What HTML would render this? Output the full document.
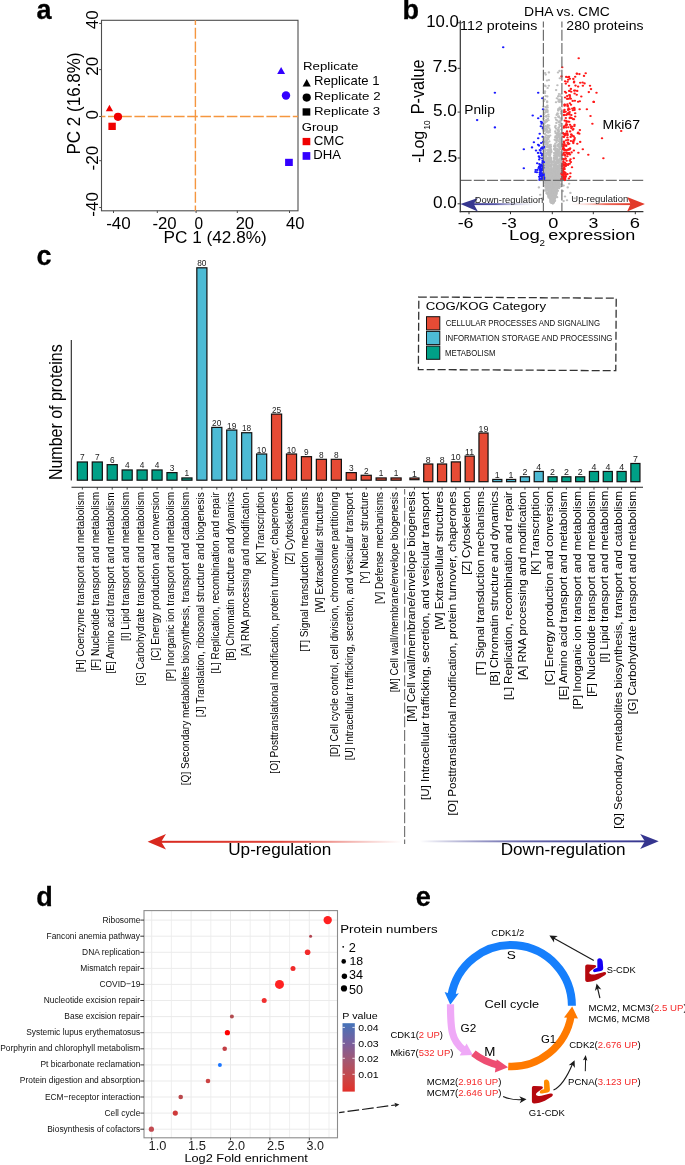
<!DOCTYPE html>
<html><head><meta charset="utf-8"><style>
html,body{margin:0;padding:0;background:#fff;width:685px;height:1165px;overflow:hidden}
svg{display:block;will-change:transform}
text{font-family:"Liberation Sans",sans-serif;white-space:pre}
</style></head><body><div id="w">
<svg width="685" height="1165" viewBox="0 0 685 1165">
<rect width="685" height="1165" fill="#fff"/>
<g>
<rect width="685" height="1165" fill="#fff"/>
<rect x="101.5" y="20.3" width="196.5" height="190.5" fill="none" stroke="#4d4d4d" stroke-width="1.1"/>
<line x1="113.5" y1="210.8" x2="113.5" y2="213" stroke="#4d4d4d" stroke-width="1"/>
<line x1="157.3" y1="210.8" x2="157.3" y2="213" stroke="#4d4d4d" stroke-width="1"/>
<line x1="196.1" y1="210.8" x2="196.1" y2="213" stroke="#4d4d4d" stroke-width="1"/>
<line x1="237.3" y1="210.8" x2="237.3" y2="213" stroke="#4d4d4d" stroke-width="1"/>
<line x1="289.5" y1="210.8" x2="289.5" y2="213" stroke="#4d4d4d" stroke-width="1"/>
<line x1="99.2" y1="23.4" x2="101.5" y2="23.4" stroke="#4d4d4d" stroke-width="1"/>
<line x1="99.2" y1="69.6" x2="101.5" y2="69.6" stroke="#4d4d4d" stroke-width="1"/>
<line x1="99.2" y1="116.5" x2="101.5" y2="116.5" stroke="#4d4d4d" stroke-width="1"/>
<line x1="99.2" y1="160.7" x2="101.5" y2="160.7" stroke="#4d4d4d" stroke-width="1"/>
<line x1="99.2" y1="207.5" x2="101.5" y2="207.5" stroke="#4d4d4d" stroke-width="1"/>
<line x1="101.5" y1="116.5" x2="298" y2="116.5" stroke="#f5963f" stroke-width="1.4" stroke-dasharray="10.6 2.6" stroke-dashoffset="6.7"/>
<line x1="195.4" y1="20.3" x2="195.4" y2="210.8" stroke="#f5963f" stroke-width="1.4" stroke-dasharray="11.0 2.67" stroke-dashoffset="6.2"/>
<polygon points="109.44999999999999,104.7 113.1,111.2 105.8,111.2" fill="#f00000"/>
<circle cx="118" cy="116.8" r="4.1" fill="#f00000"/>
<rect x="108.4" y="122.7" width="7.3999999999999915" height="7.299999999999997" fill="#f00000"/>
<polygon points="281.15,67 285.1,74 277.2,74" fill="#3300ff"/>
<circle cx="286" cy="95.5" r="4.2" fill="#3300ff"/>
<rect x="285.1" y="158.8" width="7.699999999999989" height="7.199999999999989" fill="#3300ff"/>
<polygon points="306.70000000000005,79.1 310.8,86.4 302.6,86.4" fill="#000"/>
<circle cx="306.7" cy="97.6" r="4.1" fill="#000"/>
<rect x="302.6" y="108.3" width="7.699999999999989" height="7.299999999999997" fill="#000"/>
<rect x="302.6" y="137.9" width="7.699999999999989" height="7.299999999999983" fill="#f00000"/>
<rect x="302.6" y="152.1" width="7.699999999999989" height="7.700000000000017" fill="#3300ff"/>
<g>
<ellipse cx="554.7" cy="191.8" rx="1.25" ry="1.05" fill="#bdbdbd"/>
<ellipse cx="554.2" cy="198.9" rx="1.25" ry="1.05" fill="#bdbdbd"/>
<ellipse cx="551.9" cy="187.5" rx="1.25" ry="1.05" fill="#bdbdbd"/>
<ellipse cx="553.4" cy="188.1" rx="1.25" ry="1.05" fill="#bdbdbd"/>
<ellipse cx="552.2" cy="200.5" rx="1.25" ry="1.05" fill="#bdbdbd"/>
<ellipse cx="552.8" cy="198.2" rx="1.25" ry="1.05" fill="#bdbdbd"/>
<ellipse cx="553.3" cy="189.7" rx="1.25" ry="1.05" fill="#bdbdbd"/>
<ellipse cx="551.7" cy="194.2" rx="1.25" ry="1.05" fill="#bdbdbd"/>
<ellipse cx="556.7" cy="185.9" rx="1.25" ry="1.05" fill="#bdbdbd"/>
<ellipse cx="551.5" cy="190.2" rx="1.25" ry="1.05" fill="#bdbdbd"/>
<ellipse cx="560.3" cy="180.5" rx="1.25" ry="1.05" fill="#bdbdbd"/>
<ellipse cx="553.9" cy="192.6" rx="1.25" ry="1.05" fill="#bdbdbd"/>
<ellipse cx="553.7" cy="196.4" rx="1.25" ry="1.05" fill="#bdbdbd"/>
<ellipse cx="554.8" cy="182.9" rx="1.25" ry="1.05" fill="#bdbdbd"/>
<ellipse cx="550.2" cy="195.3" rx="1.25" ry="1.05" fill="#bdbdbd"/>
<ellipse cx="550.8" cy="190.7" rx="1.25" ry="1.05" fill="#bdbdbd"/>
<ellipse cx="553.6" cy="187.3" rx="1.25" ry="1.05" fill="#bdbdbd"/>
<ellipse cx="552.9" cy="194.6" rx="1.25" ry="1.05" fill="#bdbdbd"/>
<ellipse cx="549.9" cy="185.0" rx="1.25" ry="1.05" fill="#bdbdbd"/>
<ellipse cx="553.8" cy="186.6" rx="1.25" ry="1.05" fill="#bdbdbd"/>
<ellipse cx="551.1" cy="189.1" rx="1.25" ry="1.05" fill="#bdbdbd"/>
<ellipse cx="558.4" cy="184.7" rx="1.25" ry="1.05" fill="#bdbdbd"/>
<ellipse cx="550.2" cy="193.6" rx="1.25" ry="1.05" fill="#bdbdbd"/>
<ellipse cx="550.5" cy="182.0" rx="1.25" ry="1.05" fill="#bdbdbd"/>
<ellipse cx="550.3" cy="184.2" rx="1.25" ry="1.05" fill="#bdbdbd"/>
<ellipse cx="557.1" cy="197.2" rx="1.25" ry="1.05" fill="#bdbdbd"/>
<ellipse cx="552.7" cy="189.8" rx="1.25" ry="1.05" fill="#bdbdbd"/>
<ellipse cx="550.9" cy="188.4" rx="1.25" ry="1.05" fill="#bdbdbd"/>
<ellipse cx="551.6" cy="200.4" rx="1.25" ry="1.05" fill="#bdbdbd"/>
<ellipse cx="547.9" cy="186.9" rx="1.25" ry="1.05" fill="#bdbdbd"/>
<ellipse cx="550.3" cy="182.0" rx="1.25" ry="1.05" fill="#bdbdbd"/>
<ellipse cx="557.1" cy="186.5" rx="1.25" ry="1.05" fill="#bdbdbd"/>
<ellipse cx="546.8" cy="186.7" rx="1.25" ry="1.05" fill="#bdbdbd"/>
<ellipse cx="554.7" cy="180.9" rx="1.25" ry="1.05" fill="#bdbdbd"/>
<ellipse cx="552.1" cy="188.7" rx="1.25" ry="1.05" fill="#bdbdbd"/>
<ellipse cx="551.5" cy="184.7" rx="1.25" ry="1.05" fill="#bdbdbd"/>
<ellipse cx="558.8" cy="185.6" rx="1.25" ry="1.05" fill="#bdbdbd"/>
<ellipse cx="552.4" cy="192.7" rx="1.25" ry="1.05" fill="#bdbdbd"/>
<ellipse cx="552.3" cy="190.4" rx="1.25" ry="1.05" fill="#bdbdbd"/>
<ellipse cx="552.1" cy="188.9" rx="1.25" ry="1.05" fill="#bdbdbd"/>
<ellipse cx="553.1" cy="195.7" rx="1.25" ry="1.05" fill="#bdbdbd"/>
<ellipse cx="553.4" cy="183.6" rx="1.25" ry="1.05" fill="#bdbdbd"/>
<ellipse cx="552.6" cy="196.9" rx="1.25" ry="1.05" fill="#bdbdbd"/>
<ellipse cx="556.4" cy="182.0" rx="1.25" ry="1.05" fill="#bdbdbd"/>
<ellipse cx="550.9" cy="198.6" rx="1.25" ry="1.05" fill="#bdbdbd"/>
<ellipse cx="554.1" cy="181.8" rx="1.25" ry="1.05" fill="#bdbdbd"/>
<ellipse cx="554.6" cy="182.8" rx="1.25" ry="1.05" fill="#bdbdbd"/>
<ellipse cx="550.9" cy="189.8" rx="1.25" ry="1.05" fill="#bdbdbd"/>
<ellipse cx="557.4" cy="191.0" rx="1.25" ry="1.05" fill="#bdbdbd"/>
<ellipse cx="549.6" cy="196.2" rx="1.25" ry="1.05" fill="#bdbdbd"/>
<ellipse cx="552.8" cy="195.5" rx="1.25" ry="1.05" fill="#bdbdbd"/>
<ellipse cx="554.7" cy="188.5" rx="1.25" ry="1.05" fill="#bdbdbd"/>
<ellipse cx="552.6" cy="186.6" rx="1.25" ry="1.05" fill="#bdbdbd"/>
<ellipse cx="552.8" cy="189.8" rx="1.25" ry="1.05" fill="#bdbdbd"/>
<ellipse cx="546.8" cy="190.8" rx="1.25" ry="1.05" fill="#bdbdbd"/>
<ellipse cx="549.2" cy="184.9" rx="1.25" ry="1.05" fill="#bdbdbd"/>
<ellipse cx="549.3" cy="187.9" rx="1.25" ry="1.05" fill="#bdbdbd"/>
<ellipse cx="551.3" cy="199.7" rx="1.25" ry="1.05" fill="#bdbdbd"/>
<ellipse cx="554.1" cy="181.6" rx="1.25" ry="1.05" fill="#bdbdbd"/>
<ellipse cx="545.2" cy="183.1" rx="1.25" ry="1.05" fill="#bdbdbd"/>
<ellipse cx="551.6" cy="190.3" rx="1.25" ry="1.05" fill="#bdbdbd"/>
<ellipse cx="553.5" cy="185.8" rx="1.25" ry="1.05" fill="#bdbdbd"/>
<ellipse cx="553.4" cy="199.3" rx="1.25" ry="1.05" fill="#bdbdbd"/>
<ellipse cx="553.1" cy="195.9" rx="1.25" ry="1.05" fill="#bdbdbd"/>
<ellipse cx="552.7" cy="191.4" rx="1.25" ry="1.05" fill="#bdbdbd"/>
<ellipse cx="552.6" cy="196.2" rx="1.25" ry="1.05" fill="#bdbdbd"/>
<ellipse cx="552.4" cy="197.8" rx="1.25" ry="1.05" fill="#bdbdbd"/>
<ellipse cx="553.3" cy="182.0" rx="1.25" ry="1.05" fill="#bdbdbd"/>
<ellipse cx="554.1" cy="186.1" rx="1.25" ry="1.05" fill="#bdbdbd"/>
<ellipse cx="554.1" cy="191.3" rx="1.25" ry="1.05" fill="#bdbdbd"/>
<ellipse cx="556.2" cy="190.9" rx="1.25" ry="1.05" fill="#bdbdbd"/>
<ellipse cx="558.2" cy="180.2" rx="1.25" ry="1.05" fill="#bdbdbd"/>
<ellipse cx="551.4" cy="188.8" rx="1.25" ry="1.05" fill="#bdbdbd"/>
<ellipse cx="552.7" cy="197.8" rx="1.25" ry="1.05" fill="#bdbdbd"/>
<ellipse cx="552.2" cy="191.4" rx="1.25" ry="1.05" fill="#bdbdbd"/>
<ellipse cx="556.0" cy="195.9" rx="1.25" ry="1.05" fill="#bdbdbd"/>
<ellipse cx="553.8" cy="201.3" rx="1.25" ry="1.05" fill="#bdbdbd"/>
<ellipse cx="551.9" cy="196.3" rx="1.25" ry="1.05" fill="#bdbdbd"/>
<ellipse cx="556.3" cy="187.4" rx="1.25" ry="1.05" fill="#bdbdbd"/>
<ellipse cx="553.4" cy="180.4" rx="1.25" ry="1.05" fill="#bdbdbd"/>
<ellipse cx="551.6" cy="182.1" rx="1.25" ry="1.05" fill="#bdbdbd"/>
<ellipse cx="550.7" cy="190.8" rx="1.25" ry="1.05" fill="#bdbdbd"/>
<ellipse cx="552.9" cy="195.7" rx="1.25" ry="1.05" fill="#bdbdbd"/>
<ellipse cx="548.2" cy="183.4" rx="1.25" ry="1.05" fill="#bdbdbd"/>
<ellipse cx="553.4" cy="191.6" rx="1.25" ry="1.05" fill="#bdbdbd"/>
<ellipse cx="560.0" cy="180.4" rx="1.25" ry="1.05" fill="#bdbdbd"/>
<ellipse cx="555.0" cy="182.3" rx="1.25" ry="1.05" fill="#bdbdbd"/>
<ellipse cx="546.4" cy="184.1" rx="1.25" ry="1.05" fill="#bdbdbd"/>
<ellipse cx="550.6" cy="194.1" rx="1.25" ry="1.05" fill="#bdbdbd"/>
<ellipse cx="552.5" cy="201.0" rx="1.25" ry="1.05" fill="#bdbdbd"/>
<ellipse cx="552.4" cy="201.0" rx="1.25" ry="1.05" fill="#bdbdbd"/>
<ellipse cx="555.2" cy="184.8" rx="1.25" ry="1.05" fill="#bdbdbd"/>
<ellipse cx="543.6" cy="180.8" rx="1.25" ry="1.05" fill="#bdbdbd"/>
<ellipse cx="555.7" cy="180.3" rx="1.25" ry="1.05" fill="#bdbdbd"/>
<ellipse cx="550.7" cy="180.8" rx="1.25" ry="1.05" fill="#bdbdbd"/>
<ellipse cx="553.7" cy="194.1" rx="1.25" ry="1.05" fill="#bdbdbd"/>
<ellipse cx="553.4" cy="194.9" rx="1.25" ry="1.05" fill="#bdbdbd"/>
<ellipse cx="557.8" cy="181.6" rx="1.25" ry="1.05" fill="#bdbdbd"/>
<ellipse cx="547.1" cy="182.5" rx="1.25" ry="1.05" fill="#bdbdbd"/>
<ellipse cx="553.3" cy="183.1" rx="1.25" ry="1.05" fill="#bdbdbd"/>
<ellipse cx="550.9" cy="198.4" rx="1.25" ry="1.05" fill="#bdbdbd"/>
<ellipse cx="545.8" cy="183.4" rx="1.25" ry="1.05" fill="#bdbdbd"/>
<ellipse cx="550.4" cy="183.9" rx="1.25" ry="1.05" fill="#bdbdbd"/>
<ellipse cx="552.9" cy="183.3" rx="1.25" ry="1.05" fill="#bdbdbd"/>
<ellipse cx="554.7" cy="191.6" rx="1.25" ry="1.05" fill="#bdbdbd"/>
<ellipse cx="545.9" cy="190.2" rx="1.25" ry="1.05" fill="#bdbdbd"/>
<ellipse cx="556.7" cy="190.1" rx="1.25" ry="1.05" fill="#bdbdbd"/>
<ellipse cx="551.6" cy="195.6" rx="1.25" ry="1.05" fill="#bdbdbd"/>
<ellipse cx="554.7" cy="196.9" rx="1.25" ry="1.05" fill="#bdbdbd"/>
<ellipse cx="559.1" cy="183.0" rx="1.25" ry="1.05" fill="#bdbdbd"/>
<ellipse cx="554.9" cy="196.3" rx="1.25" ry="1.05" fill="#bdbdbd"/>
<ellipse cx="544.3" cy="185.4" rx="1.25" ry="1.05" fill="#bdbdbd"/>
<ellipse cx="551.3" cy="191.2" rx="1.25" ry="1.05" fill="#bdbdbd"/>
<ellipse cx="552.4" cy="202.0" rx="1.25" ry="1.05" fill="#bdbdbd"/>
<ellipse cx="549.7" cy="180.6" rx="1.25" ry="1.05" fill="#bdbdbd"/>
<ellipse cx="548.7" cy="181.1" rx="1.25" ry="1.05" fill="#bdbdbd"/>
<ellipse cx="556.2" cy="189.5" rx="1.25" ry="1.05" fill="#bdbdbd"/>
<ellipse cx="549.9" cy="194.5" rx="1.25" ry="1.05" fill="#bdbdbd"/>
<ellipse cx="552.2" cy="193.5" rx="1.25" ry="1.05" fill="#bdbdbd"/>
<ellipse cx="554.9" cy="186.6" rx="1.25" ry="1.05" fill="#bdbdbd"/>
<ellipse cx="551.6" cy="193.3" rx="1.25" ry="1.05" fill="#bdbdbd"/>
<ellipse cx="553.6" cy="181.4" rx="1.25" ry="1.05" fill="#bdbdbd"/>
<ellipse cx="549.4" cy="191.1" rx="1.25" ry="1.05" fill="#bdbdbd"/>
<ellipse cx="553.9" cy="181.5" rx="1.25" ry="1.05" fill="#bdbdbd"/>
<ellipse cx="555.4" cy="189.7" rx="1.25" ry="1.05" fill="#bdbdbd"/>
<ellipse cx="550.8" cy="187.6" rx="1.25" ry="1.05" fill="#bdbdbd"/>
<ellipse cx="555.8" cy="187.8" rx="1.25" ry="1.05" fill="#bdbdbd"/>
<ellipse cx="552.8" cy="195.3" rx="1.25" ry="1.05" fill="#bdbdbd"/>
<ellipse cx="552.8" cy="202.9" rx="1.25" ry="1.05" fill="#bdbdbd"/>
<ellipse cx="550.9" cy="188.7" rx="1.25" ry="1.05" fill="#bdbdbd"/>
<ellipse cx="549.7" cy="184.3" rx="1.25" ry="1.05" fill="#bdbdbd"/>
<ellipse cx="551.7" cy="187.8" rx="1.25" ry="1.05" fill="#bdbdbd"/>
<ellipse cx="552.9" cy="187.2" rx="1.25" ry="1.05" fill="#bdbdbd"/>
<ellipse cx="551.2" cy="187.1" rx="1.25" ry="1.05" fill="#bdbdbd"/>
<ellipse cx="552.0" cy="193.5" rx="1.25" ry="1.05" fill="#bdbdbd"/>
<ellipse cx="557.6" cy="188.0" rx="1.25" ry="1.05" fill="#bdbdbd"/>
<ellipse cx="553.0" cy="187.1" rx="1.25" ry="1.05" fill="#bdbdbd"/>
<ellipse cx="546.4" cy="189.3" rx="1.25" ry="1.05" fill="#bdbdbd"/>
<ellipse cx="548.7" cy="186.2" rx="1.25" ry="1.05" fill="#bdbdbd"/>
<ellipse cx="552.5" cy="184.8" rx="1.25" ry="1.05" fill="#bdbdbd"/>
<ellipse cx="549.5" cy="189.1" rx="1.25" ry="1.05" fill="#bdbdbd"/>
<ellipse cx="551.7" cy="181.0" rx="1.25" ry="1.05" fill="#bdbdbd"/>
<ellipse cx="558.5" cy="184.7" rx="1.25" ry="1.05" fill="#bdbdbd"/>
<ellipse cx="548.9" cy="193.3" rx="1.25" ry="1.05" fill="#bdbdbd"/>
<ellipse cx="558.2" cy="187.1" rx="1.25" ry="1.05" fill="#bdbdbd"/>
<ellipse cx="551.4" cy="196.6" rx="1.25" ry="1.05" fill="#bdbdbd"/>
<ellipse cx="552.0" cy="197.1" rx="1.25" ry="1.05" fill="#bdbdbd"/>
<ellipse cx="552.9" cy="193.7" rx="1.25" ry="1.05" fill="#bdbdbd"/>
<ellipse cx="551.4" cy="198.9" rx="1.25" ry="1.05" fill="#bdbdbd"/>
<ellipse cx="546.6" cy="181.6" rx="1.25" ry="1.05" fill="#bdbdbd"/>
<ellipse cx="552.0" cy="196.1" rx="1.25" ry="1.05" fill="#bdbdbd"/>
<ellipse cx="550.1" cy="196.4" rx="1.25" ry="1.05" fill="#bdbdbd"/>
<ellipse cx="555.3" cy="181.8" rx="1.25" ry="1.05" fill="#bdbdbd"/>
<ellipse cx="552.0" cy="180.8" rx="1.25" ry="1.05" fill="#bdbdbd"/>
<ellipse cx="544.6" cy="190.2" rx="1.25" ry="1.05" fill="#bdbdbd"/>
<ellipse cx="553.5" cy="182.6" rx="1.25" ry="1.05" fill="#bdbdbd"/>
<ellipse cx="550.6" cy="195.9" rx="1.25" ry="1.05" fill="#bdbdbd"/>
<ellipse cx="553.8" cy="191.4" rx="1.25" ry="1.05" fill="#bdbdbd"/>
<ellipse cx="551.3" cy="194.9" rx="1.25" ry="1.05" fill="#bdbdbd"/>
<ellipse cx="554.1" cy="201.6" rx="1.25" ry="1.05" fill="#bdbdbd"/>
<ellipse cx="552.0" cy="187.2" rx="1.25" ry="1.05" fill="#bdbdbd"/>
<ellipse cx="552.8" cy="191.6" rx="1.25" ry="1.05" fill="#bdbdbd"/>
<ellipse cx="551.4" cy="186.0" rx="1.25" ry="1.05" fill="#bdbdbd"/>
<ellipse cx="552.5" cy="180.4" rx="1.25" ry="1.05" fill="#bdbdbd"/>
<ellipse cx="554.3" cy="183.3" rx="1.25" ry="1.05" fill="#bdbdbd"/>
<ellipse cx="552.4" cy="193.1" rx="1.25" ry="1.05" fill="#bdbdbd"/>
<ellipse cx="552.8" cy="200.4" rx="1.25" ry="1.05" fill="#bdbdbd"/>
<ellipse cx="551.3" cy="196.9" rx="1.25" ry="1.05" fill="#bdbdbd"/>
<ellipse cx="556.9" cy="189.7" rx="1.25" ry="1.05" fill="#bdbdbd"/>
<ellipse cx="550.4" cy="193.3" rx="1.25" ry="1.05" fill="#bdbdbd"/>
<ellipse cx="554.6" cy="196.2" rx="1.25" ry="1.05" fill="#bdbdbd"/>
<ellipse cx="550.4" cy="184.7" rx="1.25" ry="1.05" fill="#bdbdbd"/>
<ellipse cx="554.7" cy="198.2" rx="1.25" ry="1.05" fill="#bdbdbd"/>
<ellipse cx="554.1" cy="189.6" rx="1.25" ry="1.05" fill="#bdbdbd"/>
<ellipse cx="554.4" cy="198.9" rx="1.25" ry="1.05" fill="#bdbdbd"/>
<ellipse cx="550.6" cy="183.1" rx="1.25" ry="1.05" fill="#bdbdbd"/>
<ellipse cx="552.9" cy="198.5" rx="1.25" ry="1.05" fill="#bdbdbd"/>
<ellipse cx="551.5" cy="182.1" rx="1.25" ry="1.05" fill="#bdbdbd"/>
<ellipse cx="550.7" cy="189.1" rx="1.25" ry="1.05" fill="#bdbdbd"/>
<ellipse cx="556.9" cy="181.2" rx="1.25" ry="1.05" fill="#bdbdbd"/>
<ellipse cx="554.5" cy="193.1" rx="1.25" ry="1.05" fill="#bdbdbd"/>
<ellipse cx="554.5" cy="193.8" rx="1.25" ry="1.05" fill="#bdbdbd"/>
<ellipse cx="552.9" cy="197.5" rx="1.25" ry="1.05" fill="#bdbdbd"/>
<ellipse cx="553.1" cy="194.7" rx="1.25" ry="1.05" fill="#bdbdbd"/>
<ellipse cx="551.2" cy="192.0" rx="1.25" ry="1.05" fill="#bdbdbd"/>
<ellipse cx="556.3" cy="192.5" rx="1.25" ry="1.05" fill="#bdbdbd"/>
<ellipse cx="553.8" cy="188.2" rx="1.25" ry="1.05" fill="#bdbdbd"/>
<ellipse cx="553.4" cy="201.7" rx="1.25" ry="1.05" fill="#bdbdbd"/>
<ellipse cx="556.1" cy="193.5" rx="1.25" ry="1.05" fill="#bdbdbd"/>
<ellipse cx="553.1" cy="187.3" rx="1.25" ry="1.05" fill="#bdbdbd"/>
<ellipse cx="548.1" cy="195.1" rx="1.25" ry="1.05" fill="#bdbdbd"/>
<ellipse cx="553.2" cy="197.6" rx="1.25" ry="1.05" fill="#bdbdbd"/>
<ellipse cx="548.6" cy="182.8" rx="1.25" ry="1.05" fill="#bdbdbd"/>
<ellipse cx="554.4" cy="182.6" rx="1.25" ry="1.05" fill="#bdbdbd"/>
<ellipse cx="548.6" cy="190.3" rx="1.25" ry="1.05" fill="#bdbdbd"/>
<ellipse cx="552.3" cy="180.4" rx="1.25" ry="1.05" fill="#bdbdbd"/>
<ellipse cx="554.5" cy="191.4" rx="1.25" ry="1.05" fill="#bdbdbd"/>
<ellipse cx="548.1" cy="185.8" rx="1.25" ry="1.05" fill="#bdbdbd"/>
<ellipse cx="552.1" cy="190.1" rx="1.25" ry="1.05" fill="#bdbdbd"/>
<ellipse cx="553.1" cy="196.8" rx="1.25" ry="1.05" fill="#bdbdbd"/>
<ellipse cx="552.5" cy="199.0" rx="1.25" ry="1.05" fill="#bdbdbd"/>
<ellipse cx="551.2" cy="195.8" rx="1.25" ry="1.05" fill="#bdbdbd"/>
<ellipse cx="554.2" cy="198.4" rx="1.25" ry="1.05" fill="#bdbdbd"/>
<ellipse cx="546.8" cy="185.2" rx="1.25" ry="1.05" fill="#bdbdbd"/>
<ellipse cx="552.7" cy="192.7" rx="1.25" ry="1.05" fill="#bdbdbd"/>
<ellipse cx="555.0" cy="189.0" rx="1.25" ry="1.05" fill="#bdbdbd"/>
<ellipse cx="551.3" cy="196.0" rx="1.25" ry="1.05" fill="#bdbdbd"/>
<ellipse cx="553.7" cy="180.7" rx="1.25" ry="1.05" fill="#bdbdbd"/>
<ellipse cx="549.7" cy="180.5" rx="1.25" ry="1.05" fill="#bdbdbd"/>
<ellipse cx="551.7" cy="180.6" rx="1.25" ry="1.05" fill="#bdbdbd"/>
<ellipse cx="552.5" cy="192.1" rx="1.25" ry="1.05" fill="#bdbdbd"/>
<ellipse cx="552.7" cy="190.5" rx="1.25" ry="1.05" fill="#bdbdbd"/>
<ellipse cx="550.7" cy="188.7" rx="1.25" ry="1.05" fill="#bdbdbd"/>
<ellipse cx="552.6" cy="188.1" rx="1.25" ry="1.05" fill="#bdbdbd"/>
<ellipse cx="552.6" cy="202.8" rx="1.25" ry="1.05" fill="#bdbdbd"/>
<ellipse cx="553.8" cy="190.2" rx="1.25" ry="1.05" fill="#bdbdbd"/>
<ellipse cx="553.6" cy="200.3" rx="1.25" ry="1.05" fill="#bdbdbd"/>
<ellipse cx="552.9" cy="193.9" rx="1.25" ry="1.05" fill="#bdbdbd"/>
<ellipse cx="547.4" cy="186.6" rx="1.25" ry="1.05" fill="#bdbdbd"/>
<ellipse cx="551.6" cy="185.4" rx="1.25" ry="1.05" fill="#bdbdbd"/>
<ellipse cx="555.1" cy="184.4" rx="1.25" ry="1.05" fill="#bdbdbd"/>
<ellipse cx="550.9" cy="191.7" rx="1.25" ry="1.05" fill="#bdbdbd"/>
<ellipse cx="556.5" cy="180.4" rx="1.25" ry="1.05" fill="#bdbdbd"/>
<ellipse cx="556.9" cy="185.6" rx="1.25" ry="1.05" fill="#bdbdbd"/>
<ellipse cx="553.9" cy="200.2" rx="1.25" ry="1.05" fill="#bdbdbd"/>
<ellipse cx="546.6" cy="185.9" rx="1.25" ry="1.05" fill="#bdbdbd"/>
<ellipse cx="553.3" cy="184.1" rx="1.25" ry="1.05" fill="#bdbdbd"/>
<ellipse cx="551.1" cy="187.7" rx="1.25" ry="1.05" fill="#bdbdbd"/>
<ellipse cx="555.3" cy="188.1" rx="1.25" ry="1.05" fill="#bdbdbd"/>
<ellipse cx="546.8" cy="182.7" rx="1.25" ry="1.05" fill="#bdbdbd"/>
<ellipse cx="556.4" cy="186.7" rx="1.25" ry="1.05" fill="#bdbdbd"/>
<ellipse cx="549.3" cy="184.8" rx="1.25" ry="1.05" fill="#bdbdbd"/>
<ellipse cx="553.7" cy="194.0" rx="1.25" ry="1.05" fill="#bdbdbd"/>
<ellipse cx="552.9" cy="191.0" rx="1.25" ry="1.05" fill="#bdbdbd"/>
<ellipse cx="553.6" cy="197.7" rx="1.25" ry="1.05" fill="#bdbdbd"/>
<ellipse cx="549.0" cy="185.9" rx="1.25" ry="1.05" fill="#bdbdbd"/>
<ellipse cx="551.0" cy="185.9" rx="1.25" ry="1.05" fill="#bdbdbd"/>
<ellipse cx="551.8" cy="203.0" rx="1.25" ry="1.05" fill="#bdbdbd"/>
<ellipse cx="552.6" cy="183.1" rx="1.25" ry="1.05" fill="#bdbdbd"/>
<ellipse cx="549.0" cy="187.5" rx="1.25" ry="1.05" fill="#bdbdbd"/>
<ellipse cx="557.6" cy="185.4" rx="1.25" ry="1.05" fill="#bdbdbd"/>
<ellipse cx="554.0" cy="193.4" rx="1.25" ry="1.05" fill="#bdbdbd"/>
<ellipse cx="552.4" cy="198.8" rx="1.25" ry="1.05" fill="#bdbdbd"/>
<ellipse cx="555.8" cy="194.7" rx="1.25" ry="1.05" fill="#bdbdbd"/>
<ellipse cx="556.7" cy="184.1" rx="1.25" ry="1.05" fill="#bdbdbd"/>
<ellipse cx="552.1" cy="190.5" rx="1.25" ry="1.05" fill="#bdbdbd"/>
<ellipse cx="550.6" cy="188.6" rx="1.25" ry="1.05" fill="#bdbdbd"/>
<ellipse cx="547.5" cy="186.1" rx="1.25" ry="1.05" fill="#bdbdbd"/>
<ellipse cx="554.3" cy="185.7" rx="1.25" ry="1.05" fill="#bdbdbd"/>
<ellipse cx="553.2" cy="193.4" rx="1.25" ry="1.05" fill="#bdbdbd"/>
<ellipse cx="551.1" cy="184.0" rx="1.25" ry="1.05" fill="#bdbdbd"/>
<ellipse cx="553.7" cy="202.1" rx="1.25" ry="1.05" fill="#bdbdbd"/>
<ellipse cx="552.4" cy="199.4" rx="1.25" ry="1.05" fill="#bdbdbd"/>
<ellipse cx="557.7" cy="184.8" rx="1.25" ry="1.05" fill="#bdbdbd"/>
<ellipse cx="551.6" cy="185.1" rx="1.25" ry="1.05" fill="#bdbdbd"/>
<ellipse cx="555.9" cy="188.9" rx="1.25" ry="1.05" fill="#bdbdbd"/>
<ellipse cx="557.1" cy="188.8" rx="1.25" ry="1.05" fill="#bdbdbd"/>
<ellipse cx="555.5" cy="194.8" rx="1.25" ry="1.05" fill="#bdbdbd"/>
<ellipse cx="553.3" cy="180.5" rx="1.25" ry="1.05" fill="#bdbdbd"/>
<ellipse cx="552.4" cy="189.0" rx="1.25" ry="1.05" fill="#bdbdbd"/>
<ellipse cx="556.6" cy="182.8" rx="1.25" ry="1.05" fill="#bdbdbd"/>
<ellipse cx="552.1" cy="193.0" rx="1.25" ry="1.05" fill="#bdbdbd"/>
<ellipse cx="553.9" cy="194.5" rx="1.25" ry="1.05" fill="#bdbdbd"/>
<ellipse cx="551.9" cy="186.7" rx="1.25" ry="1.05" fill="#bdbdbd"/>
<ellipse cx="548.3" cy="196.5" rx="1.25" ry="1.05" fill="#bdbdbd"/>
<ellipse cx="552.0" cy="196.8" rx="1.25" ry="1.05" fill="#bdbdbd"/>
<ellipse cx="544.8" cy="182.8" rx="1.25" ry="1.05" fill="#bdbdbd"/>
<ellipse cx="552.2" cy="184.6" rx="1.25" ry="1.05" fill="#bdbdbd"/>
<ellipse cx="554.6" cy="194.0" rx="1.25" ry="1.05" fill="#bdbdbd"/>
<ellipse cx="551.9" cy="201.2" rx="1.25" ry="1.05" fill="#bdbdbd"/>
<ellipse cx="551.7" cy="203.0" rx="1.25" ry="1.05" fill="#bdbdbd"/>
<ellipse cx="552.7" cy="192.3" rx="1.25" ry="1.05" fill="#bdbdbd"/>
<ellipse cx="551.8" cy="196.5" rx="1.25" ry="1.05" fill="#bdbdbd"/>
<ellipse cx="555.3" cy="182.5" rx="1.25" ry="1.05" fill="#bdbdbd"/>
<ellipse cx="552.6" cy="203.3" rx="1.25" ry="1.05" fill="#bdbdbd"/>
<ellipse cx="549.4" cy="197.2" rx="1.25" ry="1.05" fill="#bdbdbd"/>
<ellipse cx="550.6" cy="181.2" rx="1.25" ry="1.05" fill="#bdbdbd"/>
<ellipse cx="547.7" cy="192.5" rx="1.25" ry="1.05" fill="#bdbdbd"/>
<ellipse cx="545.2" cy="190.7" rx="1.25" ry="1.05" fill="#bdbdbd"/>
<ellipse cx="559.9" cy="186.6" rx="1.25" ry="1.05" fill="#bdbdbd"/>
<ellipse cx="550.8" cy="191.0" rx="1.25" ry="1.05" fill="#bdbdbd"/>
<ellipse cx="553.0" cy="200.0" rx="1.25" ry="1.05" fill="#bdbdbd"/>
<ellipse cx="553.2" cy="197.8" rx="1.25" ry="1.05" fill="#bdbdbd"/>
<ellipse cx="549.8" cy="181.1" rx="1.25" ry="1.05" fill="#bdbdbd"/>
<ellipse cx="552.3" cy="193.5" rx="1.25" ry="1.05" fill="#bdbdbd"/>
<ellipse cx="554.9" cy="195.1" rx="1.25" ry="1.05" fill="#bdbdbd"/>
<ellipse cx="557.8" cy="190.7" rx="1.25" ry="1.05" fill="#bdbdbd"/>
<ellipse cx="550.5" cy="182.9" rx="1.25" ry="1.05" fill="#bdbdbd"/>
<ellipse cx="559.3" cy="185.9" rx="1.25" ry="1.05" fill="#bdbdbd"/>
<ellipse cx="548.8" cy="187.3" rx="1.25" ry="1.05" fill="#bdbdbd"/>
<ellipse cx="558.0" cy="184.4" rx="1.25" ry="1.05" fill="#bdbdbd"/>
<ellipse cx="554.0" cy="189.1" rx="1.25" ry="1.05" fill="#bdbdbd"/>
<ellipse cx="550.8" cy="183.8" rx="1.25" ry="1.05" fill="#bdbdbd"/>
<ellipse cx="551.8" cy="199.9" rx="1.25" ry="1.05" fill="#bdbdbd"/>
<ellipse cx="555.7" cy="181.2" rx="1.25" ry="1.05" fill="#bdbdbd"/>
<ellipse cx="554.6" cy="191.3" rx="1.25" ry="1.05" fill="#bdbdbd"/>
<ellipse cx="552.2" cy="192.4" rx="1.25" ry="1.05" fill="#bdbdbd"/>
<ellipse cx="546.5" cy="193.3" rx="1.25" ry="1.05" fill="#bdbdbd"/>
<ellipse cx="551.3" cy="185.4" rx="1.25" ry="1.05" fill="#bdbdbd"/>
<ellipse cx="555.8" cy="190.3" rx="1.25" ry="1.05" fill="#bdbdbd"/>
<ellipse cx="553.3" cy="195.7" rx="1.25" ry="1.05" fill="#bdbdbd"/>
<ellipse cx="554.9" cy="181.5" rx="1.25" ry="1.05" fill="#bdbdbd"/>
<ellipse cx="553.8" cy="188.2" rx="1.25" ry="1.05" fill="#bdbdbd"/>
<ellipse cx="561.4" cy="180.2" rx="1.25" ry="1.05" fill="#bdbdbd"/>
<ellipse cx="553.8" cy="189.1" rx="1.25" ry="1.05" fill="#bdbdbd"/>
<ellipse cx="553.4" cy="198.2" rx="1.25" ry="1.05" fill="#bdbdbd"/>
<ellipse cx="554.1" cy="191.4" rx="1.25" ry="1.05" fill="#bdbdbd"/>
<ellipse cx="553.5" cy="193.3" rx="1.25" ry="1.05" fill="#bdbdbd"/>
<ellipse cx="556.6" cy="186.9" rx="1.25" ry="1.05" fill="#bdbdbd"/>
<ellipse cx="549.7" cy="189.9" rx="1.25" ry="1.05" fill="#bdbdbd"/>
<ellipse cx="550.0" cy="189.9" rx="1.25" ry="1.05" fill="#bdbdbd"/>
<ellipse cx="552.2" cy="191.5" rx="1.25" ry="1.05" fill="#bdbdbd"/>
<ellipse cx="552.0" cy="199.3" rx="1.25" ry="1.05" fill="#bdbdbd"/>
<ellipse cx="556.9" cy="197.0" rx="1.25" ry="1.05" fill="#bdbdbd"/>
<ellipse cx="548.6" cy="188.1" rx="1.25" ry="1.05" fill="#bdbdbd"/>
<ellipse cx="549.6" cy="194.4" rx="1.25" ry="1.05" fill="#bdbdbd"/>
<ellipse cx="552.6" cy="193.0" rx="1.25" ry="1.05" fill="#bdbdbd"/>
<ellipse cx="555.4" cy="189.2" rx="1.25" ry="1.05" fill="#bdbdbd"/>
<ellipse cx="557.3" cy="180.8" rx="1.25" ry="1.05" fill="#bdbdbd"/>
<ellipse cx="550.9" cy="201.4" rx="1.25" ry="1.05" fill="#bdbdbd"/>
<ellipse cx="552.0" cy="200.8" rx="1.25" ry="1.05" fill="#bdbdbd"/>
<ellipse cx="546.7" cy="188.7" rx="1.25" ry="1.05" fill="#bdbdbd"/>
<ellipse cx="555.8" cy="186.6" rx="1.25" ry="1.05" fill="#bdbdbd"/>
<ellipse cx="552.6" cy="181.2" rx="1.25" ry="1.05" fill="#bdbdbd"/>
<ellipse cx="558.8" cy="182.7" rx="1.25" ry="1.05" fill="#bdbdbd"/>
<ellipse cx="548.0" cy="193.5" rx="1.25" ry="1.05" fill="#bdbdbd"/>
<ellipse cx="553.7" cy="197.5" rx="1.25" ry="1.05" fill="#bdbdbd"/>
<ellipse cx="556.0" cy="185.0" rx="1.25" ry="1.05" fill="#bdbdbd"/>
<ellipse cx="551.6" cy="181.0" rx="1.25" ry="1.05" fill="#bdbdbd"/>
<ellipse cx="547.5" cy="183.7" rx="1.25" ry="1.05" fill="#bdbdbd"/>
<ellipse cx="551.8" cy="189.0" rx="1.25" ry="1.05" fill="#bdbdbd"/>
<ellipse cx="552.3" cy="183.4" rx="1.25" ry="1.05" fill="#bdbdbd"/>
<ellipse cx="555.3" cy="193.9" rx="1.25" ry="1.05" fill="#bdbdbd"/>
<ellipse cx="551.0" cy="192.2" rx="1.25" ry="1.05" fill="#bdbdbd"/>
<ellipse cx="552.6" cy="196.9" rx="1.25" ry="1.05" fill="#bdbdbd"/>
<ellipse cx="557.5" cy="184.7" rx="1.25" ry="1.05" fill="#bdbdbd"/>
<ellipse cx="554.4" cy="197.4" rx="1.25" ry="1.05" fill="#bdbdbd"/>
<ellipse cx="554.3" cy="186.7" rx="1.25" ry="1.05" fill="#bdbdbd"/>
<ellipse cx="553.2" cy="190.4" rx="1.25" ry="1.05" fill="#bdbdbd"/>
<ellipse cx="553.8" cy="202.3" rx="1.25" ry="1.05" fill="#bdbdbd"/>
<ellipse cx="546.8" cy="192.3" rx="1.25" ry="1.05" fill="#bdbdbd"/>
<ellipse cx="554.7" cy="185.6" rx="1.25" ry="1.05" fill="#bdbdbd"/>
<ellipse cx="549.8" cy="181.8" rx="1.25" ry="1.05" fill="#bdbdbd"/>
<ellipse cx="552.8" cy="193.6" rx="1.25" ry="1.05" fill="#bdbdbd"/>
<ellipse cx="551.6" cy="180.7" rx="1.25" ry="1.05" fill="#bdbdbd"/>
<ellipse cx="551.8" cy="201.4" rx="1.25" ry="1.05" fill="#bdbdbd"/>
<ellipse cx="551.2" cy="188.2" rx="1.25" ry="1.05" fill="#bdbdbd"/>
<ellipse cx="550.6" cy="193.3" rx="1.25" ry="1.05" fill="#bdbdbd"/>
<ellipse cx="554.8" cy="185.2" rx="1.25" ry="1.05" fill="#bdbdbd"/>
<ellipse cx="552.2" cy="200.7" rx="1.25" ry="1.05" fill="#bdbdbd"/>
<ellipse cx="549.3" cy="191.5" rx="1.25" ry="1.05" fill="#bdbdbd"/>
<ellipse cx="554.0" cy="194.8" rx="1.25" ry="1.05" fill="#bdbdbd"/>
<ellipse cx="552.3" cy="183.2" rx="1.25" ry="1.05" fill="#bdbdbd"/>
<ellipse cx="550.2" cy="194.7" rx="1.25" ry="1.05" fill="#bdbdbd"/>
<ellipse cx="549.8" cy="180.6" rx="1.25" ry="1.05" fill="#bdbdbd"/>
<ellipse cx="556.2" cy="194.0" rx="1.25" ry="1.05" fill="#bdbdbd"/>
<ellipse cx="552.7" cy="194.2" rx="1.25" ry="1.05" fill="#bdbdbd"/>
<ellipse cx="549.2" cy="180.8" rx="1.25" ry="1.05" fill="#bdbdbd"/>
<ellipse cx="553.4" cy="188.3" rx="1.25" ry="1.05" fill="#bdbdbd"/>
<ellipse cx="554.4" cy="189.8" rx="1.25" ry="1.05" fill="#bdbdbd"/>
<ellipse cx="554.4" cy="185.3" rx="1.25" ry="1.05" fill="#bdbdbd"/>
<ellipse cx="552.1" cy="190.3" rx="1.25" ry="1.05" fill="#bdbdbd"/>
<ellipse cx="553.7" cy="194.4" rx="1.25" ry="1.05" fill="#bdbdbd"/>
<ellipse cx="552.5" cy="199.8" rx="1.25" ry="1.05" fill="#bdbdbd"/>
<ellipse cx="550.4" cy="199.4" rx="1.25" ry="1.05" fill="#bdbdbd"/>
<ellipse cx="557.7" cy="181.8" rx="1.25" ry="1.05" fill="#bdbdbd"/>
<ellipse cx="560.8" cy="184.2" rx="1.25" ry="1.05" fill="#bdbdbd"/>
<ellipse cx="552.5" cy="191.7" rx="1.25" ry="1.05" fill="#bdbdbd"/>
<ellipse cx="555.5" cy="195.2" rx="1.25" ry="1.05" fill="#bdbdbd"/>
<ellipse cx="551.9" cy="200.8" rx="1.25" ry="1.05" fill="#bdbdbd"/>
<ellipse cx="550.2" cy="185.3" rx="1.25" ry="1.05" fill="#bdbdbd"/>
<ellipse cx="554.2" cy="191.6" rx="1.25" ry="1.05" fill="#bdbdbd"/>
<ellipse cx="554.1" cy="195.7" rx="1.25" ry="1.05" fill="#bdbdbd"/>
<ellipse cx="552.6" cy="191.2" rx="1.25" ry="1.05" fill="#bdbdbd"/>
<ellipse cx="560.0" cy="180.8" rx="1.25" ry="1.05" fill="#bdbdbd"/>
<ellipse cx="556.3" cy="194.6" rx="1.25" ry="1.05" fill="#bdbdbd"/>
<ellipse cx="554.6" cy="191.1" rx="1.25" ry="1.05" fill="#bdbdbd"/>
<ellipse cx="548.0" cy="189.5" rx="1.25" ry="1.05" fill="#bdbdbd"/>
<ellipse cx="551.4" cy="199.9" rx="1.25" ry="1.05" fill="#bdbdbd"/>
<ellipse cx="553.2" cy="181.3" rx="1.25" ry="1.05" fill="#bdbdbd"/>
<ellipse cx="549.8" cy="195.0" rx="1.25" ry="1.05" fill="#bdbdbd"/>
<ellipse cx="554.4" cy="200.9" rx="1.25" ry="1.05" fill="#bdbdbd"/>
<ellipse cx="554.3" cy="189.9" rx="1.25" ry="1.05" fill="#bdbdbd"/>
<ellipse cx="550.7" cy="200.3" rx="1.25" ry="1.05" fill="#bdbdbd"/>
<ellipse cx="555.0" cy="200.6" rx="1.25" ry="1.05" fill="#bdbdbd"/>
<ellipse cx="554.5" cy="193.3" rx="1.25" ry="1.05" fill="#bdbdbd"/>
<ellipse cx="555.2" cy="183.9" rx="1.25" ry="1.05" fill="#bdbdbd"/>
<ellipse cx="551.4" cy="193.0" rx="1.25" ry="1.05" fill="#bdbdbd"/>
<ellipse cx="550.3" cy="180.7" rx="1.25" ry="1.05" fill="#bdbdbd"/>
<ellipse cx="550.8" cy="184.4" rx="1.25" ry="1.05" fill="#bdbdbd"/>
<ellipse cx="552.6" cy="191.9" rx="1.25" ry="1.05" fill="#bdbdbd"/>
<ellipse cx="552.9" cy="183.8" rx="1.25" ry="1.05" fill="#bdbdbd"/>
<ellipse cx="546.3" cy="181.3" rx="1.25" ry="1.05" fill="#bdbdbd"/>
<ellipse cx="550.7" cy="201.3" rx="1.25" ry="1.05" fill="#bdbdbd"/>
<ellipse cx="547.3" cy="193.9" rx="1.25" ry="1.05" fill="#bdbdbd"/>
<ellipse cx="554.2" cy="180.8" rx="1.25" ry="1.05" fill="#bdbdbd"/>
<ellipse cx="552.6" cy="190.4" rx="1.25" ry="1.05" fill="#bdbdbd"/>
<ellipse cx="555.7" cy="188.3" rx="1.25" ry="1.05" fill="#bdbdbd"/>
<ellipse cx="555.5" cy="181.2" rx="1.25" ry="1.05" fill="#bdbdbd"/>
<ellipse cx="558.4" cy="184.1" rx="1.25" ry="1.05" fill="#bdbdbd"/>
<ellipse cx="553.3" cy="182.8" rx="1.25" ry="1.05" fill="#bdbdbd"/>
<ellipse cx="549.3" cy="191.7" rx="1.25" ry="1.05" fill="#bdbdbd"/>
<ellipse cx="549.9" cy="191.9" rx="1.25" ry="1.05" fill="#bdbdbd"/>
<ellipse cx="554.5" cy="198.6" rx="1.25" ry="1.05" fill="#bdbdbd"/>
<ellipse cx="552.6" cy="194.9" rx="1.25" ry="1.05" fill="#bdbdbd"/>
<ellipse cx="551.6" cy="199.2" rx="1.25" ry="1.05" fill="#bdbdbd"/>
<ellipse cx="551.6" cy="200.7" rx="1.25" ry="1.05" fill="#bdbdbd"/>
<ellipse cx="551.4" cy="180.4" rx="1.25" ry="1.05" fill="#bdbdbd"/>
<ellipse cx="555.6" cy="181.8" rx="1.25" ry="1.05" fill="#bdbdbd"/>
<ellipse cx="552.5" cy="198.4" rx="1.25" ry="1.05" fill="#bdbdbd"/>
<ellipse cx="550.2" cy="198.0" rx="1.25" ry="1.05" fill="#bdbdbd"/>
<ellipse cx="552.6" cy="189.2" rx="1.25" ry="1.05" fill="#bdbdbd"/>
<ellipse cx="550.0" cy="193.9" rx="1.25" ry="1.05" fill="#bdbdbd"/>
<ellipse cx="555.0" cy="185.1" rx="1.25" ry="1.05" fill="#bdbdbd"/>
<ellipse cx="555.6" cy="183.9" rx="1.25" ry="1.05" fill="#bdbdbd"/>
<ellipse cx="550.6" cy="197.1" rx="1.25" ry="1.05" fill="#bdbdbd"/>
<ellipse cx="551.3" cy="182.5" rx="1.25" ry="1.05" fill="#bdbdbd"/>
<ellipse cx="555.8" cy="190.7" rx="1.25" ry="1.05" fill="#bdbdbd"/>
<ellipse cx="553.4" cy="184.1" rx="1.25" ry="1.05" fill="#bdbdbd"/>
<ellipse cx="554.1" cy="193.6" rx="1.25" ry="1.05" fill="#bdbdbd"/>
<ellipse cx="554.4" cy="196.1" rx="1.25" ry="1.05" fill="#bdbdbd"/>
<ellipse cx="550.5" cy="191.7" rx="1.25" ry="1.05" fill="#bdbdbd"/>
<ellipse cx="555.8" cy="190.2" rx="1.25" ry="1.05" fill="#bdbdbd"/>
<ellipse cx="552.5" cy="194.0" rx="1.25" ry="1.05" fill="#bdbdbd"/>
<ellipse cx="546.1" cy="183.0" rx="1.25" ry="1.05" fill="#bdbdbd"/>
<ellipse cx="548.7" cy="197.8" rx="1.25" ry="1.05" fill="#bdbdbd"/>
<ellipse cx="554.9" cy="188.7" rx="1.25" ry="1.05" fill="#bdbdbd"/>
<ellipse cx="545.8" cy="181.4" rx="1.25" ry="1.05" fill="#bdbdbd"/>
<ellipse cx="552.4" cy="200.4" rx="1.25" ry="1.05" fill="#bdbdbd"/>
<ellipse cx="553.5" cy="195.1" rx="1.25" ry="1.05" fill="#bdbdbd"/>
<ellipse cx="544.5" cy="180.5" rx="1.25" ry="1.05" fill="#bdbdbd"/>
<ellipse cx="549.6" cy="190.7" rx="1.25" ry="1.05" fill="#bdbdbd"/>
<ellipse cx="549.8" cy="182.1" rx="1.25" ry="1.05" fill="#bdbdbd"/>
<ellipse cx="553.5" cy="183.5" rx="1.25" ry="1.05" fill="#bdbdbd"/>
<ellipse cx="556.8" cy="180.9" rx="1.25" ry="1.05" fill="#bdbdbd"/>
<ellipse cx="555.3" cy="186.0" rx="1.25" ry="1.05" fill="#bdbdbd"/>
<ellipse cx="551.8" cy="194.3" rx="1.25" ry="1.05" fill="#bdbdbd"/>
<ellipse cx="553.4" cy="194.7" rx="1.25" ry="1.05" fill="#bdbdbd"/>
<ellipse cx="550.0" cy="193.4" rx="1.25" ry="1.05" fill="#bdbdbd"/>
<ellipse cx="550.9" cy="194.7" rx="1.25" ry="1.05" fill="#bdbdbd"/>
<ellipse cx="552.0" cy="202.2" rx="1.25" ry="1.05" fill="#bdbdbd"/>
<ellipse cx="555.2" cy="195.2" rx="1.25" ry="1.05" fill="#bdbdbd"/>
<ellipse cx="553.8" cy="192.0" rx="1.25" ry="1.05" fill="#bdbdbd"/>
<ellipse cx="557.9" cy="187.3" rx="1.25" ry="1.05" fill="#bdbdbd"/>
<ellipse cx="553.7" cy="199.3" rx="1.25" ry="1.05" fill="#bdbdbd"/>
<ellipse cx="554.4" cy="187.3" rx="1.25" ry="1.05" fill="#bdbdbd"/>
<ellipse cx="554.3" cy="185.7" rx="1.25" ry="1.05" fill="#bdbdbd"/>
<ellipse cx="553.7" cy="184.8" rx="1.25" ry="1.05" fill="#bdbdbd"/>
<ellipse cx="552.1" cy="189.9" rx="1.25" ry="1.05" fill="#bdbdbd"/>
<ellipse cx="556.0" cy="180.8" rx="1.25" ry="1.05" fill="#bdbdbd"/>
<ellipse cx="550.5" cy="192.0" rx="1.25" ry="1.05" fill="#bdbdbd"/>
<ellipse cx="551.6" cy="189.8" rx="1.25" ry="1.05" fill="#bdbdbd"/>
<ellipse cx="556.2" cy="182.1" rx="1.25" ry="1.05" fill="#bdbdbd"/>
<ellipse cx="552.6" cy="194.9" rx="1.25" ry="1.05" fill="#bdbdbd"/>
<ellipse cx="552.7" cy="184.2" rx="1.25" ry="1.05" fill="#bdbdbd"/>
<ellipse cx="553.0" cy="181.6" rx="1.25" ry="1.05" fill="#bdbdbd"/>
<ellipse cx="553.8" cy="189.7" rx="1.25" ry="1.05" fill="#bdbdbd"/>
<ellipse cx="549.0" cy="181.8" rx="1.25" ry="1.05" fill="#bdbdbd"/>
<ellipse cx="552.9" cy="188.9" rx="1.25" ry="1.05" fill="#bdbdbd"/>
<ellipse cx="553.1" cy="187.2" rx="1.25" ry="1.05" fill="#bdbdbd"/>
<ellipse cx="553.8" cy="185.7" rx="1.25" ry="1.05" fill="#bdbdbd"/>
<ellipse cx="551.8" cy="186.0" rx="1.25" ry="1.05" fill="#bdbdbd"/>
<ellipse cx="551.2" cy="190.8" rx="1.25" ry="1.05" fill="#bdbdbd"/>
<ellipse cx="552.6" cy="192.7" rx="1.25" ry="1.05" fill="#bdbdbd"/>
<ellipse cx="553.9" cy="187.8" rx="1.25" ry="1.05" fill="#bdbdbd"/>
<ellipse cx="552.0" cy="188.4" rx="1.25" ry="1.05" fill="#bdbdbd"/>
<ellipse cx="555.0" cy="183.0" rx="1.25" ry="1.05" fill="#bdbdbd"/>
<ellipse cx="552.4" cy="197.0" rx="1.25" ry="1.05" fill="#bdbdbd"/>
<ellipse cx="557.1" cy="181.0" rx="1.25" ry="1.05" fill="#bdbdbd"/>
<ellipse cx="552.4" cy="199.7" rx="1.25" ry="1.05" fill="#bdbdbd"/>
<ellipse cx="546.1" cy="181.2" rx="1.25" ry="1.05" fill="#bdbdbd"/>
<ellipse cx="557.2" cy="186.0" rx="1.25" ry="1.05" fill="#bdbdbd"/>
<ellipse cx="556.1" cy="182.7" rx="1.25" ry="1.05" fill="#bdbdbd"/>
<ellipse cx="555.7" cy="194.2" rx="1.25" ry="1.05" fill="#bdbdbd"/>
<ellipse cx="555.5" cy="190.1" rx="1.25" ry="1.05" fill="#bdbdbd"/>
<ellipse cx="549.6" cy="195.3" rx="1.25" ry="1.05" fill="#bdbdbd"/>
<ellipse cx="550.6" cy="194.3" rx="1.25" ry="1.05" fill="#bdbdbd"/>
<ellipse cx="554.5" cy="190.5" rx="1.25" ry="1.05" fill="#bdbdbd"/>
<ellipse cx="552.6" cy="197.1" rx="1.25" ry="1.05" fill="#bdbdbd"/>
<ellipse cx="558.9" cy="181.6" rx="1.25" ry="1.05" fill="#bdbdbd"/>
<ellipse cx="550.7" cy="200.3" rx="1.25" ry="1.05" fill="#bdbdbd"/>
<ellipse cx="551.8" cy="200.5" rx="1.25" ry="1.05" fill="#bdbdbd"/>
<ellipse cx="556.4" cy="182.5" rx="1.25" ry="1.05" fill="#bdbdbd"/>
<ellipse cx="555.4" cy="187.3" rx="1.25" ry="1.05" fill="#bdbdbd"/>
<ellipse cx="551.4" cy="185.9" rx="1.25" ry="1.05" fill="#bdbdbd"/>
<ellipse cx="555.7" cy="186.7" rx="1.25" ry="1.05" fill="#bdbdbd"/>
<ellipse cx="551.0" cy="189.6" rx="1.25" ry="1.05" fill="#bdbdbd"/>
<ellipse cx="550.1" cy="189.4" rx="1.25" ry="1.05" fill="#bdbdbd"/>
<ellipse cx="551.7" cy="201.3" rx="1.25" ry="1.05" fill="#bdbdbd"/>
<ellipse cx="550.9" cy="193.9" rx="1.25" ry="1.05" fill="#bdbdbd"/>
<ellipse cx="553.3" cy="183.7" rx="1.25" ry="1.05" fill="#bdbdbd"/>
<ellipse cx="550.5" cy="195.4" rx="1.25" ry="1.05" fill="#bdbdbd"/>
<ellipse cx="553.8" cy="188.7" rx="1.25" ry="1.05" fill="#bdbdbd"/>
<ellipse cx="553.5" cy="189.5" rx="1.25" ry="1.05" fill="#bdbdbd"/>
<ellipse cx="550.9" cy="198.2" rx="1.25" ry="1.05" fill="#bdbdbd"/>
<ellipse cx="553.1" cy="200.3" rx="1.25" ry="1.05" fill="#bdbdbd"/>
<ellipse cx="557.3" cy="185.8" rx="1.25" ry="1.05" fill="#bdbdbd"/>
<ellipse cx="555.5" cy="183.5" rx="1.25" ry="1.05" fill="#bdbdbd"/>
<ellipse cx="555.9" cy="188.0" rx="1.25" ry="1.05" fill="#bdbdbd"/>
<ellipse cx="553.6" cy="190.6" rx="1.25" ry="1.05" fill="#bdbdbd"/>
<ellipse cx="557.8" cy="180.8" rx="1.25" ry="1.05" fill="#bdbdbd"/>
<ellipse cx="558.7" cy="180.2" rx="1.25" ry="1.05" fill="#bdbdbd"/>
<ellipse cx="553.5" cy="184.2" rx="1.25" ry="1.05" fill="#bdbdbd"/>
<ellipse cx="550.1" cy="180.4" rx="1.25" ry="1.05" fill="#bdbdbd"/>
<ellipse cx="558.9" cy="188.3" rx="1.25" ry="1.05" fill="#bdbdbd"/>
<ellipse cx="551.5" cy="195.8" rx="1.25" ry="1.05" fill="#bdbdbd"/>
<ellipse cx="553.8" cy="183.3" rx="1.25" ry="1.05" fill="#bdbdbd"/>
<ellipse cx="552.2" cy="191.2" rx="1.25" ry="1.05" fill="#bdbdbd"/>
<ellipse cx="556.7" cy="183.8" rx="1.25" ry="1.05" fill="#bdbdbd"/>
<ellipse cx="556.7" cy="192.9" rx="1.25" ry="1.05" fill="#bdbdbd"/>
<ellipse cx="555.3" cy="182.9" rx="1.25" ry="1.05" fill="#bdbdbd"/>
<ellipse cx="556.3" cy="181.3" rx="1.25" ry="1.05" fill="#bdbdbd"/>
<ellipse cx="552.4" cy="194.6" rx="1.25" ry="1.05" fill="#bdbdbd"/>
<ellipse cx="555.5" cy="191.9" rx="1.25" ry="1.05" fill="#bdbdbd"/>
<ellipse cx="552.9" cy="200.5" rx="1.25" ry="1.05" fill="#bdbdbd"/>
<ellipse cx="554.8" cy="181.1" rx="1.25" ry="1.05" fill="#bdbdbd"/>
<ellipse cx="554.2" cy="185.0" rx="1.25" ry="1.05" fill="#bdbdbd"/>
<ellipse cx="551.2" cy="183.3" rx="1.25" ry="1.05" fill="#bdbdbd"/>
<ellipse cx="550.3" cy="197.3" rx="1.25" ry="1.05" fill="#bdbdbd"/>
<ellipse cx="551.9" cy="191.0" rx="1.25" ry="1.05" fill="#bdbdbd"/>
<ellipse cx="547.8" cy="182.0" rx="1.25" ry="1.05" fill="#bdbdbd"/>
<ellipse cx="550.9" cy="181.8" rx="1.25" ry="1.05" fill="#bdbdbd"/>
<ellipse cx="554.8" cy="197.7" rx="1.25" ry="1.05" fill="#bdbdbd"/>
<ellipse cx="552.4" cy="190.3" rx="1.25" ry="1.05" fill="#bdbdbd"/>
<ellipse cx="551.6" cy="183.1" rx="1.25" ry="1.05" fill="#bdbdbd"/>
<ellipse cx="552.9" cy="191.0" rx="1.25" ry="1.05" fill="#bdbdbd"/>
<ellipse cx="550.6" cy="195.4" rx="1.25" ry="1.05" fill="#bdbdbd"/>
<ellipse cx="558.9" cy="184.0" rx="1.25" ry="1.05" fill="#bdbdbd"/>
<ellipse cx="553.8" cy="193.4" rx="1.25" ry="1.05" fill="#bdbdbd"/>
<ellipse cx="557.0" cy="185.7" rx="1.25" ry="1.05" fill="#bdbdbd"/>
<ellipse cx="552.2" cy="185.3" rx="1.25" ry="1.05" fill="#bdbdbd"/>
<ellipse cx="553.2" cy="192.0" rx="1.25" ry="1.05" fill="#bdbdbd"/>
<ellipse cx="552.6" cy="196.2" rx="1.25" ry="1.05" fill="#bdbdbd"/>
<ellipse cx="549.0" cy="186.1" rx="1.25" ry="1.05" fill="#bdbdbd"/>
<ellipse cx="554.5" cy="181.7" rx="1.25" ry="1.05" fill="#bdbdbd"/>
<ellipse cx="553.0" cy="196.8" rx="1.25" ry="1.05" fill="#bdbdbd"/>
<ellipse cx="554.1" cy="201.4" rx="1.25" ry="1.05" fill="#bdbdbd"/>
<ellipse cx="552.4" cy="203.1" rx="1.25" ry="1.05" fill="#bdbdbd"/>
<ellipse cx="553.6" cy="191.0" rx="1.25" ry="1.05" fill="#bdbdbd"/>
<ellipse cx="550.2" cy="194.2" rx="1.25" ry="1.05" fill="#bdbdbd"/>
<ellipse cx="551.3" cy="194.7" rx="1.25" ry="1.05" fill="#bdbdbd"/>
<ellipse cx="550.9" cy="186.0" rx="1.25" ry="1.05" fill="#bdbdbd"/>
<ellipse cx="552.9" cy="181.1" rx="1.25" ry="1.05" fill="#bdbdbd"/>
<ellipse cx="553.2" cy="193.7" rx="1.25" ry="1.05" fill="#bdbdbd"/>
<ellipse cx="553.8" cy="185.7" rx="1.25" ry="1.05" fill="#bdbdbd"/>
<ellipse cx="553.4" cy="182.0" rx="1.25" ry="1.05" fill="#bdbdbd"/>
<ellipse cx="550.4" cy="193.2" rx="1.25" ry="1.05" fill="#bdbdbd"/>
<ellipse cx="551.9" cy="202.2" rx="1.25" ry="1.05" fill="#bdbdbd"/>
<ellipse cx="550.0" cy="191.2" rx="1.25" ry="1.05" fill="#bdbdbd"/>
<ellipse cx="545.3" cy="185.6" rx="1.25" ry="1.05" fill="#bdbdbd"/>
<ellipse cx="555.5" cy="184.2" rx="1.25" ry="1.05" fill="#bdbdbd"/>
<ellipse cx="553.1" cy="193.5" rx="1.25" ry="1.05" fill="#bdbdbd"/>
<ellipse cx="552.1" cy="187.6" rx="1.25" ry="1.05" fill="#bdbdbd"/>
<ellipse cx="552.7" cy="190.0" rx="1.25" ry="1.05" fill="#bdbdbd"/>
<ellipse cx="553.9" cy="183.4" rx="1.25" ry="1.05" fill="#bdbdbd"/>
<ellipse cx="550.5" cy="202.1" rx="1.25" ry="1.05" fill="#bdbdbd"/>
<ellipse cx="551.3" cy="196.5" rx="1.25" ry="1.05" fill="#bdbdbd"/>
<ellipse cx="550.8" cy="194.8" rx="1.25" ry="1.05" fill="#bdbdbd"/>
<ellipse cx="550.1" cy="185.7" rx="1.25" ry="1.05" fill="#bdbdbd"/>
<ellipse cx="554.1" cy="182.9" rx="1.25" ry="1.05" fill="#bdbdbd"/>
<ellipse cx="554.4" cy="192.3" rx="1.25" ry="1.05" fill="#bdbdbd"/>
<ellipse cx="554.3" cy="200.0" rx="1.25" ry="1.05" fill="#bdbdbd"/>
<ellipse cx="548.7" cy="184.4" rx="1.25" ry="1.05" fill="#bdbdbd"/>
<ellipse cx="553.4" cy="202.7" rx="1.25" ry="1.05" fill="#bdbdbd"/>
<ellipse cx="548.7" cy="188.9" rx="1.25" ry="1.05" fill="#bdbdbd"/>
<ellipse cx="550.2" cy="184.0" rx="1.25" ry="1.05" fill="#bdbdbd"/>
<ellipse cx="552.9" cy="197.7" rx="1.25" ry="1.05" fill="#bdbdbd"/>
<ellipse cx="554.5" cy="193.9" rx="1.25" ry="1.05" fill="#bdbdbd"/>
<ellipse cx="553.4" cy="183.9" rx="1.25" ry="1.05" fill="#bdbdbd"/>
<ellipse cx="555.7" cy="184.8" rx="1.25" ry="1.05" fill="#bdbdbd"/>
<ellipse cx="549.7" cy="193.1" rx="1.25" ry="1.05" fill="#bdbdbd"/>
<ellipse cx="547.6" cy="187.2" rx="1.25" ry="1.05" fill="#bdbdbd"/>
<ellipse cx="554.7" cy="187.8" rx="1.25" ry="1.05" fill="#bdbdbd"/>
<ellipse cx="549.0" cy="193.1" rx="1.25" ry="1.05" fill="#bdbdbd"/>
<ellipse cx="548.4" cy="194.3" rx="1.25" ry="1.05" fill="#bdbdbd"/>
<ellipse cx="555.6" cy="181.9" rx="1.25" ry="1.05" fill="#bdbdbd"/>
<ellipse cx="552.8" cy="193.8" rx="1.25" ry="1.05" fill="#bdbdbd"/>
<ellipse cx="558.1" cy="184.0" rx="1.25" ry="1.05" fill="#bdbdbd"/>
<ellipse cx="551.2" cy="191.7" rx="1.25" ry="1.05" fill="#bdbdbd"/>
<ellipse cx="551.2" cy="181.9" rx="1.25" ry="1.05" fill="#bdbdbd"/>
<ellipse cx="555.2" cy="181.5" rx="1.25" ry="1.05" fill="#bdbdbd"/>
<ellipse cx="550.9" cy="185.9" rx="1.25" ry="1.05" fill="#bdbdbd"/>
<ellipse cx="547.0" cy="180.4" rx="1.25" ry="1.05" fill="#bdbdbd"/>
<ellipse cx="555.0" cy="188.8" rx="1.25" ry="1.05" fill="#bdbdbd"/>
<ellipse cx="547.6" cy="182.2" rx="1.25" ry="1.05" fill="#bdbdbd"/>
<ellipse cx="552.0" cy="189.4" rx="1.25" ry="1.05" fill="#bdbdbd"/>
<ellipse cx="549.5" cy="192.1" rx="1.25" ry="1.05" fill="#bdbdbd"/>
<ellipse cx="552.0" cy="194.5" rx="1.25" ry="1.05" fill="#bdbdbd"/>
<ellipse cx="551.5" cy="181.4" rx="1.25" ry="1.05" fill="#bdbdbd"/>
<ellipse cx="553.4" cy="196.4" rx="1.25" ry="1.05" fill="#bdbdbd"/>
<ellipse cx="552.9" cy="181.2" rx="1.25" ry="1.05" fill="#bdbdbd"/>
<ellipse cx="553.0" cy="191.3" rx="1.25" ry="1.05" fill="#bdbdbd"/>
<ellipse cx="552.8" cy="200.3" rx="1.25" ry="1.05" fill="#bdbdbd"/>
<ellipse cx="549.1" cy="184.8" rx="1.25" ry="1.05" fill="#bdbdbd"/>
<ellipse cx="548.5" cy="184.1" rx="1.25" ry="1.05" fill="#bdbdbd"/>
<ellipse cx="551.5" cy="199.2" rx="1.25" ry="1.05" fill="#bdbdbd"/>
<ellipse cx="550.7" cy="182.8" rx="1.25" ry="1.05" fill="#bdbdbd"/>
<ellipse cx="553.7" cy="182.8" rx="1.25" ry="1.05" fill="#bdbdbd"/>
<ellipse cx="551.7" cy="182.1" rx="1.25" ry="1.05" fill="#bdbdbd"/>
<ellipse cx="554.4" cy="181.4" rx="1.25" ry="1.05" fill="#bdbdbd"/>
<ellipse cx="552.3" cy="194.6" rx="1.25" ry="1.05" fill="#bdbdbd"/>
<ellipse cx="555.6" cy="197.4" rx="1.25" ry="1.05" fill="#bdbdbd"/>
<ellipse cx="554.1" cy="182.9" rx="1.25" ry="1.05" fill="#bdbdbd"/>
<ellipse cx="554.7" cy="185.8" rx="1.25" ry="1.05" fill="#bdbdbd"/>
<ellipse cx="549.7" cy="192.6" rx="1.25" ry="1.05" fill="#bdbdbd"/>
<ellipse cx="554.7" cy="197.9" rx="1.25" ry="1.05" fill="#bdbdbd"/>
<ellipse cx="554.6" cy="194.7" rx="1.25" ry="1.05" fill="#bdbdbd"/>
<ellipse cx="552.2" cy="191.9" rx="1.25" ry="1.05" fill="#bdbdbd"/>
<ellipse cx="552.8" cy="193.3" rx="1.25" ry="1.05" fill="#bdbdbd"/>
<ellipse cx="552.1" cy="192.7" rx="1.25" ry="1.05" fill="#bdbdbd"/>
<ellipse cx="550.3" cy="191.8" rx="1.25" ry="1.05" fill="#bdbdbd"/>
<ellipse cx="544.7" cy="180.7" rx="1.25" ry="1.05" fill="#bdbdbd"/>
<ellipse cx="552.5" cy="186.1" rx="1.25" ry="1.05" fill="#bdbdbd"/>
<ellipse cx="551.6" cy="200.9" rx="1.25" ry="1.05" fill="#bdbdbd"/>
<ellipse cx="554.6" cy="183.5" rx="1.25" ry="1.05" fill="#bdbdbd"/>
<ellipse cx="551.7" cy="191.3" rx="1.25" ry="1.05" fill="#bdbdbd"/>
<ellipse cx="550.1" cy="194.4" rx="1.25" ry="1.05" fill="#bdbdbd"/>
<ellipse cx="558.6" cy="182.2" rx="1.25" ry="1.05" fill="#bdbdbd"/>
<ellipse cx="554.5" cy="195.6" rx="1.25" ry="1.05" fill="#bdbdbd"/>
<ellipse cx="553.0" cy="203.4" rx="1.25" ry="1.05" fill="#bdbdbd"/>
<ellipse cx="559.2" cy="180.5" rx="1.25" ry="1.05" fill="#bdbdbd"/>
<ellipse cx="551.7" cy="202.9" rx="1.25" ry="1.05" fill="#bdbdbd"/>
<ellipse cx="552.8" cy="183.2" rx="1.25" ry="1.05" fill="#bdbdbd"/>
<ellipse cx="550.8" cy="195.2" rx="1.25" ry="1.05" fill="#bdbdbd"/>
<ellipse cx="552.7" cy="182.6" rx="1.25" ry="1.05" fill="#bdbdbd"/>
<ellipse cx="554.3" cy="193.2" rx="1.25" ry="1.05" fill="#bdbdbd"/>
<ellipse cx="552.0" cy="194.4" rx="1.25" ry="1.05" fill="#bdbdbd"/>
<ellipse cx="550.9" cy="184.7" rx="1.25" ry="1.05" fill="#bdbdbd"/>
<ellipse cx="552.6" cy="185.8" rx="1.25" ry="1.05" fill="#bdbdbd"/>
<ellipse cx="553.1" cy="198.6" rx="1.25" ry="1.05" fill="#bdbdbd"/>
<ellipse cx="547.1" cy="183.3" rx="1.25" ry="1.05" fill="#bdbdbd"/>
<ellipse cx="550.6" cy="185.9" rx="1.25" ry="1.05" fill="#bdbdbd"/>
<ellipse cx="554.7" cy="190.3" rx="1.25" ry="1.05" fill="#bdbdbd"/>
<ellipse cx="559.6" cy="181.7" rx="1.25" ry="1.05" fill="#bdbdbd"/>
<ellipse cx="553.7" cy="201.2" rx="1.25" ry="1.05" fill="#bdbdbd"/>
<ellipse cx="552.2" cy="194.6" rx="1.25" ry="1.05" fill="#bdbdbd"/>
<ellipse cx="558.9" cy="188.2" rx="1.25" ry="1.05" fill="#bdbdbd"/>
<ellipse cx="554.0" cy="190.6" rx="1.25" ry="1.05" fill="#bdbdbd"/>
<ellipse cx="551.2" cy="188.9" rx="1.25" ry="1.05" fill="#bdbdbd"/>
<ellipse cx="552.7" cy="187.6" rx="1.25" ry="1.05" fill="#bdbdbd"/>
<ellipse cx="547.0" cy="185.6" rx="1.25" ry="1.05" fill="#bdbdbd"/>
<ellipse cx="551.9" cy="191.2" rx="1.25" ry="1.05" fill="#bdbdbd"/>
<ellipse cx="554.5" cy="182.4" rx="1.25" ry="1.05" fill="#bdbdbd"/>
<ellipse cx="552.5" cy="185.3" rx="1.25" ry="1.05" fill="#bdbdbd"/>
<ellipse cx="550.9" cy="189.4" rx="1.25" ry="1.05" fill="#bdbdbd"/>
<ellipse cx="550.9" cy="183.5" rx="1.25" ry="1.05" fill="#bdbdbd"/>
<ellipse cx="551.9" cy="188.9" rx="1.25" ry="1.05" fill="#bdbdbd"/>
<ellipse cx="552.8" cy="181.8" rx="1.25" ry="1.05" fill="#bdbdbd"/>
<ellipse cx="554.1" cy="192.3" rx="1.25" ry="1.05" fill="#bdbdbd"/>
<ellipse cx="553.7" cy="184.6" rx="1.25" ry="1.05" fill="#bdbdbd"/>
<ellipse cx="551.7" cy="196.0" rx="1.25" ry="1.05" fill="#bdbdbd"/>
<ellipse cx="551.4" cy="193.6" rx="1.25" ry="1.05" fill="#bdbdbd"/>
<ellipse cx="554.6" cy="195.9" rx="1.25" ry="1.05" fill="#bdbdbd"/>
<ellipse cx="555.1" cy="191.7" rx="1.25" ry="1.05" fill="#bdbdbd"/>
<ellipse cx="561.5" cy="184.2" rx="1.25" ry="1.05" fill="#bdbdbd"/>
<ellipse cx="553.3" cy="197.8" rx="1.25" ry="1.05" fill="#bdbdbd"/>
<ellipse cx="552.3" cy="190.5" rx="1.25" ry="1.05" fill="#bdbdbd"/>
<ellipse cx="554.4" cy="180.4" rx="1.25" ry="1.05" fill="#bdbdbd"/>
<ellipse cx="548.3" cy="189.4" rx="1.25" ry="1.05" fill="#bdbdbd"/>
<ellipse cx="552.0" cy="194.9" rx="1.25" ry="1.05" fill="#bdbdbd"/>
<ellipse cx="551.9" cy="194.6" rx="1.25" ry="1.05" fill="#bdbdbd"/>
<ellipse cx="555.2" cy="190.4" rx="1.25" ry="1.05" fill="#bdbdbd"/>
<ellipse cx="553.4" cy="183.2" rx="1.25" ry="1.05" fill="#bdbdbd"/>
<ellipse cx="547.7" cy="184.8" rx="1.25" ry="1.05" fill="#bdbdbd"/>
<ellipse cx="552.6" cy="188.9" rx="1.25" ry="1.05" fill="#bdbdbd"/>
<ellipse cx="551.2" cy="196.5" rx="1.25" ry="1.05" fill="#bdbdbd"/>
<ellipse cx="550.4" cy="184.0" rx="1.25" ry="1.05" fill="#bdbdbd"/>
<ellipse cx="548.0" cy="181.5" rx="1.25" ry="1.05" fill="#bdbdbd"/>
<ellipse cx="554.6" cy="183.9" rx="1.25" ry="1.05" fill="#bdbdbd"/>
<ellipse cx="553.2" cy="189.7" rx="1.25" ry="1.05" fill="#bdbdbd"/>
<ellipse cx="558.7" cy="181.9" rx="1.25" ry="1.05" fill="#bdbdbd"/>
<ellipse cx="550.4" cy="183.5" rx="1.25" ry="1.05" fill="#bdbdbd"/>
<ellipse cx="546.3" cy="185.0" rx="1.25" ry="1.05" fill="#bdbdbd"/>
<ellipse cx="549.8" cy="185.7" rx="1.25" ry="1.05" fill="#bdbdbd"/>
<ellipse cx="553.4" cy="185.9" rx="1.25" ry="1.05" fill="#bdbdbd"/>
<ellipse cx="550.3" cy="197.9" rx="1.25" ry="1.05" fill="#bdbdbd"/>
<ellipse cx="555.5" cy="184.5" rx="1.25" ry="1.05" fill="#bdbdbd"/>
<ellipse cx="552.6" cy="185.9" rx="1.25" ry="1.05" fill="#bdbdbd"/>
<ellipse cx="555.6" cy="189.0" rx="1.25" ry="1.05" fill="#bdbdbd"/>
<ellipse cx="548.5" cy="186.0" rx="1.25" ry="1.05" fill="#bdbdbd"/>
<ellipse cx="555.8" cy="181.1" rx="1.25" ry="1.05" fill="#bdbdbd"/>
<ellipse cx="550.7" cy="195.3" rx="1.25" ry="1.05" fill="#bdbdbd"/>
<ellipse cx="548.8" cy="190.4" rx="1.25" ry="1.05" fill="#bdbdbd"/>
<ellipse cx="553.4" cy="188.4" rx="1.25" ry="1.05" fill="#bdbdbd"/>
<ellipse cx="552.5" cy="187.4" rx="1.25" ry="1.05" fill="#bdbdbd"/>
<ellipse cx="553.5" cy="195.9" rx="1.25" ry="1.05" fill="#bdbdbd"/>
<ellipse cx="545.6" cy="187.8" rx="1.25" ry="1.05" fill="#bdbdbd"/>
<ellipse cx="550.9" cy="197.8" rx="1.25" ry="1.05" fill="#bdbdbd"/>
<ellipse cx="550.6" cy="184.4" rx="1.25" ry="1.05" fill="#bdbdbd"/>
<ellipse cx="549.0" cy="188.0" rx="1.25" ry="1.05" fill="#bdbdbd"/>
<ellipse cx="548.3" cy="187.8" rx="1.25" ry="1.05" fill="#bdbdbd"/>
<ellipse cx="554.4" cy="189.9" rx="1.25" ry="1.05" fill="#bdbdbd"/>
<ellipse cx="551.8" cy="185.0" rx="1.25" ry="1.05" fill="#bdbdbd"/>
<ellipse cx="552.7" cy="190.3" rx="1.25" ry="1.05" fill="#bdbdbd"/>
<ellipse cx="550.5" cy="180.4" rx="1.25" ry="1.05" fill="#bdbdbd"/>
<ellipse cx="554.5" cy="191.1" rx="1.25" ry="1.05" fill="#bdbdbd"/>
<ellipse cx="553.3" cy="190.2" rx="1.25" ry="1.05" fill="#bdbdbd"/>
<ellipse cx="551.7" cy="202.0" rx="1.25" ry="1.05" fill="#bdbdbd"/>
<ellipse cx="554.4" cy="184.7" rx="1.25" ry="1.05" fill="#bdbdbd"/>
<ellipse cx="552.4" cy="191.2" rx="1.25" ry="1.05" fill="#bdbdbd"/>
<ellipse cx="555.1" cy="184.0" rx="1.25" ry="1.05" fill="#bdbdbd"/>
<ellipse cx="549.8" cy="181.0" rx="1.25" ry="1.05" fill="#bdbdbd"/>
<ellipse cx="552.2" cy="183.1" rx="1.25" ry="1.05" fill="#bdbdbd"/>
<ellipse cx="552.9" cy="190.3" rx="1.25" ry="1.05" fill="#bdbdbd"/>
<ellipse cx="554.5" cy="183.5" rx="1.25" ry="1.05" fill="#bdbdbd"/>
<ellipse cx="549.8" cy="183.0" rx="1.25" ry="1.05" fill="#bdbdbd"/>
<ellipse cx="550.0" cy="187.1" rx="1.25" ry="1.05" fill="#bdbdbd"/>
<ellipse cx="554.5" cy="194.1" rx="1.25" ry="1.05" fill="#bdbdbd"/>
<ellipse cx="551.9" cy="185.7" rx="1.25" ry="1.05" fill="#bdbdbd"/>
<ellipse cx="554.3" cy="182.8" rx="1.25" ry="1.05" fill="#bdbdbd"/>
<ellipse cx="550.2" cy="192.4" rx="1.25" ry="1.05" fill="#bdbdbd"/>
<ellipse cx="556.7" cy="187.3" rx="1.25" ry="1.05" fill="#bdbdbd"/>
<ellipse cx="556.0" cy="191.1" rx="1.25" ry="1.05" fill="#bdbdbd"/>
<ellipse cx="552.2" cy="182.3" rx="1.25" ry="1.05" fill="#bdbdbd"/>
<ellipse cx="554.7" cy="193.4" rx="1.25" ry="1.05" fill="#bdbdbd"/>
<ellipse cx="552.7" cy="189.6" rx="1.25" ry="1.05" fill="#bdbdbd"/>
<ellipse cx="552.8" cy="184.3" rx="1.25" ry="1.05" fill="#bdbdbd"/>
<ellipse cx="552.7" cy="192.7" rx="1.25" ry="1.05" fill="#bdbdbd"/>
<ellipse cx="555.1" cy="188.6" rx="1.25" ry="1.05" fill="#bdbdbd"/>
<ellipse cx="550.0" cy="189.6" rx="1.25" ry="1.05" fill="#bdbdbd"/>
<ellipse cx="549.8" cy="190.9" rx="1.25" ry="1.05" fill="#bdbdbd"/>
<ellipse cx="553.4" cy="181.2" rx="1.25" ry="1.05" fill="#bdbdbd"/>
<ellipse cx="551.6" cy="182.7" rx="1.25" ry="1.05" fill="#bdbdbd"/>
<ellipse cx="553.1" cy="181.5" rx="1.25" ry="1.05" fill="#bdbdbd"/>
<ellipse cx="550.6" cy="182.6" rx="1.25" ry="1.05" fill="#bdbdbd"/>
<ellipse cx="553.1" cy="185.8" rx="1.25" ry="1.05" fill="#bdbdbd"/>
<ellipse cx="552.7" cy="180.8" rx="1.25" ry="1.05" fill="#bdbdbd"/>
<ellipse cx="552.6" cy="185.4" rx="1.25" ry="1.05" fill="#bdbdbd"/>
<ellipse cx="553.4" cy="196.4" rx="1.25" ry="1.05" fill="#bdbdbd"/>
<ellipse cx="552.9" cy="193.9" rx="1.25" ry="1.05" fill="#bdbdbd"/>
<ellipse cx="551.0" cy="196.1" rx="1.25" ry="1.05" fill="#bdbdbd"/>
<ellipse cx="553.2" cy="181.5" rx="1.25" ry="1.05" fill="#bdbdbd"/>
<ellipse cx="550.3" cy="181.7" rx="1.25" ry="1.05" fill="#bdbdbd"/>
<ellipse cx="553.5" cy="186.2" rx="1.25" ry="1.05" fill="#bdbdbd"/>
<ellipse cx="546.9" cy="181.7" rx="1.25" ry="1.05" fill="#bdbdbd"/>
<ellipse cx="553.9" cy="183.3" rx="1.25" ry="1.05" fill="#bdbdbd"/>
<ellipse cx="550.7" cy="184.8" rx="1.25" ry="1.05" fill="#bdbdbd"/>
<ellipse cx="552.4" cy="187.6" rx="1.25" ry="1.05" fill="#bdbdbd"/>
<ellipse cx="548.4" cy="181.8" rx="1.25" ry="1.05" fill="#bdbdbd"/>
<ellipse cx="552.4" cy="187.2" rx="1.25" ry="1.05" fill="#bdbdbd"/>
<ellipse cx="553.9" cy="196.5" rx="1.25" ry="1.05" fill="#bdbdbd"/>
<ellipse cx="555.7" cy="188.3" rx="1.25" ry="1.05" fill="#bdbdbd"/>
<ellipse cx="553.3" cy="196.4" rx="1.25" ry="1.05" fill="#bdbdbd"/>
<ellipse cx="549.0" cy="188.4" rx="1.25" ry="1.05" fill="#bdbdbd"/>
<ellipse cx="552.7" cy="182.1" rx="1.25" ry="1.05" fill="#bdbdbd"/>
<ellipse cx="553.1" cy="202.6" rx="1.25" ry="1.05" fill="#bdbdbd"/>
<ellipse cx="549.7" cy="187.0" rx="1.25" ry="1.05" fill="#bdbdbd"/>
<ellipse cx="554.4" cy="185.3" rx="1.25" ry="1.05" fill="#bdbdbd"/>
<ellipse cx="550.4" cy="189.8" rx="1.25" ry="1.05" fill="#bdbdbd"/>
<ellipse cx="557.7" cy="180.7" rx="1.25" ry="1.05" fill="#bdbdbd"/>
<ellipse cx="554.7" cy="185.8" rx="1.25" ry="1.05" fill="#bdbdbd"/>
<ellipse cx="551.3" cy="201.0" rx="1.25" ry="1.05" fill="#bdbdbd"/>
<ellipse cx="548.8" cy="181.1" rx="1.25" ry="1.05" fill="#bdbdbd"/>
<ellipse cx="555.5" cy="191.6" rx="1.25" ry="1.05" fill="#bdbdbd"/>
<ellipse cx="552.2" cy="188.5" rx="1.25" ry="1.05" fill="#bdbdbd"/>
<ellipse cx="558.7" cy="181.6" rx="1.25" ry="1.05" fill="#bdbdbd"/>
<ellipse cx="553.7" cy="185.9" rx="1.25" ry="1.05" fill="#bdbdbd"/>
<ellipse cx="554.1" cy="191.4" rx="1.25" ry="1.05" fill="#bdbdbd"/>
<ellipse cx="550.5" cy="188.7" rx="1.25" ry="1.05" fill="#bdbdbd"/>
<ellipse cx="552.9" cy="187.7" rx="1.25" ry="1.05" fill="#bdbdbd"/>
<ellipse cx="550.7" cy="189.4" rx="1.25" ry="1.05" fill="#bdbdbd"/>
<ellipse cx="547.8" cy="189.7" rx="1.25" ry="1.05" fill="#bdbdbd"/>
<ellipse cx="551.1" cy="192.5" rx="1.25" ry="1.05" fill="#bdbdbd"/>
<ellipse cx="548.9" cy="182.7" rx="1.25" ry="1.05" fill="#bdbdbd"/>
<ellipse cx="554.1" cy="193.0" rx="1.25" ry="1.05" fill="#bdbdbd"/>
<ellipse cx="556.9" cy="188.1" rx="1.25" ry="1.05" fill="#bdbdbd"/>
<ellipse cx="551.8" cy="183.2" rx="1.25" ry="1.05" fill="#bdbdbd"/>
<ellipse cx="551.8" cy="191.6" rx="1.25" ry="1.05" fill="#bdbdbd"/>
<ellipse cx="555.0" cy="186.6" rx="1.25" ry="1.05" fill="#bdbdbd"/>
<ellipse cx="552.8" cy="185.8" rx="1.25" ry="1.05" fill="#bdbdbd"/>
<ellipse cx="551.6" cy="184.3" rx="1.25" ry="1.05" fill="#bdbdbd"/>
<ellipse cx="551.4" cy="181.8" rx="1.25" ry="1.05" fill="#bdbdbd"/>
<ellipse cx="552.4" cy="192.3" rx="1.25" ry="1.05" fill="#bdbdbd"/>
<ellipse cx="553.3" cy="202.7" rx="1.25" ry="1.05" fill="#bdbdbd"/>
<ellipse cx="559.4" cy="186.2" rx="1.25" ry="1.05" fill="#bdbdbd"/>
<ellipse cx="554.4" cy="185.4" rx="1.25" ry="1.05" fill="#bdbdbd"/>
<ellipse cx="545.7" cy="186.2" rx="1.25" ry="1.05" fill="#bdbdbd"/>
<ellipse cx="549.1" cy="186.1" rx="1.25" ry="1.05" fill="#bdbdbd"/>
<ellipse cx="549.1" cy="186.5" rx="1.25" ry="1.05" fill="#bdbdbd"/>
<ellipse cx="553.8" cy="185.0" rx="1.25" ry="1.05" fill="#bdbdbd"/>
<ellipse cx="556.7" cy="189.0" rx="1.25" ry="1.05" fill="#bdbdbd"/>
<ellipse cx="554.4" cy="183.7" rx="1.25" ry="1.05" fill="#bdbdbd"/>
<ellipse cx="553.0" cy="200.5" rx="1.25" ry="1.05" fill="#bdbdbd"/>
<ellipse cx="557.1" cy="183.5" rx="1.25" ry="1.05" fill="#bdbdbd"/>
<ellipse cx="550.7" cy="190.8" rx="1.25" ry="1.05" fill="#bdbdbd"/>
<ellipse cx="553.7" cy="182.8" rx="1.25" ry="1.05" fill="#bdbdbd"/>
<ellipse cx="549.8" cy="193.3" rx="1.25" ry="1.05" fill="#bdbdbd"/>
<ellipse cx="550.8" cy="192.3" rx="1.25" ry="1.05" fill="#bdbdbd"/>
<ellipse cx="553.7" cy="189.5" rx="1.25" ry="1.05" fill="#bdbdbd"/>
<ellipse cx="553.6" cy="185.7" rx="1.25" ry="1.05" fill="#bdbdbd"/>
<ellipse cx="552.2" cy="187.0" rx="1.25" ry="1.05" fill="#bdbdbd"/>
<ellipse cx="554.2" cy="200.4" rx="1.25" ry="1.05" fill="#bdbdbd"/>
<ellipse cx="556.5" cy="186.8" rx="1.25" ry="1.05" fill="#bdbdbd"/>
<ellipse cx="552.0" cy="181.3" rx="1.25" ry="1.05" fill="#bdbdbd"/>
<ellipse cx="552.7" cy="190.4" rx="1.25" ry="1.05" fill="#bdbdbd"/>
<ellipse cx="560.9" cy="186.5" rx="1.25" ry="1.05" fill="#bdbdbd"/>
<ellipse cx="549.5" cy="188.7" rx="1.25" ry="1.05" fill="#bdbdbd"/>
<ellipse cx="555.7" cy="189.9" rx="1.25" ry="1.05" fill="#bdbdbd"/>
<ellipse cx="554.4" cy="194.5" rx="1.25" ry="1.05" fill="#bdbdbd"/>
<ellipse cx="552.9" cy="176.1" rx="1.25" ry="1.05" fill="#bdbdbd"/>
<ellipse cx="550.4" cy="151.9" rx="1.25" ry="1.05" fill="#bdbdbd"/>
<ellipse cx="560.5" cy="177.9" rx="1.25" ry="1.05" fill="#bdbdbd"/>
<ellipse cx="559.1" cy="179.7" rx="1.25" ry="1.05" fill="#bdbdbd"/>
<ellipse cx="544.3" cy="147.6" rx="1.25" ry="1.05" fill="#bdbdbd"/>
<ellipse cx="550.5" cy="148.0" rx="1.25" ry="1.05" fill="#bdbdbd"/>
<ellipse cx="561.1" cy="165.0" rx="1.25" ry="1.05" fill="#bdbdbd"/>
<ellipse cx="556.9" cy="98.2" rx="1.25" ry="1.05" fill="#bdbdbd"/>
<ellipse cx="560.2" cy="154.3" rx="1.25" ry="1.05" fill="#bdbdbd"/>
<ellipse cx="559.3" cy="171.0" rx="1.25" ry="1.05" fill="#bdbdbd"/>
<ellipse cx="559.0" cy="131.7" rx="1.25" ry="1.05" fill="#bdbdbd"/>
<ellipse cx="550.2" cy="152.4" rx="1.25" ry="1.05" fill="#bdbdbd"/>
<ellipse cx="546.6" cy="169.0" rx="1.25" ry="1.05" fill="#bdbdbd"/>
<ellipse cx="548.7" cy="166.8" rx="1.25" ry="1.05" fill="#bdbdbd"/>
<ellipse cx="560.4" cy="108.9" rx="1.25" ry="1.05" fill="#bdbdbd"/>
<ellipse cx="543.8" cy="178.6" rx="1.25" ry="1.05" fill="#bdbdbd"/>
<ellipse cx="548.3" cy="137.0" rx="1.25" ry="1.05" fill="#bdbdbd"/>
<ellipse cx="558.7" cy="136.4" rx="1.25" ry="1.05" fill="#bdbdbd"/>
<ellipse cx="547.7" cy="126.3" rx="1.25" ry="1.05" fill="#bdbdbd"/>
<ellipse cx="559.3" cy="124.5" rx="1.25" ry="1.05" fill="#bdbdbd"/>
<ellipse cx="545.0" cy="158.4" rx="1.25" ry="1.05" fill="#bdbdbd"/>
<ellipse cx="545.0" cy="179.1" rx="1.25" ry="1.05" fill="#bdbdbd"/>
<ellipse cx="543.6" cy="130.5" rx="1.25" ry="1.05" fill="#bdbdbd"/>
<ellipse cx="559.4" cy="139.7" rx="1.25" ry="1.05" fill="#bdbdbd"/>
<ellipse cx="547.5" cy="178.0" rx="1.25" ry="1.05" fill="#bdbdbd"/>
<ellipse cx="545.7" cy="174.6" rx="1.25" ry="1.05" fill="#bdbdbd"/>
<ellipse cx="547.0" cy="173.6" rx="1.25" ry="1.05" fill="#bdbdbd"/>
<ellipse cx="555.0" cy="164.8" rx="1.25" ry="1.05" fill="#bdbdbd"/>
<ellipse cx="548.2" cy="146.0" rx="1.25" ry="1.05" fill="#bdbdbd"/>
<ellipse cx="547.2" cy="173.6" rx="1.25" ry="1.05" fill="#bdbdbd"/>
<ellipse cx="546.4" cy="127.0" rx="1.25" ry="1.05" fill="#bdbdbd"/>
<ellipse cx="554.5" cy="175.0" rx="1.25" ry="1.05" fill="#bdbdbd"/>
<ellipse cx="548.5" cy="150.5" rx="1.25" ry="1.05" fill="#bdbdbd"/>
<ellipse cx="557.6" cy="167.5" rx="1.25" ry="1.05" fill="#bdbdbd"/>
<ellipse cx="561.6" cy="179.0" rx="1.25" ry="1.05" fill="#bdbdbd"/>
<ellipse cx="546.8" cy="177.4" rx="1.25" ry="1.05" fill="#bdbdbd"/>
<ellipse cx="558.1" cy="176.0" rx="1.25" ry="1.05" fill="#bdbdbd"/>
<ellipse cx="553.6" cy="162.1" rx="1.25" ry="1.05" fill="#bdbdbd"/>
<ellipse cx="558.2" cy="130.7" rx="1.25" ry="1.05" fill="#bdbdbd"/>
<ellipse cx="547.8" cy="143.0" rx="1.25" ry="1.05" fill="#bdbdbd"/>
<ellipse cx="559.7" cy="138.2" rx="1.25" ry="1.05" fill="#bdbdbd"/>
<ellipse cx="552.0" cy="178.0" rx="1.25" ry="1.05" fill="#bdbdbd"/>
<ellipse cx="547.2" cy="129.9" rx="1.25" ry="1.05" fill="#bdbdbd"/>
<ellipse cx="558.0" cy="178.5" rx="1.25" ry="1.05" fill="#bdbdbd"/>
<ellipse cx="561.3" cy="177.0" rx="1.25" ry="1.05" fill="#bdbdbd"/>
<ellipse cx="546.5" cy="159.7" rx="1.25" ry="1.05" fill="#bdbdbd"/>
<ellipse cx="556.9" cy="152.9" rx="1.25" ry="1.05" fill="#bdbdbd"/>
<ellipse cx="543.8" cy="175.9" rx="1.25" ry="1.05" fill="#bdbdbd"/>
<ellipse cx="553.2" cy="174.0" rx="1.25" ry="1.05" fill="#bdbdbd"/>
<ellipse cx="544.4" cy="169.5" rx="1.25" ry="1.05" fill="#bdbdbd"/>
<ellipse cx="550.2" cy="135.5" rx="1.25" ry="1.05" fill="#bdbdbd"/>
<ellipse cx="561.5" cy="154.6" rx="1.25" ry="1.05" fill="#bdbdbd"/>
<ellipse cx="545.7" cy="176.3" rx="1.25" ry="1.05" fill="#bdbdbd"/>
<ellipse cx="549.0" cy="152.4" rx="1.25" ry="1.05" fill="#bdbdbd"/>
<ellipse cx="561.2" cy="145.3" rx="1.25" ry="1.05" fill="#bdbdbd"/>
<ellipse cx="557.0" cy="176.9" rx="1.25" ry="1.05" fill="#bdbdbd"/>
<ellipse cx="551.0" cy="173.4" rx="1.25" ry="1.05" fill="#bdbdbd"/>
<ellipse cx="559.1" cy="179.8" rx="1.25" ry="1.05" fill="#bdbdbd"/>
<ellipse cx="561.0" cy="179.2" rx="1.25" ry="1.05" fill="#bdbdbd"/>
<ellipse cx="560.9" cy="113.4" rx="1.25" ry="1.05" fill="#bdbdbd"/>
<ellipse cx="551.1" cy="165.6" rx="1.25" ry="1.05" fill="#bdbdbd"/>
<ellipse cx="558.7" cy="134.8" rx="1.25" ry="1.05" fill="#bdbdbd"/>
<ellipse cx="554.8" cy="155.8" rx="1.25" ry="1.05" fill="#bdbdbd"/>
<ellipse cx="546.1" cy="178.7" rx="1.25" ry="1.05" fill="#bdbdbd"/>
<ellipse cx="560.5" cy="176.3" rx="1.25" ry="1.05" fill="#bdbdbd"/>
<ellipse cx="554.5" cy="167.1" rx="1.25" ry="1.05" fill="#bdbdbd"/>
<ellipse cx="556.9" cy="135.2" rx="1.25" ry="1.05" fill="#bdbdbd"/>
<ellipse cx="560.8" cy="170.7" rx="1.25" ry="1.05" fill="#bdbdbd"/>
<ellipse cx="548.8" cy="85.7" rx="1.25" ry="1.05" fill="#bdbdbd"/>
<ellipse cx="557.1" cy="174.3" rx="1.25" ry="1.05" fill="#bdbdbd"/>
<ellipse cx="554.7" cy="172.8" rx="1.25" ry="1.05" fill="#bdbdbd"/>
<ellipse cx="544.4" cy="116.5" rx="1.25" ry="1.05" fill="#bdbdbd"/>
<ellipse cx="561.5" cy="171.6" rx="1.25" ry="1.05" fill="#bdbdbd"/>
<ellipse cx="561.0" cy="139.7" rx="1.25" ry="1.05" fill="#bdbdbd"/>
<ellipse cx="555.5" cy="136.3" rx="1.25" ry="1.05" fill="#bdbdbd"/>
<ellipse cx="554.7" cy="159.3" rx="1.25" ry="1.05" fill="#bdbdbd"/>
<ellipse cx="559.0" cy="144.0" rx="1.25" ry="1.05" fill="#bdbdbd"/>
<ellipse cx="558.2" cy="177.9" rx="1.25" ry="1.05" fill="#bdbdbd"/>
<ellipse cx="550.5" cy="172.3" rx="1.25" ry="1.05" fill="#bdbdbd"/>
<ellipse cx="545.0" cy="149.9" rx="1.25" ry="1.05" fill="#bdbdbd"/>
<ellipse cx="551.8" cy="174.6" rx="1.25" ry="1.05" fill="#bdbdbd"/>
<ellipse cx="559.3" cy="167.3" rx="1.25" ry="1.05" fill="#bdbdbd"/>
<ellipse cx="548.3" cy="139.3" rx="1.25" ry="1.05" fill="#bdbdbd"/>
<ellipse cx="551.7" cy="163.5" rx="1.25" ry="1.05" fill="#bdbdbd"/>
<ellipse cx="560.6" cy="164.2" rx="1.25" ry="1.05" fill="#bdbdbd"/>
<ellipse cx="560.2" cy="175.1" rx="1.25" ry="1.05" fill="#bdbdbd"/>
<ellipse cx="549.1" cy="175.8" rx="1.25" ry="1.05" fill="#bdbdbd"/>
<ellipse cx="557.3" cy="180.0" rx="1.25" ry="1.05" fill="#bdbdbd"/>
<ellipse cx="550.8" cy="162.3" rx="1.25" ry="1.05" fill="#bdbdbd"/>
<ellipse cx="544.3" cy="138.5" rx="1.25" ry="1.05" fill="#bdbdbd"/>
<ellipse cx="544.7" cy="178.6" rx="1.25" ry="1.05" fill="#bdbdbd"/>
<ellipse cx="547.6" cy="163.4" rx="1.25" ry="1.05" fill="#bdbdbd"/>
<ellipse cx="551.6" cy="161.2" rx="1.25" ry="1.05" fill="#bdbdbd"/>
<ellipse cx="554.5" cy="173.9" rx="1.25" ry="1.05" fill="#bdbdbd"/>
<ellipse cx="560.1" cy="173.1" rx="1.25" ry="1.05" fill="#bdbdbd"/>
<ellipse cx="559.0" cy="177.6" rx="1.25" ry="1.05" fill="#bdbdbd"/>
<ellipse cx="547.2" cy="179.7" rx="1.25" ry="1.05" fill="#bdbdbd"/>
<ellipse cx="559.2" cy="162.0" rx="1.25" ry="1.05" fill="#bdbdbd"/>
<ellipse cx="558.8" cy="130.1" rx="1.25" ry="1.05" fill="#bdbdbd"/>
<ellipse cx="557.5" cy="163.4" rx="1.25" ry="1.05" fill="#bdbdbd"/>
<ellipse cx="556.4" cy="176.9" rx="1.25" ry="1.05" fill="#bdbdbd"/>
<ellipse cx="560.5" cy="158.1" rx="1.25" ry="1.05" fill="#bdbdbd"/>
<ellipse cx="559.6" cy="159.2" rx="1.25" ry="1.05" fill="#bdbdbd"/>
<ellipse cx="548.6" cy="137.2" rx="1.25" ry="1.05" fill="#bdbdbd"/>
<ellipse cx="544.0" cy="167.8" rx="1.25" ry="1.05" fill="#bdbdbd"/>
<ellipse cx="555.1" cy="170.0" rx="1.25" ry="1.05" fill="#bdbdbd"/>
<ellipse cx="543.7" cy="166.1" rx="1.25" ry="1.05" fill="#bdbdbd"/>
<ellipse cx="560.5" cy="120.2" rx="1.25" ry="1.05" fill="#bdbdbd"/>
<ellipse cx="543.9" cy="162.2" rx="1.25" ry="1.05" fill="#bdbdbd"/>
<ellipse cx="548.6" cy="173.1" rx="1.25" ry="1.05" fill="#bdbdbd"/>
<ellipse cx="557.6" cy="169.0" rx="1.25" ry="1.05" fill="#bdbdbd"/>
<ellipse cx="557.5" cy="166.2" rx="1.25" ry="1.05" fill="#bdbdbd"/>
<ellipse cx="543.8" cy="176.5" rx="1.25" ry="1.05" fill="#bdbdbd"/>
<ellipse cx="545.7" cy="112.2" rx="1.25" ry="1.05" fill="#bdbdbd"/>
<ellipse cx="555.2" cy="127.1" rx="1.25" ry="1.05" fill="#bdbdbd"/>
<ellipse cx="549.2" cy="152.3" rx="1.25" ry="1.05" fill="#bdbdbd"/>
<ellipse cx="546.3" cy="116.7" rx="1.25" ry="1.05" fill="#bdbdbd"/>
<ellipse cx="561.2" cy="166.2" rx="1.25" ry="1.05" fill="#bdbdbd"/>
<ellipse cx="558.6" cy="171.2" rx="1.25" ry="1.05" fill="#bdbdbd"/>
<ellipse cx="543.9" cy="158.0" rx="1.25" ry="1.05" fill="#bdbdbd"/>
<ellipse cx="548.2" cy="172.5" rx="1.25" ry="1.05" fill="#bdbdbd"/>
<ellipse cx="553.9" cy="176.2" rx="1.25" ry="1.05" fill="#bdbdbd"/>
<ellipse cx="556.5" cy="171.6" rx="1.25" ry="1.05" fill="#bdbdbd"/>
<ellipse cx="551.5" cy="173.3" rx="1.25" ry="1.05" fill="#bdbdbd"/>
<ellipse cx="546.3" cy="135.2" rx="1.25" ry="1.05" fill="#bdbdbd"/>
<ellipse cx="559.1" cy="174.6" rx="1.25" ry="1.05" fill="#bdbdbd"/>
<ellipse cx="558.5" cy="160.6" rx="1.25" ry="1.05" fill="#bdbdbd"/>
<ellipse cx="555.1" cy="171.0" rx="1.25" ry="1.05" fill="#bdbdbd"/>
<ellipse cx="548.6" cy="162.5" rx="1.25" ry="1.05" fill="#bdbdbd"/>
<ellipse cx="549.4" cy="179.8" rx="1.25" ry="1.05" fill="#bdbdbd"/>
<ellipse cx="557.8" cy="173.4" rx="1.25" ry="1.05" fill="#bdbdbd"/>
<ellipse cx="561.6" cy="171.9" rx="1.25" ry="1.05" fill="#bdbdbd"/>
<ellipse cx="559.4" cy="143.8" rx="1.25" ry="1.05" fill="#bdbdbd"/>
<ellipse cx="548.3" cy="168.1" rx="1.25" ry="1.05" fill="#bdbdbd"/>
<ellipse cx="550.5" cy="177.3" rx="1.25" ry="1.05" fill="#bdbdbd"/>
<ellipse cx="559.3" cy="147.2" rx="1.25" ry="1.05" fill="#bdbdbd"/>
<ellipse cx="546.5" cy="152.5" rx="1.25" ry="1.05" fill="#bdbdbd"/>
<ellipse cx="547.0" cy="137.8" rx="1.25" ry="1.05" fill="#bdbdbd"/>
<ellipse cx="547.5" cy="145.1" rx="1.25" ry="1.05" fill="#bdbdbd"/>
<ellipse cx="556.1" cy="119.7" rx="1.25" ry="1.05" fill="#bdbdbd"/>
<ellipse cx="557.8" cy="144.5" rx="1.25" ry="1.05" fill="#bdbdbd"/>
<ellipse cx="560.7" cy="142.5" rx="1.25" ry="1.05" fill="#bdbdbd"/>
<ellipse cx="548.1" cy="165.3" rx="1.25" ry="1.05" fill="#bdbdbd"/>
<ellipse cx="548.8" cy="171.6" rx="1.25" ry="1.05" fill="#bdbdbd"/>
<ellipse cx="549.3" cy="168.2" rx="1.25" ry="1.05" fill="#bdbdbd"/>
<ellipse cx="560.7" cy="133.6" rx="1.25" ry="1.05" fill="#bdbdbd"/>
<ellipse cx="550.9" cy="171.2" rx="1.25" ry="1.05" fill="#bdbdbd"/>
<ellipse cx="550.9" cy="158.7" rx="1.25" ry="1.05" fill="#bdbdbd"/>
<ellipse cx="544.9" cy="170.5" rx="1.25" ry="1.05" fill="#bdbdbd"/>
<ellipse cx="561.3" cy="101.8" rx="1.25" ry="1.05" fill="#bdbdbd"/>
<ellipse cx="547.6" cy="159.7" rx="1.25" ry="1.05" fill="#bdbdbd"/>
<ellipse cx="547.0" cy="143.7" rx="1.25" ry="1.05" fill="#bdbdbd"/>
<ellipse cx="559.1" cy="162.2" rx="1.25" ry="1.05" fill="#bdbdbd"/>
<ellipse cx="558.2" cy="169.3" rx="1.25" ry="1.05" fill="#bdbdbd"/>
<ellipse cx="559.8" cy="107.5" rx="1.25" ry="1.05" fill="#bdbdbd"/>
<ellipse cx="548.7" cy="168.6" rx="1.25" ry="1.05" fill="#bdbdbd"/>
<ellipse cx="544.5" cy="159.2" rx="1.25" ry="1.05" fill="#bdbdbd"/>
<ellipse cx="548.2" cy="163.8" rx="1.25" ry="1.05" fill="#bdbdbd"/>
<ellipse cx="547.6" cy="169.8" rx="1.25" ry="1.05" fill="#bdbdbd"/>
<ellipse cx="549.6" cy="175.5" rx="1.25" ry="1.05" fill="#bdbdbd"/>
<ellipse cx="543.8" cy="137.2" rx="1.25" ry="1.05" fill="#bdbdbd"/>
<ellipse cx="544.9" cy="151.4" rx="1.25" ry="1.05" fill="#bdbdbd"/>
<ellipse cx="544.4" cy="126.3" rx="1.25" ry="1.05" fill="#bdbdbd"/>
<ellipse cx="550.8" cy="175.0" rx="1.25" ry="1.05" fill="#bdbdbd"/>
<ellipse cx="548.7" cy="157.4" rx="1.25" ry="1.05" fill="#bdbdbd"/>
<ellipse cx="554.1" cy="155.3" rx="1.25" ry="1.05" fill="#bdbdbd"/>
<ellipse cx="556.6" cy="142.1" rx="1.25" ry="1.05" fill="#bdbdbd"/>
<ellipse cx="544.9" cy="171.2" rx="1.25" ry="1.05" fill="#bdbdbd"/>
<ellipse cx="555.4" cy="153.0" rx="1.25" ry="1.05" fill="#bdbdbd"/>
<ellipse cx="549.5" cy="160.3" rx="1.25" ry="1.05" fill="#bdbdbd"/>
<ellipse cx="543.6" cy="161.5" rx="1.25" ry="1.05" fill="#bdbdbd"/>
<ellipse cx="554.2" cy="167.1" rx="1.25" ry="1.05" fill="#bdbdbd"/>
<ellipse cx="558.2" cy="145.1" rx="1.25" ry="1.05" fill="#bdbdbd"/>
<ellipse cx="545.0" cy="162.0" rx="1.25" ry="1.05" fill="#bdbdbd"/>
<ellipse cx="543.9" cy="139.8" rx="1.25" ry="1.05" fill="#bdbdbd"/>
<ellipse cx="554.5" cy="169.4" rx="1.25" ry="1.05" fill="#bdbdbd"/>
<ellipse cx="544.4" cy="177.6" rx="1.25" ry="1.05" fill="#bdbdbd"/>
<ellipse cx="556.9" cy="169.6" rx="1.25" ry="1.05" fill="#bdbdbd"/>
<ellipse cx="544.5" cy="178.8" rx="1.25" ry="1.05" fill="#bdbdbd"/>
<ellipse cx="558.5" cy="101.3" rx="1.25" ry="1.05" fill="#bdbdbd"/>
<ellipse cx="544.2" cy="179.0" rx="1.25" ry="1.05" fill="#bdbdbd"/>
<ellipse cx="544.4" cy="170.9" rx="1.25" ry="1.05" fill="#bdbdbd"/>
<ellipse cx="547.0" cy="171.2" rx="1.25" ry="1.05" fill="#bdbdbd"/>
<ellipse cx="561.2" cy="163.3" rx="1.25" ry="1.05" fill="#bdbdbd"/>
<ellipse cx="559.3" cy="168.0" rx="1.25" ry="1.05" fill="#bdbdbd"/>
<ellipse cx="560.6" cy="171.1" rx="1.25" ry="1.05" fill="#bdbdbd"/>
<ellipse cx="559.0" cy="141.5" rx="1.25" ry="1.05" fill="#bdbdbd"/>
<ellipse cx="561.4" cy="175.1" rx="1.25" ry="1.05" fill="#bdbdbd"/>
<ellipse cx="550.7" cy="159.9" rx="1.25" ry="1.05" fill="#bdbdbd"/>
<ellipse cx="556.6" cy="168.2" rx="1.25" ry="1.05" fill="#bdbdbd"/>
<ellipse cx="560.1" cy="176.9" rx="1.25" ry="1.05" fill="#bdbdbd"/>
<ellipse cx="554.6" cy="173.2" rx="1.25" ry="1.05" fill="#bdbdbd"/>
<ellipse cx="552.0" cy="173.5" rx="1.25" ry="1.05" fill="#bdbdbd"/>
<ellipse cx="550.8" cy="169.9" rx="1.25" ry="1.05" fill="#bdbdbd"/>
<ellipse cx="550.1" cy="177.8" rx="1.25" ry="1.05" fill="#bdbdbd"/>
<ellipse cx="548.5" cy="176.8" rx="1.25" ry="1.05" fill="#bdbdbd"/>
<ellipse cx="544.0" cy="140.0" rx="1.25" ry="1.05" fill="#bdbdbd"/>
<ellipse cx="544.0" cy="174.4" rx="1.25" ry="1.05" fill="#bdbdbd"/>
<ellipse cx="556.9" cy="173.8" rx="1.25" ry="1.05" fill="#bdbdbd"/>
<ellipse cx="549.2" cy="150.0" rx="1.25" ry="1.05" fill="#bdbdbd"/>
<ellipse cx="556.6" cy="158.4" rx="1.25" ry="1.05" fill="#bdbdbd"/>
<ellipse cx="549.9" cy="157.1" rx="1.25" ry="1.05" fill="#bdbdbd"/>
<ellipse cx="547.9" cy="176.9" rx="1.25" ry="1.05" fill="#bdbdbd"/>
<ellipse cx="559.7" cy="172.4" rx="1.25" ry="1.05" fill="#bdbdbd"/>
<ellipse cx="558.3" cy="153.8" rx="1.25" ry="1.05" fill="#bdbdbd"/>
<ellipse cx="553.9" cy="168.0" rx="1.25" ry="1.05" fill="#bdbdbd"/>
<ellipse cx="556.9" cy="133.4" rx="1.25" ry="1.05" fill="#bdbdbd"/>
<ellipse cx="548.7" cy="159.9" rx="1.25" ry="1.05" fill="#bdbdbd"/>
<ellipse cx="553.6" cy="171.5" rx="1.25" ry="1.05" fill="#bdbdbd"/>
<ellipse cx="551.2" cy="173.8" rx="1.25" ry="1.05" fill="#bdbdbd"/>
<ellipse cx="548.7" cy="172.0" rx="1.25" ry="1.05" fill="#bdbdbd"/>
<ellipse cx="560.8" cy="143.5" rx="1.25" ry="1.05" fill="#bdbdbd"/>
<ellipse cx="552.0" cy="172.2" rx="1.25" ry="1.05" fill="#bdbdbd"/>
<ellipse cx="556.6" cy="153.4" rx="1.25" ry="1.05" fill="#bdbdbd"/>
<ellipse cx="559.3" cy="153.7" rx="1.25" ry="1.05" fill="#bdbdbd"/>
<ellipse cx="557.1" cy="134.1" rx="1.25" ry="1.05" fill="#bdbdbd"/>
<ellipse cx="544.3" cy="177.1" rx="1.25" ry="1.05" fill="#bdbdbd"/>
<ellipse cx="554.3" cy="149.5" rx="1.25" ry="1.05" fill="#bdbdbd"/>
<ellipse cx="554.6" cy="175.8" rx="1.25" ry="1.05" fill="#bdbdbd"/>
<ellipse cx="553.5" cy="168.4" rx="1.25" ry="1.05" fill="#bdbdbd"/>
<ellipse cx="550.0" cy="155.2" rx="1.25" ry="1.05" fill="#bdbdbd"/>
<ellipse cx="559.4" cy="159.4" rx="1.25" ry="1.05" fill="#bdbdbd"/>
<ellipse cx="559.0" cy="166.1" rx="1.25" ry="1.05" fill="#bdbdbd"/>
<ellipse cx="545.0" cy="180.1" rx="1.25" ry="1.05" fill="#bdbdbd"/>
<ellipse cx="551.9" cy="171.9" rx="1.25" ry="1.05" fill="#bdbdbd"/>
<ellipse cx="554.0" cy="157.2" rx="1.25" ry="1.05" fill="#bdbdbd"/>
<ellipse cx="559.8" cy="177.2" rx="1.25" ry="1.05" fill="#bdbdbd"/>
<ellipse cx="546.4" cy="119.7" rx="1.25" ry="1.05" fill="#bdbdbd"/>
<ellipse cx="545.7" cy="167.8" rx="1.25" ry="1.05" fill="#bdbdbd"/>
<ellipse cx="551.5" cy="172.0" rx="1.25" ry="1.05" fill="#bdbdbd"/>
<ellipse cx="544.1" cy="166.6" rx="1.25" ry="1.05" fill="#bdbdbd"/>
<ellipse cx="560.4" cy="147.2" rx="1.25" ry="1.05" fill="#bdbdbd"/>
<ellipse cx="558.9" cy="178.8" rx="1.25" ry="1.05" fill="#bdbdbd"/>
<ellipse cx="561.1" cy="162.5" rx="1.25" ry="1.05" fill="#bdbdbd"/>
<ellipse cx="550.7" cy="144.9" rx="1.25" ry="1.05" fill="#bdbdbd"/>
<ellipse cx="547.5" cy="172.7" rx="1.25" ry="1.05" fill="#bdbdbd"/>
<ellipse cx="558.0" cy="155.2" rx="1.25" ry="1.05" fill="#bdbdbd"/>
<ellipse cx="555.9" cy="178.6" rx="1.25" ry="1.05" fill="#bdbdbd"/>
<ellipse cx="555.6" cy="174.6" rx="1.25" ry="1.05" fill="#bdbdbd"/>
<ellipse cx="559.1" cy="150.0" rx="1.25" ry="1.05" fill="#bdbdbd"/>
<ellipse cx="557.4" cy="173.3" rx="1.25" ry="1.05" fill="#bdbdbd"/>
<ellipse cx="544.8" cy="112.7" rx="1.25" ry="1.05" fill="#bdbdbd"/>
<ellipse cx="545.1" cy="170.2" rx="1.25" ry="1.05" fill="#bdbdbd"/>
<ellipse cx="549.7" cy="145.0" rx="1.25" ry="1.05" fill="#bdbdbd"/>
<ellipse cx="545.5" cy="164.9" rx="1.25" ry="1.05" fill="#bdbdbd"/>
<ellipse cx="555.3" cy="177.2" rx="1.25" ry="1.05" fill="#bdbdbd"/>
<ellipse cx="553.4" cy="174.5" rx="1.25" ry="1.05" fill="#bdbdbd"/>
<ellipse cx="559.0" cy="174.7" rx="1.25" ry="1.05" fill="#bdbdbd"/>
<ellipse cx="555.6" cy="177.2" rx="1.25" ry="1.05" fill="#bdbdbd"/>
<ellipse cx="554.5" cy="169.1" rx="1.25" ry="1.05" fill="#bdbdbd"/>
<ellipse cx="543.6" cy="179.9" rx="1.25" ry="1.05" fill="#bdbdbd"/>
<ellipse cx="546.1" cy="178.0" rx="1.25" ry="1.05" fill="#bdbdbd"/>
<ellipse cx="554.4" cy="159.8" rx="1.25" ry="1.05" fill="#bdbdbd"/>
<ellipse cx="550.4" cy="166.1" rx="1.25" ry="1.05" fill="#bdbdbd"/>
<ellipse cx="544.3" cy="179.9" rx="1.25" ry="1.05" fill="#bdbdbd"/>
<ellipse cx="544.1" cy="155.9" rx="1.25" ry="1.05" fill="#bdbdbd"/>
<ellipse cx="555.1" cy="173.0" rx="1.25" ry="1.05" fill="#bdbdbd"/>
<ellipse cx="545.6" cy="179.5" rx="1.25" ry="1.05" fill="#bdbdbd"/>
<ellipse cx="550.6" cy="171.5" rx="1.25" ry="1.05" fill="#bdbdbd"/>
<ellipse cx="544.6" cy="134.2" rx="1.25" ry="1.05" fill="#bdbdbd"/>
<ellipse cx="559.4" cy="136.5" rx="1.25" ry="1.05" fill="#bdbdbd"/>
<ellipse cx="557.8" cy="168.8" rx="1.25" ry="1.05" fill="#bdbdbd"/>
<ellipse cx="548.7" cy="136.4" rx="1.25" ry="1.05" fill="#bdbdbd"/>
<ellipse cx="545.0" cy="155.8" rx="1.25" ry="1.05" fill="#bdbdbd"/>
<ellipse cx="559.9" cy="122.3" rx="1.25" ry="1.05" fill="#bdbdbd"/>
<ellipse cx="551.0" cy="158.8" rx="1.25" ry="1.05" fill="#bdbdbd"/>
<ellipse cx="548.5" cy="175.7" rx="1.25" ry="1.05" fill="#bdbdbd"/>
<ellipse cx="553.1" cy="177.8" rx="1.25" ry="1.05" fill="#bdbdbd"/>
<ellipse cx="559.2" cy="174.9" rx="1.25" ry="1.05" fill="#bdbdbd"/>
<ellipse cx="560.6" cy="135.0" rx="1.25" ry="1.05" fill="#bdbdbd"/>
<ellipse cx="546.5" cy="172.0" rx="1.25" ry="1.05" fill="#bdbdbd"/>
<ellipse cx="556.1" cy="166.7" rx="1.25" ry="1.05" fill="#bdbdbd"/>
<ellipse cx="544.9" cy="153.2" rx="1.25" ry="1.05" fill="#bdbdbd"/>
<ellipse cx="555.4" cy="175.7" rx="1.25" ry="1.05" fill="#bdbdbd"/>
<ellipse cx="556.4" cy="159.8" rx="1.25" ry="1.05" fill="#bdbdbd"/>
<ellipse cx="555.6" cy="178.0" rx="1.25" ry="1.05" fill="#bdbdbd"/>
<ellipse cx="544.1" cy="92.9" rx="1.25" ry="1.05" fill="#bdbdbd"/>
<ellipse cx="559.5" cy="99.9" rx="1.25" ry="1.05" fill="#bdbdbd"/>
<ellipse cx="558.6" cy="152.4" rx="1.25" ry="1.05" fill="#bdbdbd"/>
<ellipse cx="561.3" cy="159.3" rx="1.25" ry="1.05" fill="#bdbdbd"/>
<ellipse cx="556.1" cy="154.5" rx="1.25" ry="1.05" fill="#bdbdbd"/>
<ellipse cx="543.5" cy="127.0" rx="1.25" ry="1.05" fill="#bdbdbd"/>
<ellipse cx="551.2" cy="165.6" rx="1.25" ry="1.05" fill="#bdbdbd"/>
<ellipse cx="558.1" cy="168.7" rx="1.25" ry="1.05" fill="#bdbdbd"/>
<ellipse cx="558.1" cy="161.6" rx="1.25" ry="1.05" fill="#bdbdbd"/>
<ellipse cx="550.9" cy="177.2" rx="1.25" ry="1.05" fill="#bdbdbd"/>
<ellipse cx="550.8" cy="160.6" rx="1.25" ry="1.05" fill="#bdbdbd"/>
<ellipse cx="551.4" cy="173.0" rx="1.25" ry="1.05" fill="#bdbdbd"/>
<ellipse cx="548.0" cy="173.0" rx="1.25" ry="1.05" fill="#bdbdbd"/>
<ellipse cx="557.9" cy="173.8" rx="1.25" ry="1.05" fill="#bdbdbd"/>
<ellipse cx="558.3" cy="162.5" rx="1.25" ry="1.05" fill="#bdbdbd"/>
<ellipse cx="553.8" cy="167.3" rx="1.25" ry="1.05" fill="#bdbdbd"/>
<ellipse cx="546.6" cy="131.2" rx="1.25" ry="1.05" fill="#bdbdbd"/>
<ellipse cx="543.6" cy="177.1" rx="1.25" ry="1.05" fill="#bdbdbd"/>
<ellipse cx="560.1" cy="177.5" rx="1.25" ry="1.05" fill="#bdbdbd"/>
<ellipse cx="543.9" cy="175.5" rx="1.25" ry="1.05" fill="#bdbdbd"/>
<ellipse cx="555.3" cy="143.5" rx="1.25" ry="1.05" fill="#bdbdbd"/>
<ellipse cx="556.2" cy="173.5" rx="1.25" ry="1.05" fill="#bdbdbd"/>
<ellipse cx="555.3" cy="158.0" rx="1.25" ry="1.05" fill="#bdbdbd"/>
<ellipse cx="548.0" cy="149.9" rx="1.25" ry="1.05" fill="#bdbdbd"/>
<ellipse cx="544.6" cy="156.3" rx="1.25" ry="1.05" fill="#bdbdbd"/>
<ellipse cx="543.6" cy="118.8" rx="1.25" ry="1.05" fill="#bdbdbd"/>
<ellipse cx="560.3" cy="152.1" rx="1.25" ry="1.05" fill="#bdbdbd"/>
<ellipse cx="545.8" cy="168.7" rx="1.25" ry="1.05" fill="#bdbdbd"/>
<ellipse cx="554.4" cy="148.7" rx="1.25" ry="1.05" fill="#bdbdbd"/>
<ellipse cx="560.1" cy="160.6" rx="1.25" ry="1.05" fill="#bdbdbd"/>
<ellipse cx="558.9" cy="116.4" rx="1.25" ry="1.05" fill="#bdbdbd"/>
<ellipse cx="544.9" cy="165.6" rx="1.25" ry="1.05" fill="#bdbdbd"/>
<ellipse cx="552.9" cy="177.2" rx="1.25" ry="1.05" fill="#bdbdbd"/>
<ellipse cx="555.7" cy="140.5" rx="1.25" ry="1.05" fill="#bdbdbd"/>
<ellipse cx="556.9" cy="151.6" rx="1.25" ry="1.05" fill="#bdbdbd"/>
<ellipse cx="546.7" cy="129.0" rx="1.25" ry="1.05" fill="#bdbdbd"/>
<ellipse cx="545.6" cy="107.1" rx="1.25" ry="1.05" fill="#bdbdbd"/>
<ellipse cx="546.4" cy="140.5" rx="1.25" ry="1.05" fill="#bdbdbd"/>
<ellipse cx="556.9" cy="152.2" rx="1.25" ry="1.05" fill="#bdbdbd"/>
<ellipse cx="560.3" cy="175.9" rx="1.25" ry="1.05" fill="#bdbdbd"/>
<ellipse cx="544.5" cy="129.4" rx="1.25" ry="1.05" fill="#bdbdbd"/>
<ellipse cx="553.9" cy="158.3" rx="1.25" ry="1.05" fill="#bdbdbd"/>
<ellipse cx="548.1" cy="169.1" rx="1.25" ry="1.05" fill="#bdbdbd"/>
<ellipse cx="556.2" cy="168.1" rx="1.25" ry="1.05" fill="#bdbdbd"/>
<ellipse cx="556.3" cy="158.9" rx="1.25" ry="1.05" fill="#bdbdbd"/>
<ellipse cx="561.5" cy="165.0" rx="1.25" ry="1.05" fill="#bdbdbd"/>
<ellipse cx="558.7" cy="176.3" rx="1.25" ry="1.05" fill="#bdbdbd"/>
<ellipse cx="557.3" cy="172.3" rx="1.25" ry="1.05" fill="#bdbdbd"/>
<ellipse cx="547.4" cy="159.5" rx="1.25" ry="1.05" fill="#bdbdbd"/>
<ellipse cx="547.5" cy="179.3" rx="1.25" ry="1.05" fill="#bdbdbd"/>
<ellipse cx="545.1" cy="129.6" rx="1.25" ry="1.05" fill="#bdbdbd"/>
<ellipse cx="549.7" cy="169.1" rx="1.25" ry="1.05" fill="#bdbdbd"/>
<ellipse cx="561.2" cy="129.5" rx="1.25" ry="1.05" fill="#bdbdbd"/>
<ellipse cx="545.5" cy="144.7" rx="1.25" ry="1.05" fill="#bdbdbd"/>
<ellipse cx="557.8" cy="169.5" rx="1.25" ry="1.05" fill="#bdbdbd"/>
<ellipse cx="555.7" cy="178.6" rx="1.25" ry="1.05" fill="#bdbdbd"/>
<ellipse cx="556.4" cy="164.0" rx="1.25" ry="1.05" fill="#bdbdbd"/>
<ellipse cx="556.0" cy="173.6" rx="1.25" ry="1.05" fill="#bdbdbd"/>
<ellipse cx="560.5" cy="180.0" rx="1.25" ry="1.05" fill="#bdbdbd"/>
<ellipse cx="558.0" cy="165.7" rx="1.25" ry="1.05" fill="#bdbdbd"/>
<ellipse cx="553.4" cy="175.6" rx="1.25" ry="1.05" fill="#bdbdbd"/>
<ellipse cx="545.9" cy="171.1" rx="1.25" ry="1.05" fill="#bdbdbd"/>
<ellipse cx="547.5" cy="112.0" rx="1.25" ry="1.05" fill="#bdbdbd"/>
<ellipse cx="550.9" cy="178.1" rx="1.25" ry="1.05" fill="#bdbdbd"/>
<ellipse cx="558.0" cy="72.5" rx="1.25" ry="1.05" fill="#bdbdbd"/>
<ellipse cx="545.4" cy="130.3" rx="1.25" ry="1.05" fill="#bdbdbd"/>
<ellipse cx="555.2" cy="172.2" rx="1.25" ry="1.05" fill="#bdbdbd"/>
<ellipse cx="550.0" cy="175.7" rx="1.25" ry="1.05" fill="#bdbdbd"/>
<ellipse cx="556.4" cy="174.1" rx="1.25" ry="1.05" fill="#bdbdbd"/>
<ellipse cx="544.6" cy="157.4" rx="1.25" ry="1.05" fill="#bdbdbd"/>
<ellipse cx="545.9" cy="174.8" rx="1.25" ry="1.05" fill="#bdbdbd"/>
<ellipse cx="550.9" cy="157.6" rx="1.25" ry="1.05" fill="#bdbdbd"/>
<ellipse cx="545.0" cy="128.9" rx="1.25" ry="1.05" fill="#bdbdbd"/>
<ellipse cx="561.1" cy="155.0" rx="1.25" ry="1.05" fill="#bdbdbd"/>
<ellipse cx="545.7" cy="170.4" rx="1.25" ry="1.05" fill="#bdbdbd"/>
<ellipse cx="558.9" cy="167.4" rx="1.25" ry="1.05" fill="#bdbdbd"/>
<ellipse cx="556.4" cy="178.7" rx="1.25" ry="1.05" fill="#bdbdbd"/>
<ellipse cx="556.4" cy="156.0" rx="1.25" ry="1.05" fill="#bdbdbd"/>
<ellipse cx="555.7" cy="157.8" rx="1.25" ry="1.05" fill="#bdbdbd"/>
<ellipse cx="544.2" cy="179.8" rx="1.25" ry="1.05" fill="#bdbdbd"/>
<ellipse cx="548.9" cy="72.4" rx="1.25" ry="1.05" fill="#bdbdbd"/>
<ellipse cx="553.8" cy="170.3" rx="1.25" ry="1.05" fill="#bdbdbd"/>
<ellipse cx="559.6" cy="176.4" rx="1.25" ry="1.05" fill="#bdbdbd"/>
<ellipse cx="547.7" cy="138.8" rx="1.25" ry="1.05" fill="#bdbdbd"/>
<ellipse cx="546.3" cy="160.2" rx="1.25" ry="1.05" fill="#bdbdbd"/>
<ellipse cx="559.4" cy="170.3" rx="1.25" ry="1.05" fill="#bdbdbd"/>
<ellipse cx="545.4" cy="149.6" rx="1.25" ry="1.05" fill="#bdbdbd"/>
<ellipse cx="545.5" cy="171.0" rx="1.25" ry="1.05" fill="#bdbdbd"/>
<ellipse cx="549.6" cy="165.3" rx="1.25" ry="1.05" fill="#bdbdbd"/>
<ellipse cx="558.2" cy="110.6" rx="1.25" ry="1.05" fill="#bdbdbd"/>
<ellipse cx="559.9" cy="154.0" rx="1.25" ry="1.05" fill="#bdbdbd"/>
<ellipse cx="559.5" cy="173.8" rx="1.25" ry="1.05" fill="#bdbdbd"/>
<ellipse cx="553.8" cy="179.4" rx="1.25" ry="1.05" fill="#bdbdbd"/>
<ellipse cx="558.0" cy="163.0" rx="1.25" ry="1.05" fill="#bdbdbd"/>
<ellipse cx="545.7" cy="111.1" rx="1.25" ry="1.05" fill="#bdbdbd"/>
<ellipse cx="552.1" cy="175.8" rx="1.25" ry="1.05" fill="#bdbdbd"/>
<ellipse cx="561.5" cy="173.3" rx="1.25" ry="1.05" fill="#bdbdbd"/>
<ellipse cx="548.7" cy="155.3" rx="1.25" ry="1.05" fill="#bdbdbd"/>
<ellipse cx="549.2" cy="165.0" rx="1.25" ry="1.05" fill="#bdbdbd"/>
<ellipse cx="559.3" cy="177.3" rx="1.25" ry="1.05" fill="#bdbdbd"/>
<ellipse cx="548.3" cy="154.7" rx="1.25" ry="1.05" fill="#bdbdbd"/>
<ellipse cx="557.7" cy="178.6" rx="1.25" ry="1.05" fill="#bdbdbd"/>
<ellipse cx="561.3" cy="118.3" rx="1.25" ry="1.05" fill="#bdbdbd"/>
<ellipse cx="555.2" cy="173.0" rx="1.25" ry="1.05" fill="#bdbdbd"/>
<ellipse cx="550.5" cy="173.7" rx="1.25" ry="1.05" fill="#bdbdbd"/>
<ellipse cx="549.1" cy="154.9" rx="1.25" ry="1.05" fill="#bdbdbd"/>
<ellipse cx="557.9" cy="174.1" rx="1.25" ry="1.05" fill="#bdbdbd"/>
<ellipse cx="548.0" cy="131.3" rx="1.25" ry="1.05" fill="#bdbdbd"/>
<ellipse cx="555.3" cy="137.6" rx="1.25" ry="1.05" fill="#bdbdbd"/>
<ellipse cx="558.5" cy="151.9" rx="1.25" ry="1.05" fill="#bdbdbd"/>
<ellipse cx="560.7" cy="158.9" rx="1.25" ry="1.05" fill="#bdbdbd"/>
<ellipse cx="547.8" cy="127.3" rx="1.25" ry="1.05" fill="#bdbdbd"/>
<ellipse cx="544.7" cy="175.2" rx="1.25" ry="1.05" fill="#bdbdbd"/>
<ellipse cx="553.2" cy="171.5" rx="1.25" ry="1.05" fill="#bdbdbd"/>
<ellipse cx="556.1" cy="90.1" rx="1.25" ry="1.05" fill="#bdbdbd"/>
<ellipse cx="544.1" cy="147.4" rx="1.25" ry="1.05" fill="#bdbdbd"/>
<ellipse cx="549.5" cy="177.8" rx="1.25" ry="1.05" fill="#bdbdbd"/>
<ellipse cx="560.8" cy="149.2" rx="1.25" ry="1.05" fill="#bdbdbd"/>
<ellipse cx="545.4" cy="173.6" rx="1.25" ry="1.05" fill="#bdbdbd"/>
<ellipse cx="557.2" cy="179.2" rx="1.25" ry="1.05" fill="#bdbdbd"/>
<ellipse cx="554.1" cy="166.3" rx="1.25" ry="1.05" fill="#bdbdbd"/>
<ellipse cx="560.6" cy="170.8" rx="1.25" ry="1.05" fill="#bdbdbd"/>
<ellipse cx="554.5" cy="163.7" rx="1.25" ry="1.05" fill="#bdbdbd"/>
<ellipse cx="558.9" cy="175.3" rx="1.25" ry="1.05" fill="#bdbdbd"/>
<ellipse cx="545.7" cy="147.2" rx="1.25" ry="1.05" fill="#bdbdbd"/>
<ellipse cx="550.3" cy="169.6" rx="1.25" ry="1.05" fill="#bdbdbd"/>
<ellipse cx="558.8" cy="127.4" rx="1.25" ry="1.05" fill="#bdbdbd"/>
<ellipse cx="553.5" cy="172.6" rx="1.25" ry="1.05" fill="#bdbdbd"/>
<ellipse cx="548.4" cy="162.7" rx="1.25" ry="1.05" fill="#bdbdbd"/>
<ellipse cx="552.0" cy="169.1" rx="1.25" ry="1.05" fill="#bdbdbd"/>
<ellipse cx="547.1" cy="154.1" rx="1.25" ry="1.05" fill="#bdbdbd"/>
<ellipse cx="543.7" cy="151.3" rx="1.25" ry="1.05" fill="#bdbdbd"/>
<ellipse cx="554.6" cy="149.1" rx="1.25" ry="1.05" fill="#bdbdbd"/>
<ellipse cx="556.6" cy="168.2" rx="1.25" ry="1.05" fill="#bdbdbd"/>
<ellipse cx="547.1" cy="180.0" rx="1.25" ry="1.05" fill="#bdbdbd"/>
<ellipse cx="558.3" cy="172.9" rx="1.25" ry="1.05" fill="#bdbdbd"/>
<ellipse cx="554.6" cy="173.4" rx="1.25" ry="1.05" fill="#bdbdbd"/>
<ellipse cx="560.1" cy="134.6" rx="1.25" ry="1.05" fill="#bdbdbd"/>
<ellipse cx="548.8" cy="151.0" rx="1.25" ry="1.05" fill="#bdbdbd"/>
<ellipse cx="549.1" cy="160.6" rx="1.25" ry="1.05" fill="#bdbdbd"/>
<ellipse cx="545.8" cy="180.1" rx="1.25" ry="1.05" fill="#bdbdbd"/>
<ellipse cx="546.9" cy="162.6" rx="1.25" ry="1.05" fill="#bdbdbd"/>
<ellipse cx="546.8" cy="173.6" rx="1.25" ry="1.05" fill="#bdbdbd"/>
<ellipse cx="559.2" cy="168.4" rx="1.25" ry="1.05" fill="#bdbdbd"/>
<ellipse cx="546.7" cy="161.8" rx="1.25" ry="1.05" fill="#bdbdbd"/>
<ellipse cx="546.7" cy="170.6" rx="1.25" ry="1.05" fill="#bdbdbd"/>
<ellipse cx="558.3" cy="173.9" rx="1.25" ry="1.05" fill="#bdbdbd"/>
<ellipse cx="546.9" cy="121.3" rx="1.25" ry="1.05" fill="#bdbdbd"/>
<ellipse cx="555.2" cy="164.2" rx="1.25" ry="1.05" fill="#bdbdbd"/>
<ellipse cx="546.4" cy="115.7" rx="1.25" ry="1.05" fill="#bdbdbd"/>
<ellipse cx="547.5" cy="138.9" rx="1.25" ry="1.05" fill="#bdbdbd"/>
<ellipse cx="546.5" cy="165.0" rx="1.25" ry="1.05" fill="#bdbdbd"/>
<ellipse cx="547.7" cy="125.0" rx="1.25" ry="1.05" fill="#bdbdbd"/>
<ellipse cx="554.1" cy="176.9" rx="1.25" ry="1.05" fill="#bdbdbd"/>
<ellipse cx="549.3" cy="177.5" rx="1.25" ry="1.05" fill="#bdbdbd"/>
<ellipse cx="557.2" cy="162.0" rx="1.25" ry="1.05" fill="#bdbdbd"/>
<ellipse cx="543.6" cy="167.8" rx="1.25" ry="1.05" fill="#bdbdbd"/>
<ellipse cx="547.9" cy="165.5" rx="1.25" ry="1.05" fill="#bdbdbd"/>
<ellipse cx="555.3" cy="145.2" rx="1.25" ry="1.05" fill="#bdbdbd"/>
<ellipse cx="555.4" cy="162.1" rx="1.25" ry="1.05" fill="#bdbdbd"/>
<ellipse cx="556.3" cy="169.9" rx="1.25" ry="1.05" fill="#bdbdbd"/>
<ellipse cx="557.9" cy="174.6" rx="1.25" ry="1.05" fill="#bdbdbd"/>
<ellipse cx="559.2" cy="175.3" rx="1.25" ry="1.05" fill="#bdbdbd"/>
<ellipse cx="550.1" cy="170.5" rx="1.25" ry="1.05" fill="#bdbdbd"/>
<ellipse cx="546.8" cy="177.8" rx="1.25" ry="1.05" fill="#bdbdbd"/>
<ellipse cx="548.6" cy="174.6" rx="1.25" ry="1.05" fill="#bdbdbd"/>
<ellipse cx="556.6" cy="156.5" rx="1.25" ry="1.05" fill="#bdbdbd"/>
<ellipse cx="548.9" cy="165.8" rx="1.25" ry="1.05" fill="#bdbdbd"/>
<ellipse cx="548.7" cy="171.5" rx="1.25" ry="1.05" fill="#bdbdbd"/>
<ellipse cx="547.4" cy="139.2" rx="1.25" ry="1.05" fill="#bdbdbd"/>
<ellipse cx="548.5" cy="116.6" rx="1.25" ry="1.05" fill="#bdbdbd"/>
<ellipse cx="558.8" cy="168.7" rx="1.25" ry="1.05" fill="#bdbdbd"/>
<ellipse cx="559.5" cy="178.3" rx="1.25" ry="1.05" fill="#bdbdbd"/>
<ellipse cx="547.7" cy="161.8" rx="1.25" ry="1.05" fill="#bdbdbd"/>
<ellipse cx="554.4" cy="145.4" rx="1.25" ry="1.05" fill="#bdbdbd"/>
<ellipse cx="560.3" cy="164.9" rx="1.25" ry="1.05" fill="#bdbdbd"/>
<ellipse cx="560.7" cy="164.4" rx="1.25" ry="1.05" fill="#bdbdbd"/>
<ellipse cx="547.6" cy="163.5" rx="1.25" ry="1.05" fill="#bdbdbd"/>
<ellipse cx="559.6" cy="152.9" rx="1.25" ry="1.05" fill="#bdbdbd"/>
<ellipse cx="546.4" cy="179.1" rx="1.25" ry="1.05" fill="#bdbdbd"/>
<ellipse cx="543.8" cy="144.1" rx="1.25" ry="1.05" fill="#bdbdbd"/>
<ellipse cx="551.7" cy="177.5" rx="1.25" ry="1.05" fill="#bdbdbd"/>
<ellipse cx="551.2" cy="159.7" rx="1.25" ry="1.05" fill="#bdbdbd"/>
<ellipse cx="557.7" cy="149.6" rx="1.25" ry="1.05" fill="#bdbdbd"/>
<ellipse cx="548.1" cy="151.3" rx="1.25" ry="1.05" fill="#bdbdbd"/>
<ellipse cx="560.5" cy="138.4" rx="1.25" ry="1.05" fill="#bdbdbd"/>
<ellipse cx="551.7" cy="162.2" rx="1.25" ry="1.05" fill="#bdbdbd"/>
<ellipse cx="555.2" cy="172.2" rx="1.25" ry="1.05" fill="#bdbdbd"/>
<ellipse cx="544.8" cy="172.9" rx="1.25" ry="1.05" fill="#bdbdbd"/>
<ellipse cx="556.9" cy="162.6" rx="1.25" ry="1.05" fill="#bdbdbd"/>
<ellipse cx="544.7" cy="171.2" rx="1.25" ry="1.05" fill="#bdbdbd"/>
<ellipse cx="558.1" cy="132.4" rx="1.25" ry="1.05" fill="#bdbdbd"/>
<ellipse cx="547.8" cy="164.8" rx="1.25" ry="1.05" fill="#bdbdbd"/>
<ellipse cx="560.0" cy="169.0" rx="1.25" ry="1.05" fill="#bdbdbd"/>
<ellipse cx="560.5" cy="118.3" rx="1.25" ry="1.05" fill="#bdbdbd"/>
<ellipse cx="548.4" cy="161.4" rx="1.25" ry="1.05" fill="#bdbdbd"/>
<ellipse cx="549.8" cy="170.5" rx="1.25" ry="1.05" fill="#bdbdbd"/>
<ellipse cx="546.1" cy="171.7" rx="1.25" ry="1.05" fill="#bdbdbd"/>
<ellipse cx="547.9" cy="158.1" rx="1.25" ry="1.05" fill="#bdbdbd"/>
<ellipse cx="560.6" cy="165.7" rx="1.25" ry="1.05" fill="#bdbdbd"/>
<ellipse cx="558.6" cy="166.2" rx="1.25" ry="1.05" fill="#bdbdbd"/>
<ellipse cx="555.3" cy="131.4" rx="1.25" ry="1.05" fill="#bdbdbd"/>
<ellipse cx="558.9" cy="117.3" rx="1.25" ry="1.05" fill="#bdbdbd"/>
<ellipse cx="559.1" cy="152.6" rx="1.25" ry="1.05" fill="#bdbdbd"/>
<ellipse cx="560.2" cy="174.3" rx="1.25" ry="1.05" fill="#bdbdbd"/>
<ellipse cx="547.9" cy="118.7" rx="1.25" ry="1.05" fill="#bdbdbd"/>
<ellipse cx="558.8" cy="167.0" rx="1.25" ry="1.05" fill="#bdbdbd"/>
<ellipse cx="558.7" cy="122.1" rx="1.25" ry="1.05" fill="#bdbdbd"/>
<ellipse cx="551.0" cy="150.9" rx="1.25" ry="1.05" fill="#bdbdbd"/>
<ellipse cx="550.2" cy="171.6" rx="1.25" ry="1.05" fill="#bdbdbd"/>
<ellipse cx="557.9" cy="170.7" rx="1.25" ry="1.05" fill="#bdbdbd"/>
<ellipse cx="557.4" cy="120.5" rx="1.25" ry="1.05" fill="#bdbdbd"/>
<ellipse cx="546.4" cy="140.7" rx="1.25" ry="1.05" fill="#bdbdbd"/>
<ellipse cx="557.7" cy="173.9" rx="1.25" ry="1.05" fill="#bdbdbd"/>
<ellipse cx="559.4" cy="164.8" rx="1.25" ry="1.05" fill="#bdbdbd"/>
<ellipse cx="550.4" cy="152.2" rx="1.25" ry="1.05" fill="#bdbdbd"/>
<ellipse cx="544.2" cy="176.9" rx="1.25" ry="1.05" fill="#bdbdbd"/>
<ellipse cx="561.1" cy="111.2" rx="1.25" ry="1.05" fill="#bdbdbd"/>
<ellipse cx="557.9" cy="146.0" rx="1.25" ry="1.05" fill="#bdbdbd"/>
<ellipse cx="544.7" cy="163.8" rx="1.25" ry="1.05" fill="#bdbdbd"/>
<ellipse cx="554.2" cy="161.0" rx="1.25" ry="1.05" fill="#bdbdbd"/>
<ellipse cx="544.5" cy="172.4" rx="1.25" ry="1.05" fill="#bdbdbd"/>
<ellipse cx="561.0" cy="173.8" rx="1.25" ry="1.05" fill="#bdbdbd"/>
<ellipse cx="561.4" cy="157.7" rx="1.25" ry="1.05" fill="#bdbdbd"/>
<ellipse cx="560.0" cy="109.1" rx="1.25" ry="1.05" fill="#bdbdbd"/>
<ellipse cx="555.5" cy="146.8" rx="1.25" ry="1.05" fill="#bdbdbd"/>
<ellipse cx="557.7" cy="178.4" rx="1.25" ry="1.05" fill="#bdbdbd"/>
<ellipse cx="545.3" cy="160.4" rx="1.25" ry="1.05" fill="#bdbdbd"/>
<ellipse cx="551.6" cy="164.9" rx="1.25" ry="1.05" fill="#bdbdbd"/>
<ellipse cx="558.5" cy="177.6" rx="1.25" ry="1.05" fill="#bdbdbd"/>
<ellipse cx="556.4" cy="158.9" rx="1.25" ry="1.05" fill="#bdbdbd"/>
<ellipse cx="555.1" cy="153.4" rx="1.25" ry="1.05" fill="#bdbdbd"/>
<ellipse cx="547.5" cy="110.4" rx="1.25" ry="1.05" fill="#bdbdbd"/>
<ellipse cx="554.6" cy="164.1" rx="1.25" ry="1.05" fill="#bdbdbd"/>
<ellipse cx="546.4" cy="128.2" rx="1.25" ry="1.05" fill="#bdbdbd"/>
<ellipse cx="556.9" cy="177.1" rx="1.25" ry="1.05" fill="#bdbdbd"/>
<ellipse cx="557.6" cy="161.3" rx="1.25" ry="1.05" fill="#bdbdbd"/>
<ellipse cx="556.4" cy="174.7" rx="1.25" ry="1.05" fill="#bdbdbd"/>
<ellipse cx="550.3" cy="176.8" rx="1.25" ry="1.05" fill="#bdbdbd"/>
<ellipse cx="560.8" cy="163.0" rx="1.25" ry="1.05" fill="#bdbdbd"/>
<ellipse cx="546.5" cy="109.6" rx="1.25" ry="1.05" fill="#bdbdbd"/>
<ellipse cx="549.5" cy="151.4" rx="1.25" ry="1.05" fill="#bdbdbd"/>
<ellipse cx="555.1" cy="176.0" rx="1.25" ry="1.05" fill="#bdbdbd"/>
<ellipse cx="557.6" cy="167.9" rx="1.25" ry="1.05" fill="#bdbdbd"/>
<ellipse cx="555.6" cy="125.8" rx="1.25" ry="1.05" fill="#bdbdbd"/>
<ellipse cx="545.3" cy="157.9" rx="1.25" ry="1.05" fill="#bdbdbd"/>
<ellipse cx="550.3" cy="178.6" rx="1.25" ry="1.05" fill="#bdbdbd"/>
<ellipse cx="548.9" cy="80.1" rx="1.25" ry="1.05" fill="#bdbdbd"/>
<ellipse cx="556.9" cy="138.7" rx="1.25" ry="1.05" fill="#bdbdbd"/>
<ellipse cx="555.5" cy="117.8" rx="1.25" ry="1.05" fill="#bdbdbd"/>
<ellipse cx="553.9" cy="167.3" rx="1.25" ry="1.05" fill="#bdbdbd"/>
<ellipse cx="560.7" cy="147.6" rx="1.25" ry="1.05" fill="#bdbdbd"/>
<ellipse cx="549.4" cy="174.0" rx="1.25" ry="1.05" fill="#bdbdbd"/>
<ellipse cx="544.9" cy="141.6" rx="1.25" ry="1.05" fill="#bdbdbd"/>
<ellipse cx="560.1" cy="121.5" rx="1.25" ry="1.05" fill="#bdbdbd"/>
<ellipse cx="544.8" cy="156.0" rx="1.25" ry="1.05" fill="#bdbdbd"/>
<ellipse cx="559.1" cy="177.8" rx="1.25" ry="1.05" fill="#bdbdbd"/>
<ellipse cx="543.8" cy="175.8" rx="1.25" ry="1.05" fill="#bdbdbd"/>
<ellipse cx="550.1" cy="146.5" rx="1.25" ry="1.05" fill="#bdbdbd"/>
<ellipse cx="545.2" cy="122.4" rx="1.25" ry="1.05" fill="#bdbdbd"/>
<ellipse cx="548.1" cy="158.2" rx="1.25" ry="1.05" fill="#bdbdbd"/>
<ellipse cx="547.1" cy="142.4" rx="1.25" ry="1.05" fill="#bdbdbd"/>
<ellipse cx="543.8" cy="177.1" rx="1.25" ry="1.05" fill="#bdbdbd"/>
<ellipse cx="560.2" cy="173.0" rx="1.25" ry="1.05" fill="#bdbdbd"/>
<ellipse cx="556.9" cy="174.7" rx="1.25" ry="1.05" fill="#bdbdbd"/>
<ellipse cx="544.3" cy="163.5" rx="1.25" ry="1.05" fill="#bdbdbd"/>
<ellipse cx="548.2" cy="149.7" rx="1.25" ry="1.05" fill="#bdbdbd"/>
<ellipse cx="545.9" cy="141.4" rx="1.25" ry="1.05" fill="#bdbdbd"/>
<ellipse cx="551.3" cy="167.3" rx="1.25" ry="1.05" fill="#bdbdbd"/>
<ellipse cx="548.2" cy="135.7" rx="1.25" ry="1.05" fill="#bdbdbd"/>
<ellipse cx="560.8" cy="141.4" rx="1.25" ry="1.05" fill="#bdbdbd"/>
<ellipse cx="560.0" cy="177.3" rx="1.25" ry="1.05" fill="#bdbdbd"/>
<ellipse cx="557.3" cy="157.3" rx="1.25" ry="1.05" fill="#bdbdbd"/>
<ellipse cx="549.2" cy="174.2" rx="1.25" ry="1.05" fill="#bdbdbd"/>
<ellipse cx="556.0" cy="156.4" rx="1.25" ry="1.05" fill="#bdbdbd"/>
<ellipse cx="559.1" cy="172.4" rx="1.25" ry="1.05" fill="#bdbdbd"/>
<ellipse cx="560.1" cy="153.6" rx="1.25" ry="1.05" fill="#bdbdbd"/>
<ellipse cx="551.0" cy="151.9" rx="1.25" ry="1.05" fill="#bdbdbd"/>
<ellipse cx="550.0" cy="175.1" rx="1.25" ry="1.05" fill="#bdbdbd"/>
<ellipse cx="550.2" cy="169.1" rx="1.25" ry="1.05" fill="#bdbdbd"/>
<ellipse cx="560.8" cy="157.0" rx="1.25" ry="1.05" fill="#bdbdbd"/>
<ellipse cx="543.9" cy="163.1" rx="1.25" ry="1.05" fill="#bdbdbd"/>
<ellipse cx="560.2" cy="175.0" rx="1.25" ry="1.05" fill="#bdbdbd"/>
<ellipse cx="553.4" cy="161.7" rx="1.25" ry="1.05" fill="#bdbdbd"/>
<ellipse cx="558.5" cy="108.9" rx="1.25" ry="1.05" fill="#bdbdbd"/>
<ellipse cx="551.3" cy="169.5" rx="1.25" ry="1.05" fill="#bdbdbd"/>
<ellipse cx="549.3" cy="131.4" rx="1.25" ry="1.05" fill="#bdbdbd"/>
<ellipse cx="558.3" cy="178.2" rx="1.25" ry="1.05" fill="#bdbdbd"/>
<ellipse cx="547.1" cy="102.3" rx="1.25" ry="1.05" fill="#bdbdbd"/>
<ellipse cx="547.6" cy="168.6" rx="1.25" ry="1.05" fill="#bdbdbd"/>
<ellipse cx="546.3" cy="121.7" rx="1.25" ry="1.05" fill="#bdbdbd"/>
<ellipse cx="545.0" cy="178.7" rx="1.25" ry="1.05" fill="#bdbdbd"/>
<ellipse cx="548.0" cy="160.1" rx="1.25" ry="1.05" fill="#bdbdbd"/>
<ellipse cx="559.9" cy="125.7" rx="1.25" ry="1.05" fill="#bdbdbd"/>
<ellipse cx="551.0" cy="170.5" rx="1.25" ry="1.05" fill="#bdbdbd"/>
<ellipse cx="549.2" cy="125.6" rx="1.25" ry="1.05" fill="#bdbdbd"/>
<ellipse cx="549.0" cy="179.0" rx="1.25" ry="1.05" fill="#bdbdbd"/>
<ellipse cx="549.2" cy="154.9" rx="1.25" ry="1.05" fill="#bdbdbd"/>
<ellipse cx="557.7" cy="171.7" rx="1.25" ry="1.05" fill="#bdbdbd"/>
<ellipse cx="545.5" cy="86.2" rx="1.25" ry="1.05" fill="#bdbdbd"/>
<ellipse cx="543.9" cy="168.4" rx="1.25" ry="1.05" fill="#bdbdbd"/>
<ellipse cx="556.1" cy="151.3" rx="1.25" ry="1.05" fill="#bdbdbd"/>
<ellipse cx="545.0" cy="159.1" rx="1.25" ry="1.05" fill="#bdbdbd"/>
<ellipse cx="550.9" cy="169.7" rx="1.25" ry="1.05" fill="#bdbdbd"/>
<ellipse cx="556.0" cy="128.6" rx="1.25" ry="1.05" fill="#bdbdbd"/>
<ellipse cx="553.5" cy="171.0" rx="1.25" ry="1.05" fill="#bdbdbd"/>
<ellipse cx="543.8" cy="168.3" rx="1.25" ry="1.05" fill="#bdbdbd"/>
<ellipse cx="549.6" cy="175.0" rx="1.25" ry="1.05" fill="#bdbdbd"/>
<ellipse cx="555.7" cy="174.7" rx="1.25" ry="1.05" fill="#bdbdbd"/>
<ellipse cx="555.1" cy="177.3" rx="1.25" ry="1.05" fill="#bdbdbd"/>
<ellipse cx="561.4" cy="168.2" rx="1.25" ry="1.05" fill="#bdbdbd"/>
<ellipse cx="560.9" cy="174.5" rx="1.25" ry="1.05" fill="#bdbdbd"/>
<ellipse cx="559.1" cy="135.6" rx="1.25" ry="1.05" fill="#bdbdbd"/>
<ellipse cx="559.5" cy="176.1" rx="1.25" ry="1.05" fill="#bdbdbd"/>
<ellipse cx="546.2" cy="160.0" rx="1.25" ry="1.05" fill="#bdbdbd"/>
<ellipse cx="549.1" cy="172.2" rx="1.25" ry="1.05" fill="#bdbdbd"/>
<ellipse cx="549.4" cy="161.6" rx="1.25" ry="1.05" fill="#bdbdbd"/>
<ellipse cx="559.7" cy="172.8" rx="1.25" ry="1.05" fill="#bdbdbd"/>
<ellipse cx="559.5" cy="137.1" rx="1.25" ry="1.05" fill="#bdbdbd"/>
<ellipse cx="547.6" cy="178.4" rx="1.25" ry="1.05" fill="#bdbdbd"/>
<ellipse cx="548.1" cy="152.3" rx="1.25" ry="1.05" fill="#bdbdbd"/>
<ellipse cx="549.7" cy="177.2" rx="1.25" ry="1.05" fill="#bdbdbd"/>
<ellipse cx="545.6" cy="96.1" rx="1.25" ry="1.05" fill="#bdbdbd"/>
<ellipse cx="544.0" cy="167.8" rx="1.25" ry="1.05" fill="#bdbdbd"/>
<ellipse cx="548.8" cy="169.9" rx="1.25" ry="1.05" fill="#bdbdbd"/>
<ellipse cx="550.5" cy="169.6" rx="1.25" ry="1.05" fill="#bdbdbd"/>
<ellipse cx="547.5" cy="161.5" rx="1.25" ry="1.05" fill="#bdbdbd"/>
<ellipse cx="560.8" cy="123.2" rx="1.25" ry="1.05" fill="#bdbdbd"/>
<ellipse cx="547.8" cy="167.0" rx="1.25" ry="1.05" fill="#bdbdbd"/>
<ellipse cx="558.4" cy="153.1" rx="1.25" ry="1.05" fill="#bdbdbd"/>
<ellipse cx="549.4" cy="159.2" rx="1.25" ry="1.05" fill="#bdbdbd"/>
<ellipse cx="545.9" cy="142.0" rx="1.25" ry="1.05" fill="#bdbdbd"/>
<ellipse cx="544.2" cy="124.0" rx="1.25" ry="1.05" fill="#bdbdbd"/>
<ellipse cx="560.7" cy="154.4" rx="1.25" ry="1.05" fill="#bdbdbd"/>
<ellipse cx="545.8" cy="150.2" rx="1.25" ry="1.05" fill="#bdbdbd"/>
<ellipse cx="551.7" cy="172.2" rx="1.25" ry="1.05" fill="#bdbdbd"/>
<ellipse cx="557.2" cy="137.4" rx="1.25" ry="1.05" fill="#bdbdbd"/>
<ellipse cx="546.4" cy="177.7" rx="1.25" ry="1.05" fill="#bdbdbd"/>
<ellipse cx="557.0" cy="140.3" rx="1.25" ry="1.05" fill="#bdbdbd"/>
<ellipse cx="560.5" cy="135.3" rx="1.25" ry="1.05" fill="#bdbdbd"/>
<ellipse cx="548.5" cy="178.6" rx="1.25" ry="1.05" fill="#bdbdbd"/>
<ellipse cx="554.7" cy="139.7" rx="1.25" ry="1.05" fill="#bdbdbd"/>
<ellipse cx="558.4" cy="173.9" rx="1.25" ry="1.05" fill="#bdbdbd"/>
<ellipse cx="557.9" cy="170.3" rx="1.25" ry="1.05" fill="#bdbdbd"/>
<ellipse cx="549.3" cy="141.4" rx="1.25" ry="1.05" fill="#bdbdbd"/>
<ellipse cx="551.5" cy="161.2" rx="1.25" ry="1.05" fill="#bdbdbd"/>
<ellipse cx="557.2" cy="179.4" rx="1.25" ry="1.05" fill="#bdbdbd"/>
<ellipse cx="546.9" cy="178.5" rx="1.25" ry="1.05" fill="#bdbdbd"/>
<ellipse cx="548.4" cy="158.5" rx="1.25" ry="1.05" fill="#bdbdbd"/>
<ellipse cx="549.8" cy="158.3" rx="1.25" ry="1.05" fill="#bdbdbd"/>
<ellipse cx="544.7" cy="140.1" rx="1.25" ry="1.05" fill="#bdbdbd"/>
<ellipse cx="557.0" cy="178.3" rx="1.25" ry="1.05" fill="#bdbdbd"/>
<ellipse cx="546.2" cy="165.3" rx="1.25" ry="1.05" fill="#bdbdbd"/>
<ellipse cx="556.1" cy="165.2" rx="1.25" ry="1.05" fill="#bdbdbd"/>
<ellipse cx="555.6" cy="167.5" rx="1.25" ry="1.05" fill="#bdbdbd"/>
<ellipse cx="560.1" cy="147.4" rx="1.25" ry="1.05" fill="#bdbdbd"/>
<ellipse cx="547.4" cy="172.6" rx="1.25" ry="1.05" fill="#bdbdbd"/>
<ellipse cx="545.0" cy="91.4" rx="1.25" ry="1.05" fill="#bdbdbd"/>
<ellipse cx="557.2" cy="148.6" rx="1.25" ry="1.05" fill="#bdbdbd"/>
<ellipse cx="544.8" cy="179.8" rx="1.25" ry="1.05" fill="#bdbdbd"/>
<ellipse cx="555.8" cy="155.7" rx="1.25" ry="1.05" fill="#bdbdbd"/>
<ellipse cx="546.8" cy="175.7" rx="1.25" ry="1.05" fill="#bdbdbd"/>
<ellipse cx="553.4" cy="171.2" rx="1.25" ry="1.05" fill="#bdbdbd"/>
<ellipse cx="544.4" cy="169.4" rx="1.25" ry="1.05" fill="#bdbdbd"/>
<ellipse cx="554.1" cy="165.2" rx="1.25" ry="1.05" fill="#bdbdbd"/>
<ellipse cx="559.7" cy="176.0" rx="1.25" ry="1.05" fill="#bdbdbd"/>
<ellipse cx="561.0" cy="120.5" rx="1.25" ry="1.05" fill="#bdbdbd"/>
<ellipse cx="557.7" cy="159.8" rx="1.25" ry="1.05" fill="#bdbdbd"/>
<ellipse cx="552.1" cy="173.0" rx="1.25" ry="1.05" fill="#bdbdbd"/>
<ellipse cx="544.0" cy="149.7" rx="1.25" ry="1.05" fill="#bdbdbd"/>
<ellipse cx="559.4" cy="166.0" rx="1.25" ry="1.05" fill="#bdbdbd"/>
<ellipse cx="560.2" cy="139.1" rx="1.25" ry="1.05" fill="#bdbdbd"/>
<ellipse cx="558.0" cy="174.2" rx="1.25" ry="1.05" fill="#bdbdbd"/>
<ellipse cx="545.1" cy="179.9" rx="1.25" ry="1.05" fill="#bdbdbd"/>
<ellipse cx="551.5" cy="164.8" rx="1.25" ry="1.05" fill="#bdbdbd"/>
<ellipse cx="554.0" cy="161.4" rx="1.25" ry="1.05" fill="#bdbdbd"/>
<ellipse cx="560.7" cy="156.1" rx="1.25" ry="1.05" fill="#bdbdbd"/>
<ellipse cx="555.4" cy="155.1" rx="1.25" ry="1.05" fill="#bdbdbd"/>
<ellipse cx="560.3" cy="122.1" rx="1.25" ry="1.05" fill="#bdbdbd"/>
<ellipse cx="547.0" cy="165.2" rx="1.25" ry="1.05" fill="#bdbdbd"/>
<ellipse cx="557.3" cy="150.0" rx="1.25" ry="1.05" fill="#bdbdbd"/>
<ellipse cx="560.8" cy="148.5" rx="1.25" ry="1.05" fill="#bdbdbd"/>
<ellipse cx="559.4" cy="152.7" rx="1.25" ry="1.05" fill="#bdbdbd"/>
<ellipse cx="559.2" cy="154.4" rx="1.25" ry="1.05" fill="#bdbdbd"/>
<ellipse cx="544.3" cy="176.4" rx="1.25" ry="1.05" fill="#bdbdbd"/>
<ellipse cx="550.4" cy="178.5" rx="1.25" ry="1.05" fill="#bdbdbd"/>
<ellipse cx="548.9" cy="173.8" rx="1.25" ry="1.05" fill="#bdbdbd"/>
<ellipse cx="559.1" cy="137.5" rx="1.25" ry="1.05" fill="#bdbdbd"/>
<ellipse cx="543.8" cy="177.7" rx="1.25" ry="1.05" fill="#bdbdbd"/>
<ellipse cx="553.1" cy="179.2" rx="1.25" ry="1.05" fill="#bdbdbd"/>
<ellipse cx="548.3" cy="114.6" rx="1.25" ry="1.05" fill="#bdbdbd"/>
<ellipse cx="561.0" cy="155.1" rx="1.25" ry="1.05" fill="#bdbdbd"/>
<ellipse cx="552.3" cy="176.0" rx="1.25" ry="1.05" fill="#bdbdbd"/>
<ellipse cx="543.8" cy="177.4" rx="1.25" ry="1.05" fill="#bdbdbd"/>
<ellipse cx="560.0" cy="175.1" rx="1.25" ry="1.05" fill="#bdbdbd"/>
<ellipse cx="550.9" cy="162.5" rx="1.25" ry="1.05" fill="#bdbdbd"/>
<ellipse cx="545.8" cy="126.0" rx="1.25" ry="1.05" fill="#bdbdbd"/>
<ellipse cx="546.7" cy="163.0" rx="1.25" ry="1.05" fill="#bdbdbd"/>
<ellipse cx="546.6" cy="140.7" rx="1.25" ry="1.05" fill="#bdbdbd"/>
<ellipse cx="556.4" cy="171.7" rx="1.25" ry="1.05" fill="#bdbdbd"/>
<ellipse cx="550.9" cy="146.6" rx="1.25" ry="1.05" fill="#bdbdbd"/>
<ellipse cx="550.9" cy="165.1" rx="1.25" ry="1.05" fill="#bdbdbd"/>
<ellipse cx="556.6" cy="174.4" rx="1.25" ry="1.05" fill="#bdbdbd"/>
<ellipse cx="547.6" cy="88.0" rx="1.25" ry="1.05" fill="#bdbdbd"/>
<ellipse cx="558.9" cy="133.8" rx="1.25" ry="1.05" fill="#bdbdbd"/>
<ellipse cx="549.9" cy="144.8" rx="1.25" ry="1.05" fill="#bdbdbd"/>
<ellipse cx="547.0" cy="144.2" rx="1.25" ry="1.05" fill="#bdbdbd"/>
<ellipse cx="557.2" cy="162.1" rx="1.25" ry="1.05" fill="#bdbdbd"/>
<ellipse cx="546.4" cy="156.9" rx="1.25" ry="1.05" fill="#bdbdbd"/>
<ellipse cx="545.1" cy="147.7" rx="1.25" ry="1.05" fill="#bdbdbd"/>
<ellipse cx="551.0" cy="149.2" rx="1.25" ry="1.05" fill="#bdbdbd"/>
<ellipse cx="560.6" cy="166.3" rx="1.25" ry="1.05" fill="#bdbdbd"/>
<ellipse cx="558.4" cy="109.9" rx="1.25" ry="1.05" fill="#bdbdbd"/>
<ellipse cx="556.0" cy="171.4" rx="1.25" ry="1.05" fill="#bdbdbd"/>
<ellipse cx="548.5" cy="177.7" rx="1.25" ry="1.05" fill="#bdbdbd"/>
<ellipse cx="544.1" cy="154.1" rx="1.25" ry="1.05" fill="#bdbdbd"/>
<ellipse cx="561.6" cy="135.6" rx="1.25" ry="1.05" fill="#bdbdbd"/>
<ellipse cx="556.5" cy="173.1" rx="1.25" ry="1.05" fill="#bdbdbd"/>
<ellipse cx="544.5" cy="173.7" rx="1.25" ry="1.05" fill="#bdbdbd"/>
<ellipse cx="545.5" cy="170.3" rx="1.25" ry="1.05" fill="#bdbdbd"/>
<ellipse cx="560.3" cy="125.9" rx="1.25" ry="1.05" fill="#bdbdbd"/>
<ellipse cx="556.8" cy="137.3" rx="1.25" ry="1.05" fill="#bdbdbd"/>
<ellipse cx="561.4" cy="161.2" rx="1.25" ry="1.05" fill="#bdbdbd"/>
<ellipse cx="546.4" cy="161.5" rx="1.25" ry="1.05" fill="#bdbdbd"/>
<ellipse cx="547.1" cy="111.8" rx="1.25" ry="1.05" fill="#bdbdbd"/>
<ellipse cx="558.6" cy="96.0" rx="1.25" ry="1.05" fill="#bdbdbd"/>
<ellipse cx="559.7" cy="121.9" rx="1.25" ry="1.05" fill="#bdbdbd"/>
<ellipse cx="546.2" cy="166.0" rx="1.25" ry="1.05" fill="#bdbdbd"/>
<ellipse cx="554.1" cy="146.5" rx="1.25" ry="1.05" fill="#bdbdbd"/>
<ellipse cx="558.9" cy="179.5" rx="1.25" ry="1.05" fill="#bdbdbd"/>
<ellipse cx="543.8" cy="172.8" rx="1.25" ry="1.05" fill="#bdbdbd"/>
<ellipse cx="546.3" cy="158.2" rx="1.25" ry="1.05" fill="#bdbdbd"/>
<ellipse cx="556.3" cy="151.0" rx="1.25" ry="1.05" fill="#bdbdbd"/>
<ellipse cx="552.8" cy="178.4" rx="1.25" ry="1.05" fill="#bdbdbd"/>
<ellipse cx="553.8" cy="176.4" rx="1.25" ry="1.05" fill="#bdbdbd"/>
<ellipse cx="561.4" cy="94.4" rx="1.25" ry="1.05" fill="#bdbdbd"/>
<ellipse cx="548.7" cy="171.3" rx="1.25" ry="1.05" fill="#bdbdbd"/>
<ellipse cx="559.4" cy="165.7" rx="1.25" ry="1.05" fill="#bdbdbd"/>
<ellipse cx="557.7" cy="114.0" rx="1.25" ry="1.05" fill="#bdbdbd"/>
<ellipse cx="549.0" cy="136.8" rx="1.25" ry="1.05" fill="#bdbdbd"/>
<ellipse cx="556.0" cy="152.8" rx="1.25" ry="1.05" fill="#bdbdbd"/>
<ellipse cx="560.8" cy="175.0" rx="1.25" ry="1.05" fill="#bdbdbd"/>
<ellipse cx="546.8" cy="153.7" rx="1.25" ry="1.05" fill="#bdbdbd"/>
<ellipse cx="554.1" cy="175.2" rx="1.25" ry="1.05" fill="#bdbdbd"/>
<ellipse cx="547.0" cy="80.5" rx="1.25" ry="1.05" fill="#bdbdbd"/>
<ellipse cx="553.4" cy="173.9" rx="1.25" ry="1.05" fill="#bdbdbd"/>
<ellipse cx="555.6" cy="133.1" rx="1.25" ry="1.05" fill="#bdbdbd"/>
<ellipse cx="555.1" cy="148.6" rx="1.25" ry="1.05" fill="#bdbdbd"/>
<ellipse cx="557.6" cy="168.9" rx="1.25" ry="1.05" fill="#bdbdbd"/>
<ellipse cx="559.9" cy="173.1" rx="1.25" ry="1.05" fill="#bdbdbd"/>
<ellipse cx="559.7" cy="168.4" rx="1.25" ry="1.05" fill="#bdbdbd"/>
<ellipse cx="554.8" cy="174.8" rx="1.25" ry="1.05" fill="#bdbdbd"/>
<ellipse cx="558.6" cy="169.0" rx="1.25" ry="1.05" fill="#bdbdbd"/>
<ellipse cx="550.0" cy="130.1" rx="1.25" ry="1.05" fill="#bdbdbd"/>
<ellipse cx="553.2" cy="173.6" rx="1.25" ry="1.05" fill="#bdbdbd"/>
<ellipse cx="548.4" cy="177.1" rx="1.25" ry="1.05" fill="#bdbdbd"/>
<ellipse cx="553.8" cy="177.7" rx="1.25" ry="1.05" fill="#bdbdbd"/>
<ellipse cx="554.9" cy="175.4" rx="1.25" ry="1.05" fill="#bdbdbd"/>
<ellipse cx="553.3" cy="177.0" rx="1.25" ry="1.05" fill="#bdbdbd"/>
<ellipse cx="544.1" cy="164.6" rx="1.25" ry="1.05" fill="#bdbdbd"/>
<ellipse cx="550.5" cy="178.3" rx="1.25" ry="1.05" fill="#bdbdbd"/>
<ellipse cx="544.6" cy="159.8" rx="1.25" ry="1.05" fill="#bdbdbd"/>
<ellipse cx="549.7" cy="132.2" rx="1.25" ry="1.05" fill="#bdbdbd"/>
<ellipse cx="550.8" cy="173.4" rx="1.25" ry="1.05" fill="#bdbdbd"/>
<ellipse cx="553.6" cy="174.3" rx="1.25" ry="1.05" fill="#bdbdbd"/>
<ellipse cx="558.3" cy="116.8" rx="1.25" ry="1.05" fill="#bdbdbd"/>
<ellipse cx="555.9" cy="165.3" rx="1.25" ry="1.05" fill="#bdbdbd"/>
<ellipse cx="556.6" cy="153.4" rx="1.25" ry="1.05" fill="#bdbdbd"/>
<ellipse cx="559.8" cy="78.3" rx="1.25" ry="1.05" fill="#bdbdbd"/>
<ellipse cx="557.8" cy="154.1" rx="1.25" ry="1.05" fill="#bdbdbd"/>
<ellipse cx="545.7" cy="164.5" rx="1.25" ry="1.05" fill="#bdbdbd"/>
<ellipse cx="547.9" cy="173.6" rx="1.25" ry="1.05" fill="#bdbdbd"/>
<ellipse cx="550.3" cy="154.3" rx="1.25" ry="1.05" fill="#bdbdbd"/>
<ellipse cx="560.1" cy="108.6" rx="1.25" ry="1.05" fill="#bdbdbd"/>
<ellipse cx="556.4" cy="122.9" rx="1.25" ry="1.05" fill="#bdbdbd"/>
<ellipse cx="553.2" cy="174.1" rx="1.25" ry="1.05" fill="#bdbdbd"/>
<ellipse cx="550.7" cy="176.4" rx="1.25" ry="1.05" fill="#bdbdbd"/>
<ellipse cx="561.2" cy="158.6" rx="1.25" ry="1.05" fill="#bdbdbd"/>
<ellipse cx="551.2" cy="152.2" rx="1.25" ry="1.05" fill="#bdbdbd"/>
<ellipse cx="548.1" cy="173.6" rx="1.25" ry="1.05" fill="#bdbdbd"/>
<ellipse cx="546.5" cy="107.4" rx="1.25" ry="1.05" fill="#bdbdbd"/>
<ellipse cx="560.2" cy="174.1" rx="1.25" ry="1.05" fill="#bdbdbd"/>
<ellipse cx="550.0" cy="165.2" rx="1.25" ry="1.05" fill="#bdbdbd"/>
<ellipse cx="556.5" cy="170.6" rx="1.25" ry="1.05" fill="#bdbdbd"/>
<ellipse cx="554.0" cy="153.0" rx="1.25" ry="1.05" fill="#bdbdbd"/>
<ellipse cx="560.1" cy="175.8" rx="1.25" ry="1.05" fill="#bdbdbd"/>
<ellipse cx="555.7" cy="157.2" rx="1.25" ry="1.05" fill="#bdbdbd"/>
<ellipse cx="559.3" cy="159.9" rx="1.25" ry="1.05" fill="#bdbdbd"/>
<ellipse cx="551.2" cy="173.4" rx="1.25" ry="1.05" fill="#bdbdbd"/>
<ellipse cx="551.2" cy="176.2" rx="1.25" ry="1.05" fill="#bdbdbd"/>
<ellipse cx="560.7" cy="158.7" rx="1.25" ry="1.05" fill="#bdbdbd"/>
<ellipse cx="550.8" cy="173.6" rx="1.25" ry="1.05" fill="#bdbdbd"/>
<ellipse cx="548.5" cy="165.3" rx="1.25" ry="1.05" fill="#bdbdbd"/>
<ellipse cx="544.6" cy="153.5" rx="1.25" ry="1.05" fill="#bdbdbd"/>
<ellipse cx="561.2" cy="172.4" rx="1.25" ry="1.05" fill="#bdbdbd"/>
<ellipse cx="560.9" cy="178.8" rx="1.25" ry="1.05" fill="#bdbdbd"/>
<ellipse cx="555.2" cy="179.7" rx="1.25" ry="1.05" fill="#bdbdbd"/>
<ellipse cx="547.3" cy="96.4" rx="1.25" ry="1.05" fill="#bdbdbd"/>
<ellipse cx="544.9" cy="133.7" rx="1.25" ry="1.05" fill="#bdbdbd"/>
<ellipse cx="550.3" cy="177.1" rx="1.25" ry="1.05" fill="#bdbdbd"/>
<ellipse cx="545.1" cy="158.5" rx="1.25" ry="1.05" fill="#bdbdbd"/>
<ellipse cx="558.5" cy="99.5" rx="1.25" ry="1.05" fill="#bdbdbd"/>
<ellipse cx="555.9" cy="151.2" rx="1.25" ry="1.05" fill="#bdbdbd"/>
<ellipse cx="547.6" cy="168.9" rx="1.25" ry="1.05" fill="#bdbdbd"/>
<ellipse cx="545.9" cy="178.3" rx="1.25" ry="1.05" fill="#bdbdbd"/>
<ellipse cx="546.3" cy="164.5" rx="1.25" ry="1.05" fill="#bdbdbd"/>
<ellipse cx="548.3" cy="179.9" rx="1.25" ry="1.05" fill="#bdbdbd"/>
<ellipse cx="559.0" cy="149.8" rx="1.25" ry="1.05" fill="#bdbdbd"/>
<ellipse cx="559.3" cy="102.0" rx="1.25" ry="1.05" fill="#bdbdbd"/>
<ellipse cx="556.0" cy="102.3" rx="1.25" ry="1.05" fill="#bdbdbd"/>
<ellipse cx="548.4" cy="147.5" rx="1.25" ry="1.05" fill="#bdbdbd"/>
<ellipse cx="554.7" cy="176.8" rx="1.25" ry="1.05" fill="#bdbdbd"/>
<ellipse cx="553.3" cy="172.5" rx="1.25" ry="1.05" fill="#bdbdbd"/>
<ellipse cx="556.7" cy="167.3" rx="1.25" ry="1.05" fill="#bdbdbd"/>
<ellipse cx="544.0" cy="158.7" rx="1.25" ry="1.05" fill="#bdbdbd"/>
<ellipse cx="559.1" cy="169.3" rx="1.25" ry="1.05" fill="#bdbdbd"/>
<ellipse cx="557.1" cy="175.4" rx="1.25" ry="1.05" fill="#bdbdbd"/>
<ellipse cx="555.1" cy="152.5" rx="1.25" ry="1.05" fill="#bdbdbd"/>
<ellipse cx="544.9" cy="99.5" rx="1.25" ry="1.05" fill="#bdbdbd"/>
<ellipse cx="545.9" cy="155.4" rx="1.25" ry="1.05" fill="#bdbdbd"/>
<ellipse cx="559.6" cy="174.8" rx="1.25" ry="1.05" fill="#bdbdbd"/>
<ellipse cx="545.1" cy="172.9" rx="1.25" ry="1.05" fill="#bdbdbd"/>
<ellipse cx="560.8" cy="133.6" rx="1.25" ry="1.05" fill="#bdbdbd"/>
<ellipse cx="547.7" cy="179.8" rx="1.25" ry="1.05" fill="#bdbdbd"/>
<ellipse cx="553.6" cy="172.3" rx="1.25" ry="1.05" fill="#bdbdbd"/>
<ellipse cx="559.0" cy="175.5" rx="1.25" ry="1.05" fill="#bdbdbd"/>
<ellipse cx="550.0" cy="173.7" rx="1.25" ry="1.05" fill="#bdbdbd"/>
<ellipse cx="545.1" cy="73.0" rx="1.25" ry="1.05" fill="#bdbdbd"/>
<ellipse cx="559.0" cy="94.0" rx="1.25" ry="1.05" fill="#bdbdbd"/>
<ellipse cx="555.5" cy="164.1" rx="1.25" ry="1.05" fill="#bdbdbd"/>
<ellipse cx="554.2" cy="178.0" rx="1.25" ry="1.05" fill="#bdbdbd"/>
<ellipse cx="559.2" cy="156.1" rx="1.25" ry="1.05" fill="#bdbdbd"/>
<ellipse cx="561.3" cy="141.6" rx="1.25" ry="1.05" fill="#bdbdbd"/>
<ellipse cx="544.2" cy="175.0" rx="1.25" ry="1.05" fill="#bdbdbd"/>
<ellipse cx="551.2" cy="178.8" rx="1.25" ry="1.05" fill="#bdbdbd"/>
<ellipse cx="559.3" cy="168.2" rx="1.25" ry="1.05" fill="#bdbdbd"/>
<ellipse cx="545.2" cy="140.9" rx="1.25" ry="1.05" fill="#bdbdbd"/>
<ellipse cx="560.6" cy="140.1" rx="1.25" ry="1.05" fill="#bdbdbd"/>
<ellipse cx="558.2" cy="153.4" rx="1.25" ry="1.05" fill="#bdbdbd"/>
<ellipse cx="558.0" cy="174.9" rx="1.25" ry="1.05" fill="#bdbdbd"/>
<ellipse cx="555.6" cy="155.4" rx="1.25" ry="1.05" fill="#bdbdbd"/>
<ellipse cx="547.5" cy="166.6" rx="1.25" ry="1.05" fill="#bdbdbd"/>
<ellipse cx="559.2" cy="179.4" rx="1.25" ry="1.05" fill="#bdbdbd"/>
<ellipse cx="546.7" cy="171.7" rx="1.25" ry="1.05" fill="#bdbdbd"/>
<ellipse cx="560.9" cy="156.7" rx="1.25" ry="1.05" fill="#bdbdbd"/>
<ellipse cx="558.7" cy="171.0" rx="1.25" ry="1.05" fill="#bdbdbd"/>
<ellipse cx="550.4" cy="175.9" rx="1.25" ry="1.05" fill="#bdbdbd"/>
<ellipse cx="545.6" cy="137.0" rx="1.25" ry="1.05" fill="#bdbdbd"/>
<ellipse cx="549.5" cy="171.0" rx="1.25" ry="1.05" fill="#bdbdbd"/>
<ellipse cx="558.1" cy="178.7" rx="1.25" ry="1.05" fill="#bdbdbd"/>
<ellipse cx="557.3" cy="178.9" rx="1.25" ry="1.05" fill="#bdbdbd"/>
<ellipse cx="544.0" cy="114.2" rx="1.25" ry="1.05" fill="#bdbdbd"/>
<ellipse cx="548.8" cy="162.0" rx="1.25" ry="1.05" fill="#bdbdbd"/>
<ellipse cx="559.8" cy="161.6" rx="1.25" ry="1.05" fill="#bdbdbd"/>
<ellipse cx="556.2" cy="178.4" rx="1.25" ry="1.05" fill="#bdbdbd"/>
<ellipse cx="558.8" cy="173.0" rx="1.25" ry="1.05" fill="#bdbdbd"/>
<ellipse cx="548.1" cy="170.7" rx="1.25" ry="1.05" fill="#bdbdbd"/>
<ellipse cx="545.0" cy="144.0" rx="1.25" ry="1.05" fill="#bdbdbd"/>
<ellipse cx="557.5" cy="113.4" rx="1.25" ry="1.05" fill="#bdbdbd"/>
<ellipse cx="543.7" cy="179.2" rx="1.25" ry="1.05" fill="#bdbdbd"/>
<ellipse cx="548.3" cy="176.7" rx="1.25" ry="1.05" fill="#bdbdbd"/>
<ellipse cx="551.6" cy="171.4" rx="1.25" ry="1.05" fill="#bdbdbd"/>
<ellipse cx="560.5" cy="143.9" rx="1.25" ry="1.05" fill="#bdbdbd"/>
<ellipse cx="561.3" cy="177.7" rx="1.25" ry="1.05" fill="#bdbdbd"/>
<ellipse cx="559.6" cy="171.8" rx="1.25" ry="1.05" fill="#bdbdbd"/>
<ellipse cx="553.4" cy="177.4" rx="1.25" ry="1.05" fill="#bdbdbd"/>
<ellipse cx="560.3" cy="161.5" rx="1.25" ry="1.05" fill="#bdbdbd"/>
<ellipse cx="559.6" cy="175.5" rx="1.25" ry="1.05" fill="#bdbdbd"/>
<ellipse cx="554.1" cy="170.0" rx="1.25" ry="1.05" fill="#bdbdbd"/>
<ellipse cx="543.9" cy="92.5" rx="1.25" ry="1.05" fill="#bdbdbd"/>
<ellipse cx="543.9" cy="164.4" rx="1.25" ry="1.05" fill="#bdbdbd"/>
<ellipse cx="548.2" cy="171.8" rx="1.25" ry="1.05" fill="#bdbdbd"/>
<ellipse cx="549.9" cy="147.6" rx="1.25" ry="1.05" fill="#bdbdbd"/>
<ellipse cx="560.0" cy="177.4" rx="1.25" ry="1.05" fill="#bdbdbd"/>
<ellipse cx="555.1" cy="173.1" rx="1.25" ry="1.05" fill="#bdbdbd"/>
<ellipse cx="560.4" cy="176.2" rx="1.25" ry="1.05" fill="#bdbdbd"/>
<ellipse cx="559.4" cy="175.5" rx="1.25" ry="1.05" fill="#bdbdbd"/>
<ellipse cx="548.7" cy="175.0" rx="1.25" ry="1.05" fill="#bdbdbd"/>
<ellipse cx="543.9" cy="131.3" rx="1.25" ry="1.05" fill="#bdbdbd"/>
<ellipse cx="547.4" cy="105.5" rx="1.25" ry="1.05" fill="#bdbdbd"/>
<ellipse cx="556.1" cy="172.5" rx="1.25" ry="1.05" fill="#bdbdbd"/>
<ellipse cx="556.3" cy="169.4" rx="1.25" ry="1.05" fill="#bdbdbd"/>
<ellipse cx="560.9" cy="173.8" rx="1.25" ry="1.05" fill="#bdbdbd"/>
<ellipse cx="544.4" cy="155.3" rx="1.25" ry="1.05" fill="#bdbdbd"/>
<ellipse cx="544.2" cy="173.3" rx="1.25" ry="1.05" fill="#bdbdbd"/>
<ellipse cx="559.8" cy="148.1" rx="1.25" ry="1.05" fill="#bdbdbd"/>
<ellipse cx="548.4" cy="153.9" rx="1.25" ry="1.05" fill="#bdbdbd"/>
<ellipse cx="557.6" cy="176.6" rx="1.25" ry="1.05" fill="#bdbdbd"/>
<ellipse cx="548.2" cy="137.9" rx="1.25" ry="1.05" fill="#bdbdbd"/>
<ellipse cx="549.3" cy="128.3" rx="1.25" ry="1.05" fill="#bdbdbd"/>
<ellipse cx="558.9" cy="152.4" rx="1.25" ry="1.05" fill="#bdbdbd"/>
<ellipse cx="557.6" cy="130.0" rx="1.25" ry="1.05" fill="#bdbdbd"/>
<ellipse cx="560.1" cy="142.6" rx="1.25" ry="1.05" fill="#bdbdbd"/>
<ellipse cx="555.2" cy="169.9" rx="1.25" ry="1.05" fill="#bdbdbd"/>
<ellipse cx="551.9" cy="170.4" rx="1.25" ry="1.05" fill="#bdbdbd"/>
<ellipse cx="553.5" cy="173.8" rx="1.25" ry="1.05" fill="#bdbdbd"/>
<ellipse cx="548.0" cy="146.9" rx="1.25" ry="1.05" fill="#bdbdbd"/>
<ellipse cx="546.7" cy="171.0" rx="1.25" ry="1.05" fill="#bdbdbd"/>
<ellipse cx="544.4" cy="164.5" rx="1.25" ry="1.05" fill="#bdbdbd"/>
<ellipse cx="544.6" cy="171.0" rx="1.25" ry="1.05" fill="#bdbdbd"/>
<ellipse cx="547.2" cy="177.4" rx="1.25" ry="1.05" fill="#bdbdbd"/>
<ellipse cx="557.4" cy="162.2" rx="1.25" ry="1.05" fill="#bdbdbd"/>
<ellipse cx="558.5" cy="128.0" rx="1.25" ry="1.05" fill="#bdbdbd"/>
<ellipse cx="543.9" cy="169.0" rx="1.25" ry="1.05" fill="#bdbdbd"/>
<ellipse cx="560.9" cy="176.9" rx="1.25" ry="1.05" fill="#bdbdbd"/>
<ellipse cx="548.1" cy="158.2" rx="1.25" ry="1.05" fill="#bdbdbd"/>
<ellipse cx="551.2" cy="166.4" rx="1.25" ry="1.05" fill="#bdbdbd"/>
<ellipse cx="544.4" cy="138.0" rx="1.25" ry="1.05" fill="#bdbdbd"/>
<ellipse cx="544.6" cy="174.1" rx="1.25" ry="1.05" fill="#bdbdbd"/>
<ellipse cx="548.8" cy="166.2" rx="1.25" ry="1.05" fill="#bdbdbd"/>
<ellipse cx="556.7" cy="114.9" rx="1.25" ry="1.05" fill="#bdbdbd"/>
<ellipse cx="549.7" cy="147.8" rx="1.25" ry="1.05" fill="#bdbdbd"/>
<ellipse cx="550.2" cy="153.0" rx="1.25" ry="1.05" fill="#bdbdbd"/>
<ellipse cx="560.0" cy="159.9" rx="1.25" ry="1.05" fill="#bdbdbd"/>
<ellipse cx="546.4" cy="120.9" rx="1.25" ry="1.05" fill="#bdbdbd"/>
<ellipse cx="561.0" cy="169.1" rx="1.25" ry="1.05" fill="#bdbdbd"/>
<ellipse cx="548.0" cy="179.6" rx="1.25" ry="1.05" fill="#bdbdbd"/>
<ellipse cx="543.8" cy="123.5" rx="1.25" ry="1.05" fill="#bdbdbd"/>
<ellipse cx="550.5" cy="160.0" rx="1.25" ry="1.05" fill="#bdbdbd"/>
<ellipse cx="557.5" cy="140.2" rx="1.25" ry="1.05" fill="#bdbdbd"/>
<ellipse cx="548.6" cy="172.2" rx="1.25" ry="1.05" fill="#bdbdbd"/>
<ellipse cx="554.1" cy="164.6" rx="1.25" ry="1.05" fill="#bdbdbd"/>
<ellipse cx="546.0" cy="169.9" rx="1.25" ry="1.05" fill="#bdbdbd"/>
<ellipse cx="550.1" cy="173.5" rx="1.25" ry="1.05" fill="#bdbdbd"/>
<ellipse cx="547.1" cy="175.4" rx="1.25" ry="1.05" fill="#bdbdbd"/>
<ellipse cx="547.2" cy="174.6" rx="1.25" ry="1.05" fill="#bdbdbd"/>
<ellipse cx="559.5" cy="146.2" rx="1.25" ry="1.05" fill="#bdbdbd"/>
<ellipse cx="558.6" cy="135.4" rx="1.25" ry="1.05" fill="#bdbdbd"/>
<ellipse cx="545.4" cy="178.4" rx="1.25" ry="1.05" fill="#bdbdbd"/>
<ellipse cx="548.3" cy="176.4" rx="1.25" ry="1.05" fill="#bdbdbd"/>
<ellipse cx="559.7" cy="170.1" rx="1.25" ry="1.05" fill="#bdbdbd"/>
<ellipse cx="554.3" cy="174.7" rx="1.25" ry="1.05" fill="#bdbdbd"/>
<ellipse cx="556.1" cy="156.5" rx="1.25" ry="1.05" fill="#bdbdbd"/>
<ellipse cx="553.6" cy="174.1" rx="1.25" ry="1.05" fill="#bdbdbd"/>
<ellipse cx="557.4" cy="170.8" rx="1.25" ry="1.05" fill="#bdbdbd"/>
<ellipse cx="548.2" cy="164.1" rx="1.25" ry="1.05" fill="#bdbdbd"/>
<ellipse cx="561.2" cy="163.8" rx="1.25" ry="1.05" fill="#bdbdbd"/>
<ellipse cx="558.1" cy="174.7" rx="1.25" ry="1.05" fill="#bdbdbd"/>
<ellipse cx="551.7" cy="175.6" rx="1.25" ry="1.05" fill="#bdbdbd"/>
<ellipse cx="560.5" cy="96.3" rx="1.25" ry="1.05" fill="#bdbdbd"/>
<ellipse cx="559.0" cy="169.5" rx="1.25" ry="1.05" fill="#bdbdbd"/>
<ellipse cx="544.7" cy="176.1" rx="1.25" ry="1.05" fill="#bdbdbd"/>
<ellipse cx="544.9" cy="180.0" rx="1.25" ry="1.05" fill="#bdbdbd"/>
<ellipse cx="546.7" cy="169.4" rx="1.25" ry="1.05" fill="#bdbdbd"/>
<ellipse cx="556.8" cy="167.5" rx="1.25" ry="1.05" fill="#bdbdbd"/>
<ellipse cx="546.3" cy="160.3" rx="1.25" ry="1.05" fill="#bdbdbd"/>
<ellipse cx="546.7" cy="106.9" rx="1.25" ry="1.05" fill="#bdbdbd"/>
<ellipse cx="548.7" cy="152.4" rx="1.25" ry="1.05" fill="#bdbdbd"/>
<ellipse cx="556.8" cy="160.6" rx="1.25" ry="1.05" fill="#bdbdbd"/>
<ellipse cx="544.5" cy="177.1" rx="1.25" ry="1.05" fill="#bdbdbd"/>
<ellipse cx="555.5" cy="179.5" rx="1.25" ry="1.05" fill="#bdbdbd"/>
<ellipse cx="548.8" cy="163.3" rx="1.25" ry="1.05" fill="#bdbdbd"/>
<ellipse cx="547.6" cy="169.6" rx="1.25" ry="1.05" fill="#bdbdbd"/>
<ellipse cx="557.5" cy="155.1" rx="1.25" ry="1.05" fill="#bdbdbd"/>
<ellipse cx="546.9" cy="168.1" rx="1.25" ry="1.05" fill="#bdbdbd"/>
<ellipse cx="556.2" cy="172.7" rx="1.25" ry="1.05" fill="#bdbdbd"/>
<ellipse cx="544.3" cy="169.1" rx="1.25" ry="1.05" fill="#bdbdbd"/>
<ellipse cx="549.3" cy="172.2" rx="1.25" ry="1.05" fill="#bdbdbd"/>
<ellipse cx="558.9" cy="175.8" rx="1.25" ry="1.05" fill="#bdbdbd"/>
<ellipse cx="551.8" cy="174.9" rx="1.25" ry="1.05" fill="#bdbdbd"/>
<ellipse cx="554.8" cy="176.2" rx="1.25" ry="1.05" fill="#bdbdbd"/>
<ellipse cx="545.9" cy="172.6" rx="1.25" ry="1.05" fill="#bdbdbd"/>
<ellipse cx="543.9" cy="120.9" rx="1.25" ry="1.05" fill="#bdbdbd"/>
<ellipse cx="561.0" cy="177.8" rx="1.25" ry="1.05" fill="#bdbdbd"/>
<ellipse cx="545.8" cy="174.9" rx="1.25" ry="1.05" fill="#bdbdbd"/>
<ellipse cx="551.3" cy="168.2" rx="1.25" ry="1.05" fill="#bdbdbd"/>
<ellipse cx="558.6" cy="145.7" rx="1.25" ry="1.05" fill="#bdbdbd"/>
<ellipse cx="553.8" cy="178.7" rx="1.25" ry="1.05" fill="#bdbdbd"/>
<ellipse cx="558.8" cy="149.9" rx="1.25" ry="1.05" fill="#bdbdbd"/>
<ellipse cx="550.8" cy="175.8" rx="1.25" ry="1.05" fill="#bdbdbd"/>
<ellipse cx="561.4" cy="152.7" rx="1.25" ry="1.05" fill="#bdbdbd"/>
<ellipse cx="557.4" cy="85.2" rx="1.25" ry="1.05" fill="#bdbdbd"/>
<ellipse cx="543.8" cy="173.6" rx="1.25" ry="1.05" fill="#bdbdbd"/>
<ellipse cx="555.3" cy="150.1" rx="1.25" ry="1.05" fill="#bdbdbd"/>
<ellipse cx="549.3" cy="176.1" rx="1.25" ry="1.05" fill="#bdbdbd"/>
<ellipse cx="547.8" cy="178.6" rx="1.25" ry="1.05" fill="#bdbdbd"/>
<ellipse cx="548.6" cy="179.3" rx="1.25" ry="1.05" fill="#bdbdbd"/>
<ellipse cx="548.0" cy="159.1" rx="1.25" ry="1.05" fill="#bdbdbd"/>
<ellipse cx="556.3" cy="157.6" rx="1.25" ry="1.05" fill="#bdbdbd"/>
<ellipse cx="544.4" cy="109.6" rx="1.25" ry="1.05" fill="#bdbdbd"/>
<ellipse cx="554.3" cy="176.4" rx="1.25" ry="1.05" fill="#bdbdbd"/>
<ellipse cx="551.3" cy="151.3" rx="1.25" ry="1.05" fill="#bdbdbd"/>
<ellipse cx="544.5" cy="142.3" rx="1.25" ry="1.05" fill="#bdbdbd"/>
<ellipse cx="559.5" cy="159.4" rx="1.25" ry="1.05" fill="#bdbdbd"/>
<ellipse cx="543.8" cy="101.1" rx="1.25" ry="1.05" fill="#bdbdbd"/>
<ellipse cx="556.3" cy="170.8" rx="1.25" ry="1.05" fill="#bdbdbd"/>
<ellipse cx="544.9" cy="122.6" rx="1.25" ry="1.05" fill="#bdbdbd"/>
<ellipse cx="548.8" cy="151.5" rx="1.25" ry="1.05" fill="#bdbdbd"/>
<ellipse cx="558.3" cy="172.7" rx="1.25" ry="1.05" fill="#bdbdbd"/>
<ellipse cx="546.5" cy="132.2" rx="1.25" ry="1.05" fill="#bdbdbd"/>
<ellipse cx="544.2" cy="178.0" rx="1.25" ry="1.05" fill="#bdbdbd"/>
<ellipse cx="545.7" cy="176.2" rx="1.25" ry="1.05" fill="#bdbdbd"/>
<ellipse cx="544.7" cy="121.7" rx="1.25" ry="1.05" fill="#bdbdbd"/>
<ellipse cx="555.2" cy="177.5" rx="1.25" ry="1.05" fill="#bdbdbd"/>
<ellipse cx="557.9" cy="129.8" rx="1.25" ry="1.05" fill="#bdbdbd"/>
<ellipse cx="561.1" cy="147.9" rx="1.25" ry="1.05" fill="#bdbdbd"/>
<ellipse cx="555.7" cy="148.7" rx="1.25" ry="1.05" fill="#bdbdbd"/>
<ellipse cx="544.2" cy="168.8" rx="1.25" ry="1.05" fill="#bdbdbd"/>
<ellipse cx="547.2" cy="166.5" rx="1.25" ry="1.05" fill="#bdbdbd"/>
<ellipse cx="557.6" cy="145.2" rx="1.25" ry="1.05" fill="#bdbdbd"/>
<ellipse cx="543.5" cy="106.5" rx="1.25" ry="1.05" fill="#bdbdbd"/>
<ellipse cx="543.6" cy="178.8" rx="1.25" ry="1.05" fill="#bdbdbd"/>
<ellipse cx="555.1" cy="147.0" rx="1.25" ry="1.05" fill="#bdbdbd"/>
<ellipse cx="560.0" cy="173.1" rx="1.25" ry="1.05" fill="#bdbdbd"/>
<ellipse cx="551.2" cy="164.2" rx="1.25" ry="1.05" fill="#bdbdbd"/>
<ellipse cx="560.0" cy="125.2" rx="1.25" ry="1.05" fill="#bdbdbd"/>
<ellipse cx="559.9" cy="149.0" rx="1.25" ry="1.05" fill="#bdbdbd"/>
<ellipse cx="544.3" cy="138.7" rx="1.25" ry="1.05" fill="#bdbdbd"/>
<ellipse cx="550.7" cy="170.1" rx="1.25" ry="1.05" fill="#bdbdbd"/>
<ellipse cx="559.9" cy="164.4" rx="1.25" ry="1.05" fill="#bdbdbd"/>
<ellipse cx="548.5" cy="120.3" rx="1.25" ry="1.05" fill="#bdbdbd"/>
<ellipse cx="544.8" cy="93.1" rx="1.25" ry="1.05" fill="#bdbdbd"/>
<ellipse cx="548.2" cy="132.7" rx="1.25" ry="1.05" fill="#bdbdbd"/>
<ellipse cx="546.4" cy="146.6" rx="1.25" ry="1.05" fill="#bdbdbd"/>
<ellipse cx="560.1" cy="99.8" rx="1.25" ry="1.05" fill="#bdbdbd"/>
<ellipse cx="554.0" cy="175.6" rx="1.25" ry="1.05" fill="#bdbdbd"/>
<ellipse cx="555.6" cy="163.4" rx="1.25" ry="1.05" fill="#bdbdbd"/>
<ellipse cx="545.5" cy="160.3" rx="1.25" ry="1.05" fill="#bdbdbd"/>
<ellipse cx="560.7" cy="175.8" rx="1.25" ry="1.05" fill="#bdbdbd"/>
<ellipse cx="547.1" cy="101.2" rx="1.25" ry="1.05" fill="#bdbdbd"/>
<ellipse cx="558.2" cy="96.5" rx="1.25" ry="1.05" fill="#bdbdbd"/>
<ellipse cx="554.5" cy="179.4" rx="1.25" ry="1.05" fill="#bdbdbd"/>
<ellipse cx="546.8" cy="171.9" rx="1.25" ry="1.05" fill="#bdbdbd"/>
<ellipse cx="547.6" cy="107.4" rx="1.25" ry="1.05" fill="#bdbdbd"/>
<ellipse cx="567.7" cy="187.4" rx="1.25" ry="1.05" fill="#bdbdbd"/>
<ellipse cx="570.4" cy="192.9" rx="1.25" ry="1.05" fill="#bdbdbd"/>
<ellipse cx="565.0" cy="196.5" rx="1.25" ry="1.05" fill="#bdbdbd"/>
<ellipse cx="574.6" cy="198.3" rx="1.25" ry="1.05" fill="#bdbdbd"/>
<ellipse cx="563.6" cy="185.6" rx="1.25" ry="1.05" fill="#bdbdbd"/>
<ellipse cx="569.1" cy="183.8" rx="1.25" ry="1.05" fill="#bdbdbd"/>
<ellipse cx="540.2" cy="194.7" rx="1.25" ry="1.05" fill="#bdbdbd"/>
<ellipse cx="538.9" cy="187.4" rx="1.25" ry="1.05" fill="#bdbdbd"/>
<ellipse cx="562.9" cy="191.1" rx="1.25" ry="1.05" fill="#bdbdbd"/>
<ellipse cx="567.0" cy="200.2" rx="1.25" ry="1.05" fill="#bdbdbd"/>
<ellipse cx="563.6" cy="201.1" rx="1.25" ry="1.05" fill="#bdbdbd"/>
<ellipse cx="542.3" cy="198.3" rx="1.25" ry="1.05" fill="#bdbdbd"/>
<ellipse cx="545.7" cy="74.6" rx="1.25" ry="1.05" fill="#bdbdbd"/>
<ellipse cx="545.0" cy="85.5" rx="1.25" ry="1.05" fill="#bdbdbd"/>
<ellipse cx="559.5" cy="70.9" rx="1.25" ry="1.05" fill="#bdbdbd"/>
<ellipse cx="569.4" cy="90.9" rx="1.25" ry="1.05" fill="#ff1a1a"/>
<ellipse cx="571.3" cy="115.1" rx="1.25" ry="1.05" fill="#ff1a1a"/>
<ellipse cx="567.4" cy="156.3" rx="1.25" ry="1.05" fill="#ff1a1a"/>
<ellipse cx="566.2" cy="76.9" rx="1.25" ry="1.05" fill="#ff1a1a"/>
<ellipse cx="570.2" cy="176.7" rx="1.25" ry="1.05" fill="#ff1a1a"/>
<ellipse cx="563.1" cy="179.8" rx="1.25" ry="1.05" fill="#ff1a1a"/>
<ellipse cx="564.4" cy="134.1" rx="1.25" ry="1.05" fill="#ff1a1a"/>
<ellipse cx="564.2" cy="172.7" rx="1.25" ry="1.05" fill="#ff1a1a"/>
<ellipse cx="575.2" cy="113.3" rx="1.25" ry="1.05" fill="#ff1a1a"/>
<ellipse cx="582.6" cy="82.5" rx="1.25" ry="1.05" fill="#ff1a1a"/>
<ellipse cx="564.5" cy="109.8" rx="1.25" ry="1.05" fill="#ff1a1a"/>
<ellipse cx="564.2" cy="180.1" rx="1.25" ry="1.05" fill="#ff1a1a"/>
<ellipse cx="569.0" cy="76.9" rx="1.25" ry="1.05" fill="#ff1a1a"/>
<ellipse cx="562.7" cy="155.0" rx="1.25" ry="1.05" fill="#ff1a1a"/>
<ellipse cx="562.8" cy="144.3" rx="1.25" ry="1.05" fill="#ff1a1a"/>
<ellipse cx="582.9" cy="85.7" rx="1.25" ry="1.05" fill="#ff1a1a"/>
<ellipse cx="564.2" cy="179.7" rx="1.25" ry="1.05" fill="#ff1a1a"/>
<ellipse cx="565.2" cy="165.5" rx="1.25" ry="1.05" fill="#ff1a1a"/>
<ellipse cx="567.5" cy="174.0" rx="1.25" ry="1.05" fill="#ff1a1a"/>
<ellipse cx="567.5" cy="81.8" rx="1.25" ry="1.05" fill="#ff1a1a"/>
<ellipse cx="577.8" cy="133.2" rx="1.25" ry="1.05" fill="#ff1a1a"/>
<ellipse cx="567.5" cy="153.9" rx="1.25" ry="1.05" fill="#ff1a1a"/>
<ellipse cx="565.7" cy="111.7" rx="1.25" ry="1.05" fill="#ff1a1a"/>
<ellipse cx="565.8" cy="176.5" rx="1.25" ry="1.05" fill="#ff1a1a"/>
<ellipse cx="570.4" cy="173.3" rx="1.25" ry="1.05" fill="#ff1a1a"/>
<ellipse cx="564.6" cy="105.7" rx="1.25" ry="1.05" fill="#ff1a1a"/>
<ellipse cx="565.5" cy="149.8" rx="1.25" ry="1.05" fill="#ff1a1a"/>
<ellipse cx="590.5" cy="116.0" rx="1.25" ry="1.05" fill="#ff1a1a"/>
<ellipse cx="576.8" cy="73.6" rx="1.25" ry="1.05" fill="#ff1a1a"/>
<ellipse cx="566.2" cy="120.7" rx="1.25" ry="1.05" fill="#ff1a1a"/>
<ellipse cx="568.5" cy="108.2" rx="1.25" ry="1.05" fill="#ff1a1a"/>
<ellipse cx="573.4" cy="129.1" rx="1.25" ry="1.05" fill="#ff1a1a"/>
<ellipse cx="569.8" cy="160.7" rx="1.25" ry="1.05" fill="#ff1a1a"/>
<ellipse cx="562.7" cy="170.8" rx="1.25" ry="1.05" fill="#ff1a1a"/>
<ellipse cx="567.0" cy="124.8" rx="1.25" ry="1.05" fill="#ff1a1a"/>
<ellipse cx="570.8" cy="98.8" rx="1.25" ry="1.05" fill="#ff1a1a"/>
<ellipse cx="571.0" cy="126.4" rx="1.25" ry="1.05" fill="#ff1a1a"/>
<ellipse cx="571.3" cy="128.1" rx="1.25" ry="1.05" fill="#ff1a1a"/>
<ellipse cx="563.1" cy="179.6" rx="1.25" ry="1.05" fill="#ff1a1a"/>
<ellipse cx="563.4" cy="177.1" rx="1.25" ry="1.05" fill="#ff1a1a"/>
<ellipse cx="567.4" cy="104.3" rx="1.25" ry="1.05" fill="#ff1a1a"/>
<ellipse cx="563.4" cy="161.9" rx="1.25" ry="1.05" fill="#ff1a1a"/>
<ellipse cx="563.7" cy="174.7" rx="1.25" ry="1.05" fill="#ff1a1a"/>
<ellipse cx="567.4" cy="137.5" rx="1.25" ry="1.05" fill="#ff1a1a"/>
<ellipse cx="569.9" cy="103.3" rx="1.25" ry="1.05" fill="#ff1a1a"/>
<ellipse cx="565.8" cy="163.7" rx="1.25" ry="1.05" fill="#ff1a1a"/>
<ellipse cx="573.6" cy="140.3" rx="1.25" ry="1.05" fill="#ff1a1a"/>
<ellipse cx="571.4" cy="134.6" rx="1.25" ry="1.05" fill="#ff1a1a"/>
<ellipse cx="564.2" cy="167.5" rx="1.25" ry="1.05" fill="#ff1a1a"/>
<ellipse cx="563.9" cy="176.3" rx="1.25" ry="1.05" fill="#ff1a1a"/>
<ellipse cx="562.9" cy="174.9" rx="1.25" ry="1.05" fill="#ff1a1a"/>
<ellipse cx="570.1" cy="117.6" rx="1.25" ry="1.05" fill="#ff1a1a"/>
<ellipse cx="565.7" cy="133.6" rx="1.25" ry="1.05" fill="#ff1a1a"/>
<ellipse cx="565.1" cy="81.2" rx="1.25" ry="1.05" fill="#ff1a1a"/>
<ellipse cx="565.1" cy="155.8" rx="1.25" ry="1.05" fill="#ff1a1a"/>
<ellipse cx="569.2" cy="153.9" rx="1.25" ry="1.05" fill="#ff1a1a"/>
<ellipse cx="567.9" cy="142.9" rx="1.25" ry="1.05" fill="#ff1a1a"/>
<ellipse cx="563.5" cy="168.8" rx="1.25" ry="1.05" fill="#ff1a1a"/>
<ellipse cx="566.0" cy="92.8" rx="1.25" ry="1.05" fill="#ff1a1a"/>
<ellipse cx="570.2" cy="117.7" rx="1.25" ry="1.05" fill="#ff1a1a"/>
<ellipse cx="565.1" cy="177.1" rx="1.25" ry="1.05" fill="#ff1a1a"/>
<ellipse cx="564.6" cy="134.2" rx="1.25" ry="1.05" fill="#ff1a1a"/>
<ellipse cx="567.8" cy="106.1" rx="1.25" ry="1.05" fill="#ff1a1a"/>
<ellipse cx="569.5" cy="109.3" rx="1.25" ry="1.05" fill="#ff1a1a"/>
<ellipse cx="563.9" cy="115.1" rx="1.25" ry="1.05" fill="#ff1a1a"/>
<ellipse cx="564.0" cy="142.4" rx="1.25" ry="1.05" fill="#ff1a1a"/>
<ellipse cx="569.0" cy="85.7" rx="1.25" ry="1.05" fill="#ff1a1a"/>
<ellipse cx="561.6" cy="180.0" rx="1.25" ry="1.05" fill="#ff1a1a"/>
<ellipse cx="565.9" cy="165.9" rx="1.25" ry="1.05" fill="#ff1a1a"/>
<ellipse cx="565.6" cy="175.0" rx="1.25" ry="1.05" fill="#ff1a1a"/>
<ellipse cx="578.4" cy="152.8" rx="1.25" ry="1.05" fill="#ff1a1a"/>
<ellipse cx="563.5" cy="159.6" rx="1.25" ry="1.05" fill="#ff1a1a"/>
<ellipse cx="566.2" cy="145.9" rx="1.25" ry="1.05" fill="#ff1a1a"/>
<ellipse cx="568.5" cy="112.8" rx="1.25" ry="1.05" fill="#ff1a1a"/>
<ellipse cx="562.1" cy="176.2" rx="1.25" ry="1.05" fill="#ff1a1a"/>
<ellipse cx="579.9" cy="130.1" rx="1.25" ry="1.05" fill="#ff1a1a"/>
<ellipse cx="561.8" cy="174.1" rx="1.25" ry="1.05" fill="#ff1a1a"/>
<ellipse cx="567.5" cy="134.7" rx="1.25" ry="1.05" fill="#ff1a1a"/>
<ellipse cx="564.0" cy="115.1" rx="1.25" ry="1.05" fill="#ff1a1a"/>
<ellipse cx="564.9" cy="135.5" rx="1.25" ry="1.05" fill="#ff1a1a"/>
<ellipse cx="574.1" cy="81.6" rx="1.25" ry="1.05" fill="#ff1a1a"/>
<ellipse cx="570.0" cy="97.0" rx="1.25" ry="1.05" fill="#ff1a1a"/>
<ellipse cx="563.4" cy="136.8" rx="1.25" ry="1.05" fill="#ff1a1a"/>
<ellipse cx="563.7" cy="172.0" rx="1.25" ry="1.05" fill="#ff1a1a"/>
<ellipse cx="574.4" cy="126.0" rx="1.25" ry="1.05" fill="#ff1a1a"/>
<ellipse cx="584.0" cy="75.9" rx="1.25" ry="1.05" fill="#ff1a1a"/>
<ellipse cx="568.8" cy="98.8" rx="1.25" ry="1.05" fill="#ff1a1a"/>
<ellipse cx="561.9" cy="173.1" rx="1.25" ry="1.05" fill="#ff1a1a"/>
<ellipse cx="565.6" cy="125.4" rx="1.25" ry="1.05" fill="#ff1a1a"/>
<ellipse cx="572.3" cy="108.6" rx="1.25" ry="1.05" fill="#ff1a1a"/>
<ellipse cx="569.6" cy="149.5" rx="1.25" ry="1.05" fill="#ff1a1a"/>
<ellipse cx="568.1" cy="109.9" rx="1.25" ry="1.05" fill="#ff1a1a"/>
<ellipse cx="580.2" cy="141.9" rx="1.25" ry="1.05" fill="#ff1a1a"/>
<ellipse cx="565.2" cy="180.0" rx="1.25" ry="1.05" fill="#ff1a1a"/>
<ellipse cx="574.2" cy="90.6" rx="1.25" ry="1.05" fill="#ff1a1a"/>
<ellipse cx="573.1" cy="119.1" rx="1.25" ry="1.05" fill="#ff1a1a"/>
<ellipse cx="579.6" cy="109.3" rx="1.25" ry="1.05" fill="#ff1a1a"/>
<ellipse cx="565.4" cy="172.9" rx="1.25" ry="1.05" fill="#ff1a1a"/>
<ellipse cx="564.2" cy="180.0" rx="1.25" ry="1.05" fill="#ff1a1a"/>
<ellipse cx="565.2" cy="178.1" rx="1.25" ry="1.05" fill="#ff1a1a"/>
<ellipse cx="585.7" cy="73.2" rx="1.25" ry="1.05" fill="#ff1a1a"/>
<ellipse cx="570.0" cy="154.5" rx="1.25" ry="1.05" fill="#ff1a1a"/>
<ellipse cx="575.1" cy="90.5" rx="1.25" ry="1.05" fill="#ff1a1a"/>
<ellipse cx="574.5" cy="124.8" rx="1.25" ry="1.05" fill="#ff1a1a"/>
<ellipse cx="568.2" cy="79.7" rx="1.25" ry="1.05" fill="#ff1a1a"/>
<ellipse cx="566.2" cy="127.4" rx="1.25" ry="1.05" fill="#ff1a1a"/>
<ellipse cx="570.7" cy="136.9" rx="1.25" ry="1.05" fill="#ff1a1a"/>
<ellipse cx="566.8" cy="152.5" rx="1.25" ry="1.05" fill="#ff1a1a"/>
<ellipse cx="570.0" cy="124.8" rx="1.25" ry="1.05" fill="#ff1a1a"/>
<ellipse cx="562.6" cy="163.7" rx="1.25" ry="1.05" fill="#ff1a1a"/>
<ellipse cx="571.2" cy="134.6" rx="1.25" ry="1.05" fill="#ff1a1a"/>
<ellipse cx="564.5" cy="144.0" rx="1.25" ry="1.05" fill="#ff1a1a"/>
<ellipse cx="567.0" cy="131.4" rx="1.25" ry="1.05" fill="#ff1a1a"/>
<ellipse cx="562.9" cy="158.7" rx="1.25" ry="1.05" fill="#ff1a1a"/>
<ellipse cx="579.8" cy="101.3" rx="1.25" ry="1.05" fill="#ff1a1a"/>
<ellipse cx="563.0" cy="133.0" rx="1.25" ry="1.05" fill="#ff1a1a"/>
<ellipse cx="579.3" cy="133.8" rx="1.25" ry="1.05" fill="#ff1a1a"/>
<ellipse cx="563.8" cy="148.6" rx="1.25" ry="1.05" fill="#ff1a1a"/>
<ellipse cx="572.9" cy="110.3" rx="1.25" ry="1.05" fill="#ff1a1a"/>
<ellipse cx="581.3" cy="96.5" rx="1.25" ry="1.05" fill="#ff1a1a"/>
<ellipse cx="562.5" cy="164.6" rx="1.25" ry="1.05" fill="#ff1a1a"/>
<ellipse cx="566.2" cy="140.3" rx="1.25" ry="1.05" fill="#ff1a1a"/>
<ellipse cx="566.1" cy="150.3" rx="1.25" ry="1.05" fill="#ff1a1a"/>
<ellipse cx="564.7" cy="104.6" rx="1.25" ry="1.05" fill="#ff1a1a"/>
<ellipse cx="564.9" cy="162.7" rx="1.25" ry="1.05" fill="#ff1a1a"/>
<ellipse cx="572.7" cy="100.9" rx="1.25" ry="1.05" fill="#ff1a1a"/>
<ellipse cx="574.0" cy="119.2" rx="1.25" ry="1.05" fill="#ff1a1a"/>
<ellipse cx="564.1" cy="112.2" rx="1.25" ry="1.05" fill="#ff1a1a"/>
<ellipse cx="564.3" cy="150.1" rx="1.25" ry="1.05" fill="#ff1a1a"/>
<ellipse cx="564.9" cy="178.7" rx="1.25" ry="1.05" fill="#ff1a1a"/>
<ellipse cx="566.1" cy="115.0" rx="1.25" ry="1.05" fill="#ff1a1a"/>
<ellipse cx="568.0" cy="77.2" rx="1.25" ry="1.05" fill="#ff1a1a"/>
<ellipse cx="565.9" cy="152.6" rx="1.25" ry="1.05" fill="#ff1a1a"/>
<ellipse cx="563.0" cy="173.4" rx="1.25" ry="1.05" fill="#ff1a1a"/>
<ellipse cx="573.7" cy="136.4" rx="1.25" ry="1.05" fill="#ff1a1a"/>
<ellipse cx="563.1" cy="149.2" rx="1.25" ry="1.05" fill="#ff1a1a"/>
<ellipse cx="574.5" cy="109.9" rx="1.25" ry="1.05" fill="#ff1a1a"/>
<ellipse cx="578.1" cy="86.6" rx="1.25" ry="1.05" fill="#ff1a1a"/>
<ellipse cx="573.2" cy="141.7" rx="1.25" ry="1.05" fill="#ff1a1a"/>
<ellipse cx="569.2" cy="143.7" rx="1.25" ry="1.05" fill="#ff1a1a"/>
<ellipse cx="572.0" cy="167.3" rx="1.25" ry="1.05" fill="#ff1a1a"/>
<ellipse cx="563.3" cy="169.5" rx="1.25" ry="1.05" fill="#ff1a1a"/>
<ellipse cx="588.8" cy="92.1" rx="1.25" ry="1.05" fill="#ff1a1a"/>
<ellipse cx="569.0" cy="153.1" rx="1.25" ry="1.05" fill="#ff1a1a"/>
<ellipse cx="573.3" cy="143.1" rx="1.25" ry="1.05" fill="#ff1a1a"/>
<ellipse cx="562.2" cy="166.5" rx="1.25" ry="1.05" fill="#ff1a1a"/>
<ellipse cx="564.9" cy="172.6" rx="1.25" ry="1.05" fill="#ff1a1a"/>
<ellipse cx="575.5" cy="85.6" rx="1.25" ry="1.05" fill="#ff1a1a"/>
<ellipse cx="566.3" cy="124.0" rx="1.25" ry="1.05" fill="#ff1a1a"/>
<ellipse cx="566.6" cy="160.7" rx="1.25" ry="1.05" fill="#ff1a1a"/>
<ellipse cx="563.1" cy="148.2" rx="1.25" ry="1.05" fill="#ff1a1a"/>
<ellipse cx="564.7" cy="179.8" rx="1.25" ry="1.05" fill="#ff1a1a"/>
<ellipse cx="568.8" cy="153.0" rx="1.25" ry="1.05" fill="#ff1a1a"/>
<ellipse cx="567.7" cy="113.9" rx="1.25" ry="1.05" fill="#ff1a1a"/>
<ellipse cx="562.6" cy="179.3" rx="1.25" ry="1.05" fill="#ff1a1a"/>
<ellipse cx="569.3" cy="114.5" rx="1.25" ry="1.05" fill="#ff1a1a"/>
<ellipse cx="564.0" cy="165.8" rx="1.25" ry="1.05" fill="#ff1a1a"/>
<ellipse cx="571.2" cy="91.8" rx="1.25" ry="1.05" fill="#ff1a1a"/>
<ellipse cx="566.3" cy="125.1" rx="1.25" ry="1.05" fill="#ff1a1a"/>
<ellipse cx="564.1" cy="126.4" rx="1.25" ry="1.05" fill="#ff1a1a"/>
<ellipse cx="563.4" cy="153.8" rx="1.25" ry="1.05" fill="#ff1a1a"/>
<ellipse cx="571.7" cy="118.1" rx="1.25" ry="1.05" fill="#ff1a1a"/>
<ellipse cx="564.1" cy="172.4" rx="1.25" ry="1.05" fill="#ff1a1a"/>
<ellipse cx="563.4" cy="164.6" rx="1.25" ry="1.05" fill="#ff1a1a"/>
<ellipse cx="567.8" cy="149.9" rx="1.25" ry="1.05" fill="#ff1a1a"/>
<ellipse cx="590.0" cy="85.7" rx="1.25" ry="1.05" fill="#ff1a1a"/>
<ellipse cx="570.9" cy="162.1" rx="1.25" ry="1.05" fill="#ff1a1a"/>
<ellipse cx="565.0" cy="91.7" rx="1.25" ry="1.05" fill="#ff1a1a"/>
<ellipse cx="570.1" cy="148.4" rx="1.25" ry="1.05" fill="#ff1a1a"/>
<ellipse cx="562.8" cy="178.3" rx="1.25" ry="1.05" fill="#ff1a1a"/>
<ellipse cx="570.5" cy="159.3" rx="1.25" ry="1.05" fill="#ff1a1a"/>
<ellipse cx="593.6" cy="101.9" rx="1.25" ry="1.05" fill="#ff1a1a"/>
<ellipse cx="562.5" cy="177.3" rx="1.25" ry="1.05" fill="#ff1a1a"/>
<ellipse cx="563.5" cy="148.1" rx="1.25" ry="1.05" fill="#ff1a1a"/>
<ellipse cx="578.1" cy="101.7" rx="1.25" ry="1.05" fill="#ff1a1a"/>
<ellipse cx="574.6" cy="93.5" rx="1.25" ry="1.05" fill="#ff1a1a"/>
<ellipse cx="567.2" cy="98.9" rx="1.25" ry="1.05" fill="#ff1a1a"/>
<ellipse cx="561.7" cy="173.8" rx="1.25" ry="1.05" fill="#ff1a1a"/>
<ellipse cx="573.4" cy="141.6" rx="1.25" ry="1.05" fill="#ff1a1a"/>
<ellipse cx="577.0" cy="73.7" rx="1.25" ry="1.05" fill="#ff1a1a"/>
<ellipse cx="564.4" cy="164.6" rx="1.25" ry="1.05" fill="#ff1a1a"/>
<ellipse cx="562.2" cy="180.1" rx="1.25" ry="1.05" fill="#ff1a1a"/>
<ellipse cx="563.7" cy="149.3" rx="1.25" ry="1.05" fill="#ff1a1a"/>
<ellipse cx="567.8" cy="142.5" rx="1.25" ry="1.05" fill="#ff1a1a"/>
<ellipse cx="564.1" cy="111.1" rx="1.25" ry="1.05" fill="#ff1a1a"/>
<ellipse cx="567.3" cy="133.2" rx="1.25" ry="1.05" fill="#ff1a1a"/>
<ellipse cx="563.4" cy="133.8" rx="1.25" ry="1.05" fill="#ff1a1a"/>
<ellipse cx="572.5" cy="135.7" rx="1.25" ry="1.05" fill="#ff1a1a"/>
<ellipse cx="568.0" cy="164.9" rx="1.25" ry="1.05" fill="#ff1a1a"/>
<ellipse cx="570.9" cy="88.9" rx="1.25" ry="1.05" fill="#ff1a1a"/>
<ellipse cx="569.2" cy="121.7" rx="1.25" ry="1.05" fill="#ff1a1a"/>
<ellipse cx="563.8" cy="127.7" rx="1.25" ry="1.05" fill="#ff1a1a"/>
<ellipse cx="569.9" cy="78.7" rx="1.25" ry="1.05" fill="#ff1a1a"/>
<ellipse cx="568.7" cy="149.2" rx="1.25" ry="1.05" fill="#ff1a1a"/>
<ellipse cx="570.1" cy="131.4" rx="1.25" ry="1.05" fill="#ff1a1a"/>
<ellipse cx="567.1" cy="153.5" rx="1.25" ry="1.05" fill="#ff1a1a"/>
<ellipse cx="571.6" cy="152.4" rx="1.25" ry="1.05" fill="#ff1a1a"/>
<ellipse cx="568.2" cy="144.1" rx="1.25" ry="1.05" fill="#ff1a1a"/>
<ellipse cx="564.0" cy="145.8" rx="1.25" ry="1.05" fill="#ff1a1a"/>
<ellipse cx="564.6" cy="169.1" rx="1.25" ry="1.05" fill="#ff1a1a"/>
<ellipse cx="570.9" cy="141.0" rx="1.25" ry="1.05" fill="#ff1a1a"/>
<ellipse cx="563.6" cy="145.4" rx="1.25" ry="1.05" fill="#ff1a1a"/>
<ellipse cx="574.4" cy="139.8" rx="1.25" ry="1.05" fill="#ff1a1a"/>
<ellipse cx="576.7" cy="94.8" rx="1.25" ry="1.05" fill="#ff1a1a"/>
<ellipse cx="564.8" cy="178.9" rx="1.25" ry="1.05" fill="#ff1a1a"/>
<ellipse cx="568.3" cy="164.0" rx="1.25" ry="1.05" fill="#ff1a1a"/>
<ellipse cx="566.9" cy="114.4" rx="1.25" ry="1.05" fill="#ff1a1a"/>
<ellipse cx="567.4" cy="135.3" rx="1.25" ry="1.05" fill="#ff1a1a"/>
<ellipse cx="562.0" cy="168.2" rx="1.25" ry="1.05" fill="#ff1a1a"/>
<ellipse cx="565.8" cy="118.0" rx="1.25" ry="1.05" fill="#ff1a1a"/>
<ellipse cx="569.7" cy="118.1" rx="1.25" ry="1.05" fill="#ff1a1a"/>
<ellipse cx="563.2" cy="171.3" rx="1.25" ry="1.05" fill="#ff1a1a"/>
<ellipse cx="565.7" cy="133.9" rx="1.25" ry="1.05" fill="#ff1a1a"/>
<ellipse cx="564.8" cy="154.9" rx="1.25" ry="1.05" fill="#ff1a1a"/>
<ellipse cx="563.9" cy="136.9" rx="1.25" ry="1.05" fill="#ff1a1a"/>
<ellipse cx="568.1" cy="121.5" rx="1.25" ry="1.05" fill="#ff1a1a"/>
<ellipse cx="569.4" cy="114.0" rx="1.25" ry="1.05" fill="#ff1a1a"/>
<ellipse cx="572.8" cy="129.7" rx="1.25" ry="1.05" fill="#ff1a1a"/>
<ellipse cx="572.3" cy="126.8" rx="1.25" ry="1.05" fill="#ff1a1a"/>
<ellipse cx="569.7" cy="163.8" rx="1.25" ry="1.05" fill="#ff1a1a"/>
<ellipse cx="568.3" cy="127.3" rx="1.25" ry="1.05" fill="#ff1a1a"/>
<ellipse cx="571.0" cy="104.8" rx="1.25" ry="1.05" fill="#ff1a1a"/>
<ellipse cx="575.2" cy="76.8" rx="1.25" ry="1.05" fill="#ff1a1a"/>
<ellipse cx="567.2" cy="96.1" rx="1.25" ry="1.05" fill="#ff1a1a"/>
<ellipse cx="566.5" cy="122.0" rx="1.25" ry="1.05" fill="#ff1a1a"/>
<ellipse cx="568.9" cy="178.6" rx="1.25" ry="1.05" fill="#ff1a1a"/>
<ellipse cx="574.2" cy="107.9" rx="1.25" ry="1.05" fill="#ff1a1a"/>
<ellipse cx="563.6" cy="159.5" rx="1.25" ry="1.05" fill="#ff1a1a"/>
<ellipse cx="569.8" cy="95.3" rx="1.25" ry="1.05" fill="#ff1a1a"/>
<ellipse cx="578.2" cy="132.6" rx="1.25" ry="1.05" fill="#ff1a1a"/>
<ellipse cx="563.9" cy="141.7" rx="1.25" ry="1.05" fill="#ff1a1a"/>
<ellipse cx="569.3" cy="95.0" rx="1.25" ry="1.05" fill="#ff1a1a"/>
<ellipse cx="577.2" cy="90.9" rx="1.25" ry="1.05" fill="#ff1a1a"/>
<ellipse cx="564.8" cy="165.5" rx="1.25" ry="1.05" fill="#ff1a1a"/>
<ellipse cx="562.8" cy="179.0" rx="1.25" ry="1.05" fill="#ff1a1a"/>
<ellipse cx="564.1" cy="152.6" rx="1.25" ry="1.05" fill="#ff1a1a"/>
<ellipse cx="564.7" cy="120.6" rx="1.25" ry="1.05" fill="#ff1a1a"/>
<ellipse cx="563.1" cy="172.5" rx="1.25" ry="1.05" fill="#ff1a1a"/>
<ellipse cx="565.4" cy="158.4" rx="1.25" ry="1.05" fill="#ff1a1a"/>
<ellipse cx="584.5" cy="83.4" rx="1.25" ry="1.05" fill="#ff1a1a"/>
<ellipse cx="579.4" cy="74.1" rx="1.25" ry="1.05" fill="#ff1a1a"/>
<ellipse cx="564.1" cy="141.6" rx="1.25" ry="1.05" fill="#ff1a1a"/>
<ellipse cx="574.0" cy="82.5" rx="1.25" ry="1.05" fill="#ff1a1a"/>
<ellipse cx="565.1" cy="97.5" rx="1.25" ry="1.05" fill="#ff1a1a"/>
<ellipse cx="563.8" cy="174.7" rx="1.25" ry="1.05" fill="#ff1a1a"/>
<ellipse cx="580.2" cy="82.7" rx="1.25" ry="1.05" fill="#ff1a1a"/>
<ellipse cx="569.4" cy="91.0" rx="1.25" ry="1.05" fill="#ff1a1a"/>
<ellipse cx="562.8" cy="170.7" rx="1.25" ry="1.05" fill="#ff1a1a"/>
<ellipse cx="574.9" cy="100.7" rx="1.25" ry="1.05" fill="#ff1a1a"/>
<ellipse cx="568.1" cy="139.9" rx="1.25" ry="1.05" fill="#ff1a1a"/>
<ellipse cx="573.8" cy="158.2" rx="1.25" ry="1.05" fill="#ff1a1a"/>
<ellipse cx="567.5" cy="105.8" rx="1.25" ry="1.05" fill="#ff1a1a"/>
<ellipse cx="569.7" cy="112.0" rx="1.25" ry="1.05" fill="#ff1a1a"/>
<ellipse cx="563.1" cy="146.4" rx="1.25" ry="1.05" fill="#ff1a1a"/>
<ellipse cx="573.3" cy="78.9" rx="1.25" ry="1.05" fill="#ff1a1a"/>
<ellipse cx="569.1" cy="149.3" rx="1.25" ry="1.05" fill="#ff1a1a"/>
<ellipse cx="561.4" cy="179.0" rx="1.25" ry="1.05" fill="#ff1a1a"/>
<ellipse cx="564.6" cy="104.7" rx="1.25" ry="1.05" fill="#ff1a1a"/>
<ellipse cx="573.9" cy="150.5" rx="1.25" ry="1.05" fill="#ff1a1a"/>
<ellipse cx="565.8" cy="164.9" rx="1.25" ry="1.05" fill="#ff1a1a"/>
<ellipse cx="575.2" cy="116.5" rx="1.25" ry="1.05" fill="#ff1a1a"/>
<ellipse cx="566.0" cy="145.3" rx="1.25" ry="1.05" fill="#ff1a1a"/>
<ellipse cx="565.8" cy="83.6" rx="1.25" ry="1.05" fill="#ff1a1a"/>
<ellipse cx="574.7" cy="138.1" rx="1.25" ry="1.05" fill="#ff1a1a"/>
<ellipse cx="562.0" cy="166.0" rx="1.25" ry="1.05" fill="#ff1a1a"/>
<ellipse cx="574.3" cy="108.6" rx="1.25" ry="1.05" fill="#ff1a1a"/>
<ellipse cx="566.5" cy="174.5" rx="1.25" ry="1.05" fill="#ff1a1a"/>
<ellipse cx="565.7" cy="158.7" rx="1.25" ry="1.05" fill="#ff1a1a"/>
<ellipse cx="578.7" cy="58.2" rx="1.25" ry="1.05" fill="#ff1a1a"/>
<ellipse cx="562.2" cy="67.3" rx="1.25" ry="1.05" fill="#ff1a1a"/>
<ellipse cx="561.5" cy="76.4" rx="1.25" ry="1.05" fill="#ff1a1a"/>
<ellipse cx="591.0" cy="89.1" rx="1.25" ry="1.05" fill="#ff1a1a"/>
<ellipse cx="596.5" cy="92.8" rx="1.25" ry="1.05" fill="#ff1a1a"/>
<ellipse cx="593.8" cy="101.9" rx="1.25" ry="1.05" fill="#ff1a1a"/>
<ellipse cx="586.9" cy="109.2" rx="1.25" ry="1.05" fill="#ff1a1a"/>
<ellipse cx="602.0" cy="138.3" rx="1.25" ry="1.05" fill="#ff1a1a"/>
<ellipse cx="621.2" cy="131.0" rx="1.25" ry="1.05" fill="#ff1a1a"/>
<ellipse cx="592.4" cy="123.7" rx="1.25" ry="1.05" fill="#ff1a1a"/>
<ellipse cx="582.8" cy="149.2" rx="1.25" ry="1.05" fill="#ff1a1a"/>
<ellipse cx="603.4" cy="158.3" rx="1.25" ry="1.05" fill="#ff1a1a"/>
<ellipse cx="588.3" cy="154.7" rx="1.25" ry="1.05" fill="#ff1a1a"/>
<ellipse cx="577.3" cy="143.7" rx="1.25" ry="1.05" fill="#ff1a1a"/>
<ellipse cx="541.2" cy="170.2" rx="1.25" ry="1.05" fill="#1a1aff"/>
<ellipse cx="543.3" cy="162.1" rx="1.25" ry="1.05" fill="#1a1aff"/>
<ellipse cx="540.9" cy="180.1" rx="1.25" ry="1.05" fill="#1a1aff"/>
<ellipse cx="543.9" cy="146.6" rx="1.25" ry="1.05" fill="#1a1aff"/>
<ellipse cx="537.2" cy="163.3" rx="1.25" ry="1.05" fill="#1a1aff"/>
<ellipse cx="542.7" cy="160.9" rx="1.25" ry="1.05" fill="#1a1aff"/>
<ellipse cx="542.5" cy="148.7" rx="1.25" ry="1.05" fill="#1a1aff"/>
<ellipse cx="540.3" cy="172.9" rx="1.25" ry="1.05" fill="#1a1aff"/>
<ellipse cx="538.9" cy="156.4" rx="1.25" ry="1.05" fill="#1a1aff"/>
<ellipse cx="538.1" cy="144.8" rx="1.25" ry="1.05" fill="#1a1aff"/>
<ellipse cx="540.9" cy="116.2" rx="1.25" ry="1.05" fill="#1a1aff"/>
<ellipse cx="541.4" cy="175.8" rx="1.25" ry="1.05" fill="#1a1aff"/>
<ellipse cx="541.9" cy="165.2" rx="1.25" ry="1.05" fill="#1a1aff"/>
<ellipse cx="542.9" cy="176.8" rx="1.25" ry="1.05" fill="#1a1aff"/>
<ellipse cx="537.4" cy="169.9" rx="1.25" ry="1.05" fill="#1a1aff"/>
<ellipse cx="542.4" cy="176.8" rx="1.25" ry="1.05" fill="#1a1aff"/>
<ellipse cx="540.3" cy="175.7" rx="1.25" ry="1.05" fill="#1a1aff"/>
<ellipse cx="540.4" cy="166.7" rx="1.25" ry="1.05" fill="#1a1aff"/>
<ellipse cx="543.2" cy="165.5" rx="1.25" ry="1.05" fill="#1a1aff"/>
<ellipse cx="533.9" cy="142.2" rx="1.25" ry="1.05" fill="#1a1aff"/>
<ellipse cx="543.3" cy="175.5" rx="1.25" ry="1.05" fill="#1a1aff"/>
<ellipse cx="543.7" cy="179.3" rx="1.25" ry="1.05" fill="#1a1aff"/>
<ellipse cx="539.4" cy="164.0" rx="1.25" ry="1.05" fill="#1a1aff"/>
<ellipse cx="543.6" cy="175.0" rx="1.25" ry="1.05" fill="#1a1aff"/>
<ellipse cx="540.7" cy="153.0" rx="1.25" ry="1.05" fill="#1a1aff"/>
<ellipse cx="539.9" cy="174.7" rx="1.25" ry="1.05" fill="#1a1aff"/>
<ellipse cx="541.9" cy="170.4" rx="1.25" ry="1.05" fill="#1a1aff"/>
<ellipse cx="539.4" cy="166.5" rx="1.25" ry="1.05" fill="#1a1aff"/>
<ellipse cx="541.8" cy="155.5" rx="1.25" ry="1.05" fill="#1a1aff"/>
<ellipse cx="539.2" cy="176.7" rx="1.25" ry="1.05" fill="#1a1aff"/>
<ellipse cx="542.5" cy="177.9" rx="1.25" ry="1.05" fill="#1a1aff"/>
<ellipse cx="543.1" cy="141.9" rx="1.25" ry="1.05" fill="#1a1aff"/>
<ellipse cx="543.3" cy="174.2" rx="1.25" ry="1.05" fill="#1a1aff"/>
<ellipse cx="544.1" cy="178.3" rx="1.25" ry="1.05" fill="#1a1aff"/>
<ellipse cx="542.6" cy="166.1" rx="1.25" ry="1.05" fill="#1a1aff"/>
<ellipse cx="543.0" cy="174.1" rx="1.25" ry="1.05" fill="#1a1aff"/>
<ellipse cx="540.5" cy="170.4" rx="1.25" ry="1.05" fill="#1a1aff"/>
<ellipse cx="543.7" cy="147.6" rx="1.25" ry="1.05" fill="#1a1aff"/>
<ellipse cx="542.5" cy="174.8" rx="1.25" ry="1.05" fill="#1a1aff"/>
<ellipse cx="543.4" cy="180.0" rx="1.25" ry="1.05" fill="#1a1aff"/>
<ellipse cx="542.4" cy="155.1" rx="1.25" ry="1.05" fill="#1a1aff"/>
<ellipse cx="541.2" cy="148.4" rx="1.25" ry="1.05" fill="#1a1aff"/>
<ellipse cx="544.0" cy="179.4" rx="1.25" ry="1.05" fill="#1a1aff"/>
<ellipse cx="536.0" cy="150.5" rx="1.25" ry="1.05" fill="#1a1aff"/>
<ellipse cx="539.9" cy="169.7" rx="1.25" ry="1.05" fill="#1a1aff"/>
<ellipse cx="536.9" cy="172.3" rx="1.25" ry="1.05" fill="#1a1aff"/>
<ellipse cx="540.2" cy="165.1" rx="1.25" ry="1.05" fill="#1a1aff"/>
<ellipse cx="538.6" cy="168.0" rx="1.25" ry="1.05" fill="#1a1aff"/>
<ellipse cx="541.2" cy="143.0" rx="1.25" ry="1.05" fill="#1a1aff"/>
<ellipse cx="542.5" cy="166.6" rx="1.25" ry="1.05" fill="#1a1aff"/>
<ellipse cx="539.7" cy="133.7" rx="1.25" ry="1.05" fill="#1a1aff"/>
<ellipse cx="541.8" cy="169.2" rx="1.25" ry="1.05" fill="#1a1aff"/>
<ellipse cx="540.3" cy="167.2" rx="1.25" ry="1.05" fill="#1a1aff"/>
<ellipse cx="543.9" cy="162.2" rx="1.25" ry="1.05" fill="#1a1aff"/>
<ellipse cx="538.2" cy="138.3" rx="1.25" ry="1.05" fill="#1a1aff"/>
<ellipse cx="539.8" cy="178.4" rx="1.25" ry="1.05" fill="#1a1aff"/>
<ellipse cx="539.5" cy="179.9" rx="1.25" ry="1.05" fill="#1a1aff"/>
<ellipse cx="539.2" cy="159.5" rx="1.25" ry="1.05" fill="#1a1aff"/>
<ellipse cx="539.1" cy="166.9" rx="1.25" ry="1.05" fill="#1a1aff"/>
<ellipse cx="542.6" cy="177.2" rx="1.25" ry="1.05" fill="#1a1aff"/>
<ellipse cx="538.0" cy="152.9" rx="1.25" ry="1.05" fill="#1a1aff"/>
<ellipse cx="541.2" cy="175.3" rx="1.25" ry="1.05" fill="#1a1aff"/>
<ellipse cx="539.7" cy="157.7" rx="1.25" ry="1.05" fill="#1a1aff"/>
<ellipse cx="541.6" cy="179.7" rx="1.25" ry="1.05" fill="#1a1aff"/>
<ellipse cx="542.9" cy="161.1" rx="1.25" ry="1.05" fill="#1a1aff"/>
<ellipse cx="540.6" cy="171.5" rx="1.25" ry="1.05" fill="#1a1aff"/>
<ellipse cx="540.6" cy="173.1" rx="1.25" ry="1.05" fill="#1a1aff"/>
<ellipse cx="542.3" cy="147.4" rx="1.25" ry="1.05" fill="#1a1aff"/>
<ellipse cx="539.0" cy="145.6" rx="1.25" ry="1.05" fill="#1a1aff"/>
<ellipse cx="543.9" cy="177.6" rx="1.25" ry="1.05" fill="#1a1aff"/>
<ellipse cx="542.1" cy="122.5" rx="1.25" ry="1.05" fill="#1a1aff"/>
<ellipse cx="543.6" cy="179.6" rx="1.25" ry="1.05" fill="#1a1aff"/>
<ellipse cx="541.1" cy="176.0" rx="1.25" ry="1.05" fill="#1a1aff"/>
<ellipse cx="540.5" cy="169.6" rx="1.25" ry="1.05" fill="#1a1aff"/>
<ellipse cx="544.1" cy="177.4" rx="1.25" ry="1.05" fill="#1a1aff"/>
<ellipse cx="541.2" cy="164.7" rx="1.25" ry="1.05" fill="#1a1aff"/>
<ellipse cx="535.6" cy="170.0" rx="1.25" ry="1.05" fill="#1a1aff"/>
<ellipse cx="542.8" cy="168.2" rx="1.25" ry="1.05" fill="#1a1aff"/>
<ellipse cx="535.4" cy="172.0" rx="1.25" ry="1.05" fill="#1a1aff"/>
<ellipse cx="542.2" cy="158.4" rx="1.25" ry="1.05" fill="#1a1aff"/>
<ellipse cx="540.5" cy="150.7" rx="1.25" ry="1.05" fill="#1a1aff"/>
<ellipse cx="543.3" cy="173.3" rx="1.25" ry="1.05" fill="#1a1aff"/>
<ellipse cx="543.4" cy="167.7" rx="1.25" ry="1.05" fill="#1a1aff"/>
<ellipse cx="542.6" cy="136.8" rx="1.25" ry="1.05" fill="#1a1aff"/>
<ellipse cx="539.8" cy="150.0" rx="1.25" ry="1.05" fill="#1a1aff"/>
<ellipse cx="541.8" cy="173.4" rx="1.25" ry="1.05" fill="#1a1aff"/>
<ellipse cx="540.7" cy="168.5" rx="1.25" ry="1.05" fill="#1a1aff"/>
<ellipse cx="541.0" cy="121.8" rx="1.25" ry="1.05" fill="#1a1aff"/>
<ellipse cx="542.5" cy="162.9" rx="1.25" ry="1.05" fill="#1a1aff"/>
<ellipse cx="540.4" cy="168.9" rx="1.25" ry="1.05" fill="#1a1aff"/>
<ellipse cx="542.9" cy="128.4" rx="1.25" ry="1.05" fill="#1a1aff"/>
<ellipse cx="539.6" cy="172.6" rx="1.25" ry="1.05" fill="#1a1aff"/>
<ellipse cx="541.6" cy="178.8" rx="1.25" ry="1.05" fill="#1a1aff"/>
<ellipse cx="540.8" cy="126.2" rx="1.25" ry="1.05" fill="#1a1aff"/>
<ellipse cx="541.9" cy="153.8" rx="1.25" ry="1.05" fill="#1a1aff"/>
<ellipse cx="543.0" cy="179.7" rx="1.25" ry="1.05" fill="#1a1aff"/>
<ellipse cx="542.8" cy="166.7" rx="1.25" ry="1.05" fill="#1a1aff"/>
<ellipse cx="542.8" cy="179.8" rx="1.25" ry="1.05" fill="#1a1aff"/>
<ellipse cx="503.2" cy="47.3" rx="1.25" ry="1.05" fill="#1a1aff"/>
<ellipse cx="494.9" cy="92.8" rx="1.25" ry="1.05" fill="#1a1aff"/>
<ellipse cx="477.1" cy="120.1" rx="1.25" ry="1.05" fill="#1a1aff"/>
<ellipse cx="494.9" cy="127.4" rx="1.25" ry="1.05" fill="#1a1aff"/>
<ellipse cx="523.8" cy="149.2" rx="1.25" ry="1.05" fill="#1a1aff"/>
<ellipse cx="523.8" cy="168.3" rx="1.25" ry="1.05" fill="#1a1aff"/>
<ellipse cx="538.2" cy="92.8" rx="1.25" ry="1.05" fill="#1a1aff"/>
<ellipse cx="542.3" cy="98.2" rx="1.25" ry="1.05" fill="#1a1aff"/>
<ellipse cx="543.0" cy="109.2" rx="1.25" ry="1.05" fill="#1a1aff"/>
<ellipse cx="532.7" cy="115.5" rx="1.25" ry="1.05" fill="#1a1aff"/>
<ellipse cx="538.2" cy="118.3" rx="1.25" ry="1.05" fill="#1a1aff"/>
<ellipse cx="541.6" cy="123.7" rx="1.25" ry="1.05" fill="#1a1aff"/>
<ellipse cx="543.0" cy="127.4" rx="1.25" ry="1.05" fill="#1a1aff"/>
<ellipse cx="532.0" cy="147.4" rx="1.25" ry="1.05" fill="#1a1aff"/>
</g>
<line x1="543.4" y1="21.5" x2="543.4" y2="211.7" stroke="#6e6e6e" stroke-width="1.2" stroke-dasharray="11 2.3" stroke-dashoffset="5"/>
<line x1="561.9" y1="21.5" x2="561.9" y2="211.7" stroke="#6e6e6e" stroke-width="1.2" stroke-dasharray="11 2.3" stroke-dashoffset="5"/>
<line x1="460.6" y1="180.3" x2="643.4" y2="180.3" stroke="#6e6e6e" stroke-width="1.2" stroke-dasharray="11 2.2"/>
<line x1="460.3" y1="20.5" x2="460.3" y2="212.2" stroke="#333333" stroke-width="1.2"/>
<line x1="459.7" y1="211.6" x2="643.4" y2="211.6" stroke="#333333" stroke-width="1.2"/>
<line x1="457.6" y1="203.8" x2="460.3" y2="203.8" stroke="#333333" stroke-width="1"/>
<line x1="457.6" y1="158.0" x2="460.3" y2="158.0" stroke="#333333" stroke-width="1"/>
<line x1="457.6" y1="112.1" x2="460.3" y2="112.1" stroke="#333333" stroke-width="1"/>
<line x1="457.6" y1="68.3" x2="460.3" y2="68.3" stroke="#333333" stroke-width="1"/>
<line x1="457.6" y1="22.8" x2="460.3" y2="22.8" stroke="#333333" stroke-width="1"/>
<line x1="469.0" y1="211.6" x2="469.0" y2="214.2" stroke="#333333" stroke-width="1"/>
<line x1="510.5" y1="211.6" x2="510.5" y2="214.2" stroke="#333333" stroke-width="1"/>
<line x1="552.3" y1="211.6" x2="552.3" y2="214.2" stroke="#333333" stroke-width="1"/>
<line x1="593.3" y1="211.6" x2="593.3" y2="214.2" stroke="#333333" stroke-width="1"/>
<line x1="635.3" y1="211.6" x2="635.3" y2="214.2" stroke="#333333" stroke-width="1"/>
<defs>
<linearGradient id="gb" x1="0" x2="1" y1="0" y2="0"><stop offset="0" stop-color="#36368f"/><stop offset="0.35" stop-color="#5a5aa8"/><stop offset="1" stop-color="#ffffff" stop-opacity="0"/></linearGradient>
<linearGradient id="gr" x1="0" x2="1" y1="0" y2="0"><stop offset="0" stop-color="#ffffff" stop-opacity="0"/><stop offset="0.6" stop-color="#ec6a5a"/><stop offset="1" stop-color="#e23a2a"/></linearGradient>
</defs>
<rect x="470" y="203.2" width="73" height="1.9" fill="url(#gb)"/>
<polygon points="460.5,203.9 477.9,198 473.7,203.9 477.9,211.5" fill="#36368f"/>
<rect x="566" y="203.2" width="66" height="1.9" fill="url(#gr)"/>
<polygon points="644.9,203.9 627.1,196.9 630.6,203.9 627.1,211.5" fill="#e23a2a"/>
<rect x="77.30" y="461.98" width="10.10" height="18.22" fill="#00a087" stroke="#111" stroke-width="1.2"/>
<line x1="82.35" y1="487.3" x2="82.35" y2="489.6" stroke="#333" stroke-width="0.9"/>
<rect x="92.24" y="461.98" width="10.10" height="18.22" fill="#00a087" stroke="#111" stroke-width="1.2"/>
<line x1="97.29" y1="487.3" x2="97.29" y2="489.6" stroke="#333" stroke-width="0.9"/>
<rect x="107.18" y="464.64" width="10.10" height="15.56" fill="#00a087" stroke="#111" stroke-width="1.2"/>
<line x1="112.23" y1="487.3" x2="112.23" y2="489.6" stroke="#333" stroke-width="0.9"/>
<rect x="122.12" y="469.96" width="10.10" height="10.24" fill="#00a087" stroke="#111" stroke-width="1.2"/>
<line x1="127.17" y1="487.3" x2="127.17" y2="489.6" stroke="#333" stroke-width="0.9"/>
<rect x="137.06" y="469.96" width="10.10" height="10.24" fill="#00a087" stroke="#111" stroke-width="1.2"/>
<line x1="142.11" y1="487.3" x2="142.11" y2="489.6" stroke="#333" stroke-width="0.9"/>
<rect x="152.00" y="469.96" width="10.10" height="10.24" fill="#00a087" stroke="#111" stroke-width="1.2"/>
<line x1="157.05" y1="487.3" x2="157.05" y2="489.6" stroke="#333" stroke-width="0.9"/>
<rect x="166.94" y="472.62" width="10.10" height="7.58" fill="#00a087" stroke="#111" stroke-width="1.2"/>
<line x1="171.99" y1="487.3" x2="171.99" y2="489.6" stroke="#333" stroke-width="0.9"/>
<rect x="181.88" y="477.94" width="10.10" height="2.26" fill="#00a087" stroke="#111" stroke-width="1.2"/>
<line x1="186.93" y1="487.3" x2="186.93" y2="489.6" stroke="#333" stroke-width="0.9"/>
<rect x="196.82" y="267.80" width="10.10" height="212.40" fill="#4dbbd5" stroke="#111" stroke-width="1.2"/>
<line x1="201.87" y1="487.3" x2="201.87" y2="489.6" stroke="#333" stroke-width="0.9"/>
<rect x="211.76" y="427.40" width="10.10" height="52.80" fill="#4dbbd5" stroke="#111" stroke-width="1.2"/>
<line x1="216.81" y1="487.3" x2="216.81" y2="489.6" stroke="#333" stroke-width="0.9"/>
<rect x="226.70" y="430.06" width="10.10" height="50.14" fill="#4dbbd5" stroke="#111" stroke-width="1.2"/>
<line x1="231.75" y1="487.3" x2="231.75" y2="489.6" stroke="#333" stroke-width="0.9"/>
<rect x="241.64" y="432.72" width="10.10" height="47.48" fill="#4dbbd5" stroke="#111" stroke-width="1.2"/>
<line x1="246.69" y1="487.3" x2="246.69" y2="489.6" stroke="#333" stroke-width="0.9"/>
<rect x="256.58" y="454.00" width="10.10" height="26.20" fill="#4dbbd5" stroke="#111" stroke-width="1.2"/>
<line x1="261.63" y1="487.3" x2="261.63" y2="489.6" stroke="#333" stroke-width="0.9"/>
<rect x="271.52" y="414.10" width="10.10" height="66.10" fill="#e64b35" stroke="#111" stroke-width="1.2"/>
<line x1="276.57" y1="487.3" x2="276.57" y2="489.6" stroke="#333" stroke-width="0.9"/>
<rect x="286.46" y="454.00" width="10.10" height="26.20" fill="#e64b35" stroke="#111" stroke-width="1.2"/>
<line x1="291.51" y1="487.3" x2="291.51" y2="489.6" stroke="#333" stroke-width="0.9"/>
<rect x="301.40" y="456.66" width="10.10" height="23.54" fill="#e64b35" stroke="#111" stroke-width="1.2"/>
<line x1="306.45" y1="487.3" x2="306.45" y2="489.6" stroke="#333" stroke-width="0.9"/>
<rect x="316.34" y="459.32" width="10.10" height="20.88" fill="#e64b35" stroke="#111" stroke-width="1.2"/>
<line x1="321.39" y1="487.3" x2="321.39" y2="489.6" stroke="#333" stroke-width="0.9"/>
<rect x="331.28" y="459.32" width="10.10" height="20.88" fill="#e64b35" stroke="#111" stroke-width="1.2"/>
<line x1="336.33" y1="487.3" x2="336.33" y2="489.6" stroke="#333" stroke-width="0.9"/>
<rect x="346.22" y="472.62" width="10.10" height="7.58" fill="#e64b35" stroke="#111" stroke-width="1.2"/>
<line x1="351.27" y1="487.3" x2="351.27" y2="489.6" stroke="#333" stroke-width="0.9"/>
<rect x="361.16" y="475.28" width="10.10" height="4.92" fill="#e64b35" stroke="#111" stroke-width="1.2"/>
<line x1="366.21" y1="487.3" x2="366.21" y2="489.6" stroke="#333" stroke-width="0.9"/>
<rect x="376.10" y="477.94" width="10.10" height="2.26" fill="#e64b35" stroke="#111" stroke-width="1.2"/>
<line x1="381.15" y1="487.3" x2="381.15" y2="489.6" stroke="#333" stroke-width="0.9"/>
<rect x="391.04" y="477.94" width="10.10" height="2.26" fill="#e64b35" stroke="#111" stroke-width="1.2"/>
<line x1="396.09" y1="487.3" x2="396.09" y2="489.6" stroke="#333" stroke-width="0.9"/>
<rect x="409.90" y="478.00" width="9.10" height="1.70" fill="#e64b35" stroke="#111" stroke-width="1.2"/>
<line x1="414.45" y1="487.3" x2="414.45" y2="489.6" stroke="#333" stroke-width="0.9"/>
<rect x="423.71" y="464.00" width="9.10" height="17.70" fill="#e64b35" stroke="#111" stroke-width="1.2"/>
<line x1="428.26" y1="487.3" x2="428.26" y2="489.6" stroke="#333" stroke-width="0.9"/>
<rect x="437.52" y="464.00" width="9.10" height="17.70" fill="#e64b35" stroke="#111" stroke-width="1.2"/>
<line x1="442.07" y1="487.3" x2="442.07" y2="489.6" stroke="#333" stroke-width="0.9"/>
<rect x="451.33" y="461.90" width="9.10" height="19.80" fill="#e64b35" stroke="#111" stroke-width="1.2"/>
<line x1="455.88" y1="487.3" x2="455.88" y2="489.6" stroke="#333" stroke-width="0.9"/>
<rect x="465.14" y="456.10" width="9.10" height="25.60" fill="#e64b35" stroke="#111" stroke-width="1.2"/>
<line x1="469.69" y1="487.3" x2="469.69" y2="489.6" stroke="#333" stroke-width="0.9"/>
<rect x="478.95" y="433.00" width="9.10" height="48.70" fill="#e64b35" stroke="#111" stroke-width="1.2"/>
<line x1="483.50" y1="487.3" x2="483.50" y2="489.6" stroke="#333" stroke-width="0.9"/>
<rect x="492.76" y="479.44" width="9.10" height="2.26" fill="#4dbbd5" stroke="#111" stroke-width="1.2"/>
<line x1="497.31" y1="487.3" x2="497.31" y2="489.6" stroke="#333" stroke-width="0.9"/>
<rect x="506.57" y="479.44" width="9.10" height="2.26" fill="#4dbbd5" stroke="#111" stroke-width="1.2"/>
<line x1="511.12" y1="487.3" x2="511.12" y2="489.6" stroke="#333" stroke-width="0.9"/>
<rect x="520.38" y="476.78" width="9.10" height="4.92" fill="#4dbbd5" stroke="#111" stroke-width="1.2"/>
<line x1="524.93" y1="487.3" x2="524.93" y2="489.6" stroke="#333" stroke-width="0.9"/>
<rect x="534.19" y="471.46" width="9.10" height="10.24" fill="#4dbbd5" stroke="#111" stroke-width="1.2"/>
<line x1="538.74" y1="487.3" x2="538.74" y2="489.6" stroke="#333" stroke-width="0.9"/>
<rect x="548.00" y="476.78" width="9.10" height="4.92" fill="#00a087" stroke="#111" stroke-width="1.2"/>
<line x1="552.55" y1="487.3" x2="552.55" y2="489.6" stroke="#333" stroke-width="0.9"/>
<rect x="561.81" y="476.78" width="9.10" height="4.92" fill="#00a087" stroke="#111" stroke-width="1.2"/>
<line x1="566.36" y1="487.3" x2="566.36" y2="489.6" stroke="#333" stroke-width="0.9"/>
<rect x="575.62" y="476.78" width="9.10" height="4.92" fill="#00a087" stroke="#111" stroke-width="1.2"/>
<line x1="580.17" y1="487.3" x2="580.17" y2="489.6" stroke="#333" stroke-width="0.9"/>
<rect x="589.43" y="471.46" width="9.10" height="10.24" fill="#00a087" stroke="#111" stroke-width="1.2"/>
<line x1="593.98" y1="487.3" x2="593.98" y2="489.6" stroke="#333" stroke-width="0.9"/>
<rect x="603.24" y="471.46" width="9.10" height="10.24" fill="#00a087" stroke="#111" stroke-width="1.2"/>
<line x1="607.79" y1="487.3" x2="607.79" y2="489.6" stroke="#333" stroke-width="0.9"/>
<rect x="617.05" y="471.46" width="9.10" height="10.24" fill="#00a087" stroke="#111" stroke-width="1.2"/>
<line x1="621.60" y1="487.3" x2="621.60" y2="489.6" stroke="#333" stroke-width="0.9"/>
<rect x="630.86" y="463.48" width="9.10" height="18.22" fill="#00a087" stroke="#111" stroke-width="1.2"/>
<line x1="635.41" y1="487.3" x2="635.41" y2="489.6" stroke="#333" stroke-width="0.9"/>
<line x1="71.3" y1="339.9" x2="71.3" y2="480.5" stroke="#222" stroke-width="1.1"/>
<line x1="71.5" y1="487.3" x2="643" y2="487.3" stroke="#222" stroke-width="1.1"/>
<rect x="418.6" y="297.6" width="197.4" height="72.5" fill="none" stroke="#333" stroke-width="1.3" stroke-dasharray="8 3" transform="rotate(0.35 517 334)"/>
<rect x="426.5" y="316.7" width="13.3" height="13.2" fill="#e64b35" stroke="#111" stroke-width="1"/>
<rect x="426.5" y="331.4" width="13.3" height="13.2" fill="#4dbbd5" stroke="#111" stroke-width="1"/>
<rect x="426.5" y="346.1" width="13.3" height="13.2" fill="#00a087" stroke="#111" stroke-width="1"/>
<line x1="404.6" y1="488.9" x2="404.6" y2="844" stroke="#777" stroke-width="1.2" stroke-dasharray="11 2.7" stroke-dashoffset="5.5"/>
<defs>
<linearGradient id="gr2" x1="0" x2="1"><stop offset="0" stop-color="#d8281e"/><stop offset="0.5" stop-color="#e0463c"/><stop offset="1" stop-color="#e65a50" stop-opacity="0"/></linearGradient>
<linearGradient id="gb2" x1="0" x2="1"><stop offset="0" stop-color="#3a3a90" stop-opacity="0"/><stop offset="0.45" stop-color="#6a6aae"/><stop offset="1" stop-color="#35358f"/></linearGradient>
</defs>
<rect x="160" y="840.8" width="242" height="2" fill="url(#gr2)"/>
<polygon points="147.6,841.8 166,834 161.2,841.8 166,849.5" fill="#d8281e"/>
<rect x="420" y="840.4" width="225" height="1.9" fill="url(#gb2)"/>
<polygon points="658.7,841.2 640.2,833.9 644.9,841.2 640.2,848.9" fill="#35358f"/>
<rect x="144" y="910.6" width="193.5" height="227.2" fill="#fff"/>
<line x1="151.7" y1="910.6" x2="151.7" y2="1137.8" stroke="#ebebeb" stroke-width="1.0"/>
<line x1="171.4" y1="910.6" x2="171.4" y2="1137.8" stroke="#ebebeb" stroke-width="0.8"/>
<line x1="191.1" y1="910.6" x2="191.1" y2="1137.8" stroke="#ebebeb" stroke-width="1.0"/>
<line x1="210.8" y1="910.6" x2="210.8" y2="1137.8" stroke="#ebebeb" stroke-width="0.8"/>
<line x1="230.5" y1="910.6" x2="230.5" y2="1137.8" stroke="#ebebeb" stroke-width="1.0"/>
<line x1="250.2" y1="910.6" x2="250.2" y2="1137.8" stroke="#ebebeb" stroke-width="0.8"/>
<line x1="269.9" y1="910.6" x2="269.9" y2="1137.8" stroke="#ebebeb" stroke-width="1.0"/>
<line x1="289.6" y1="910.6" x2="289.6" y2="1137.8" stroke="#ebebeb" stroke-width="0.8"/>
<line x1="309.3" y1="910.6" x2="309.3" y2="1137.8" stroke="#ebebeb" stroke-width="1.0"/>
<line x1="329.0" y1="910.6" x2="329.0" y2="1137.8" stroke="#ebebeb" stroke-width="0.8"/>
<line x1="144" y1="920.1" x2="337.5" y2="920.1" stroke="#ebebeb" stroke-width="1"/>
<line x1="144" y1="936.2" x2="337.5" y2="936.2" stroke="#ebebeb" stroke-width="1"/>
<line x1="144" y1="952.3" x2="337.5" y2="952.3" stroke="#ebebeb" stroke-width="1"/>
<line x1="144" y1="968.4" x2="337.5" y2="968.4" stroke="#ebebeb" stroke-width="1"/>
<line x1="144" y1="984.4" x2="337.5" y2="984.4" stroke="#ebebeb" stroke-width="1"/>
<line x1="144" y1="1000.5" x2="337.5" y2="1000.5" stroke="#ebebeb" stroke-width="1"/>
<line x1="144" y1="1016.6" x2="337.5" y2="1016.6" stroke="#ebebeb" stroke-width="1"/>
<line x1="144" y1="1032.7" x2="337.5" y2="1032.7" stroke="#ebebeb" stroke-width="1"/>
<line x1="144" y1="1048.8" x2="337.5" y2="1048.8" stroke="#ebebeb" stroke-width="1"/>
<line x1="144" y1="1064.9" x2="337.5" y2="1064.9" stroke="#ebebeb" stroke-width="1"/>
<line x1="144" y1="1081.0" x2="337.5" y2="1081.0" stroke="#ebebeb" stroke-width="1"/>
<line x1="144" y1="1097.0" x2="337.5" y2="1097.0" stroke="#ebebeb" stroke-width="1"/>
<line x1="144" y1="1113.1" x2="337.5" y2="1113.1" stroke="#ebebeb" stroke-width="1"/>
<line x1="144" y1="1129.2" x2="337.5" y2="1129.2" stroke="#ebebeb" stroke-width="1"/>
<rect x="144" y="910.6" width="193.5" height="227.2" fill="none" stroke="#8c8c8c" stroke-width="1.1"/>
<circle cx="327.7" cy="920.1" r="4.2" fill="#ff2020"/>
<circle cx="310.6" cy="936.2" r="1.5" fill="#b2434f"/>
<circle cx="307.6" cy="952.3" r="2.8" fill="#f22a2a"/>
<circle cx="293.0" cy="968.4" r="2.5" fill="#f02a2a"/>
<circle cx="279.5" cy="984.4" r="4.5" fill="#ff2222"/>
<circle cx="264.2" cy="1000.5" r="2.5" fill="#f03030"/>
<circle cx="231.9" cy="1016.6" r="2.0" fill="#b24b4f"/>
<circle cx="227.4" cy="1032.7" r="2.6" fill="#ff0000"/>
<circle cx="224.7" cy="1048.8" r="2.3" fill="#c23e44"/>
<circle cx="219.9" cy="1064.9" r="2.0" fill="#1a75ff"/>
<circle cx="208.0" cy="1081.0" r="2.3" fill="#cc4444"/>
<circle cx="180.7" cy="1097.0" r="2.3" fill="#ba484c"/>
<circle cx="175.3" cy="1113.1" r="2.6" fill="#cf3a3a"/>
<circle cx="151.4" cy="1129.2" r="2.6" fill="#c24a50"/>
<line x1="140.3" y1="920.1" x2="144" y2="920.1" stroke="#333" stroke-width="1"/>
<line x1="140.3" y1="936.2" x2="144" y2="936.2" stroke="#333" stroke-width="1"/>
<line x1="140.3" y1="952.3" x2="144" y2="952.3" stroke="#333" stroke-width="1"/>
<line x1="140.3" y1="968.4" x2="144" y2="968.4" stroke="#333" stroke-width="1"/>
<line x1="140.3" y1="984.4" x2="144" y2="984.4" stroke="#333" stroke-width="1"/>
<line x1="140.3" y1="1000.5" x2="144" y2="1000.5" stroke="#333" stroke-width="1"/>
<line x1="140.3" y1="1016.6" x2="144" y2="1016.6" stroke="#333" stroke-width="1"/>
<line x1="140.3" y1="1032.7" x2="144" y2="1032.7" stroke="#333" stroke-width="1"/>
<line x1="140.3" y1="1048.8" x2="144" y2="1048.8" stroke="#333" stroke-width="1"/>
<line x1="140.3" y1="1064.9" x2="144" y2="1064.9" stroke="#333" stroke-width="1"/>
<line x1="140.3" y1="1081.0" x2="144" y2="1081.0" stroke="#333" stroke-width="1"/>
<line x1="140.3" y1="1097.0" x2="144" y2="1097.0" stroke="#333" stroke-width="1"/>
<line x1="140.3" y1="1113.1" x2="144" y2="1113.1" stroke="#333" stroke-width="1"/>
<line x1="140.3" y1="1129.2" x2="144" y2="1129.2" stroke="#333" stroke-width="1"/>
<line x1="151.7" y1="1137.8" x2="151.7" y2="1140.3" stroke="#333" stroke-width="0.9"/>
<line x1="191.1" y1="1137.8" x2="191.1" y2="1140.3" stroke="#333" stroke-width="0.9"/>
<line x1="230.5" y1="1137.8" x2="230.5" y2="1140.3" stroke="#333" stroke-width="0.9"/>
<line x1="269.9" y1="1137.8" x2="269.9" y2="1140.3" stroke="#333" stroke-width="0.9"/>
<line x1="309.3" y1="1137.8" x2="309.3" y2="1140.3" stroke="#333" stroke-width="0.9"/>
<circle cx="343.2" cy="946.8" r="0.9" fill="#000"/>
<circle cx="343.7" cy="961.4" r="2.3" fill="#000"/>
<circle cx="344.4" cy="976.3" r="2.7" fill="#000"/>
<circle cx="344.0" cy="988.4" r="3.1" fill="#000"/>
<defs><linearGradient id="cb" x1="0" x2="0" y1="0" y2="1">
<stop offset="0" stop-color="#4473b9"/><stop offset="0.3" stop-color="#7b5e9c"/><stop offset="0.55" stop-color="#a45771"/><stop offset="0.8" stop-color="#c94646"/><stop offset="1" stop-color="#e2302a"/></linearGradient></defs>
<rect x="342.5" y="1023.2" width="12.3" height="68.4" fill="url(#cb)"/>
<line x1="342.5" y1="1027.4" x2="344.9" y2="1027.4" stroke="#fff" stroke-width="0.8"/><line x1="352.4" y1="1027.4" x2="354.8" y2="1027.4" stroke="#fff" stroke-width="0.8"/>
<line x1="342.5" y1="1043.3" x2="344.9" y2="1043.3" stroke="#fff" stroke-width="0.8"/><line x1="352.4" y1="1043.3" x2="354.8" y2="1043.3" stroke="#fff" stroke-width="0.8"/>
<line x1="342.5" y1="1058.3" x2="344.9" y2="1058.3" stroke="#fff" stroke-width="0.8"/><line x1="352.4" y1="1058.3" x2="354.8" y2="1058.3" stroke="#fff" stroke-width="0.8"/>
<line x1="342.5" y1="1074.3" x2="344.9" y2="1074.3" stroke="#fff" stroke-width="0.8"/><line x1="352.4" y1="1074.3" x2="354.8" y2="1074.3" stroke="#fff" stroke-width="0.8"/>
<path d="M571.90,1005.80 A60.7,60.7 0 0 0 451.33,995.78" fill="none" stroke="#167ffc" stroke-width="8"/>
<polygon points="444.6,992.0 448.6,993.3 455.9,993.9 458.9,993.2 450.3,1004.8" fill="#167ffc"/>
<path d="M450.5,1004.2 C450.5,1030 451.5,1040.5 463.6,1050" fill="none" stroke="#efa9f7" stroke-width="7.2"/>
<polygon points="459.6,1055.5 466.6,1043.5 472.9,1054.9" fill="#efa9f7"/>
<path d="M473.41,1053.30 A60.7,60.7 0 0 0 498.58,1065.17" fill="none" stroke="#ee4d72" stroke-width="7.2"/>
<polygon points="496.7,1059.3 494.9,1072.5 508.1,1067.2" fill="#ee4d72"/>
<path d="M508.23,1066.43 A60.7,60.7 0 0 0 571.15,1015.30" fill="none" stroke="#ff7a00" stroke-width="7.4"/>
<polygon points="564,1017.5 578,1018.6 572.2,1006.4" fill="#ff7a00"/>
<line x1="593.8" y1="960.6" x2="553.5" y2="937.9" stroke="#1a1a1a" stroke-width="1.15"/>
<polygon points="549.40,935.60 557.80,935.97 554.10,938.25 554.07,942.59" fill="#1a1a1a"/>
<line x1="599.9" y1="998.2" x2="597.3" y2="987" stroke="#1a1a1a" stroke-width="1.15"/>
<polygon points="596.60,983.40 601.34,989.51 597.70,988.32 594.90,990.95" fill="#1a1a1a"/>
<path d="M503.1,1096.4 Q512,1100.5 522.5,1099.6" fill="none" stroke="#1a1a1a" stroke-width="1.15"/>
<polygon points="526.50,1099.30 519.73,1103.13 521.47,1099.61 519.30,1096.34" fill="#1a1a1a"/>
<path d="M553.5,1090.1 Q563.5,1085.5 572.5,1064" fill="none" stroke="#1a1a1a" stroke-width="1.15"/>
<polygon points="574.60,1060.20 574.86,1067.98 572.55,1064.81 568.65,1065.22" fill="#1a1a1a"/>
<line x1="585.3" y1="1071.2" x2="585.6" y2="1059" stroke="#1a1a1a" stroke-width="1.0"/>
<polygon points="585.70,1055.10 587.34,1060.79 585.26,1059.48 582.96,1060.35" fill="#1a1a1a"/>
<line x1="339.1" y1="1112.6" x2="396.5" y2="1104.8" stroke="#1a1a1a" stroke-width="1.2" stroke-dasharray="5.5 3 11.7 3 11.7 3 11.7 3 11.7 3"/>
<polygon points="399.40,1104.40 394.96,1107.33 395.60,1104.92 394.33,1102.78" fill="#1a1a1a"/>
<path d="M585.2,966.4 C585.2,965.0 586.4,964.6 588.0,964.6 L594.3,964.9 C596.5,965.1 596.6,966.4 595.5,967.3 L590.4,971.0 C588.7,972.3 589.0,973.8 590.8,974.3 C592.4,974.8 594.8,974.5 596.6,973.9 L603.4,972.2 C606.4,971.6 606.9,973.7 605.2,975.0 L598.2,979.3 C595.2,980.9 590.2,981.9 587.6,982.0 C585.8,982.1 585.2,981.0 585.2,979.6 Z" fill="#b5080e"/>
<path d="M597.3,960.6 C597.3,958.9 598.4,958.2 599.6,958.2 C601.3,958.2 602.4,959.6 602.7,961.6 L603.2,967.8 C603.3,969.8 602.6,970.6 601.0,971.0 L595.6,972.1 C593.6,972.4 592.8,971.4 593.1,970.3 C593.5,969.2 594.6,968.6 596.1,968.2 L597.4,967.8 Z" fill="#1400f5"/>
<g transform="translate(-53.3,121.4)"><path d="M585.2,966.4 C585.2,965.0 586.4,964.6 588.0,964.6 L594.3,964.9 C596.5,965.1 596.6,966.4 595.5,967.3 L590.4,971.0 C588.7,972.3 589.0,973.8 590.8,974.3 C592.4,974.8 594.8,974.5 596.6,973.9 L603.4,972.2 C606.4,971.6 606.9,973.7 605.2,975.0 L598.2,979.3 C595.2,980.9 590.2,981.9 587.6,982.0 C585.8,982.1 585.2,981.0 585.2,979.6 Z" fill="#b5080e"/><path d="M597.3,960.6 C597.3,958.9 598.4,958.2 599.6,958.2 C601.3,958.2 602.4,959.6 602.7,961.6 L603.2,967.8 C603.3,969.8 602.6,970.6 601.0,971.0 L595.6,972.1 C593.6,972.4 592.8,971.4 593.1,970.3 C593.5,969.2 594.6,968.6 596.1,968.2 L597.4,967.8 Z" fill="#ff8c00"/></g>
<text transform="translate(36.58,19.40)" font-size="27.00" font-weight="bold" fill="#000" stroke="#000" stroke-width="0.3">a</text>
<text transform="translate(303.06,69.60) scale(1.1846,1)" font-size="11.19" fill="#000">Replicate</text>
<text transform="translate(313.97,85.40) scale(1.1011,1)" font-size="11.92" fill="#000">Replicate 1</text>
<text transform="translate(313.96,99.70) scale(1.1608,1)" font-size="11.48" fill="#000">Replicate 2</text>
<text transform="translate(313.96,114.80) scale(1.1269,1)" font-size="11.77" fill="#000">Replicate 3</text>
<text transform="translate(301.68,130.90) scale(1.1783,1)" font-size="11.19" fill="#000">Group</text>
<text transform="translate(313.67,144.50) scale(1.1196,1)" font-size="11.92" fill="#000">CMC</text>
<text transform="translate(313.27,159.10) scale(1.1033,1)" font-size="11.92" fill="#000">DHA</text>
<text transform="translate(106.17,228.60) scale(1.0079,1)" font-size="16.93" fill="#000">-40</text>
<text transform="translate(152.38,228.60) scale(0.9909,1)" font-size="16.93" fill="#000">-20</text>
<text transform="translate(194.62,228.60) scale(0.9098,1)" font-size="16.93" fill="#000">0</text>
<text transform="translate(235.63,228.60) scale(0.9765,1)" font-size="16.93" fill="#000">20</text>
<text transform="translate(285.94,228.60) scale(0.9811,1)" font-size="16.93" fill="#000">40</text>
<text transform="translate(163.56,243.10) scale(1.0565,1)" font-size="16.28" fill="#000">PC 1 (42.8%)</text>
<text transform="translate(97.70,29.36) rotate(-90)" font-size="17.07" fill="#000">40</text>
<text transform="translate(97.70,75.68) rotate(-90)" font-size="17.07" fill="#000">20</text>
<text transform="translate(97.70,119.60) rotate(-90)" font-size="17.07" fill="#000">0</text>
<text transform="translate(97.70,170.39) rotate(-90)" font-size="17.07" fill="#000">-20</text>
<text transform="translate(97.70,216.79) rotate(-90)" font-size="17.07" fill="#000">-40</text>
<text transform="translate(79.80,154.53) rotate(-90) scale(0.9603,1)" font-size="17.73" fill="#000">PC 2 (16.8%)</text>
<text transform="translate(402.51,19.00)" font-size="27.00" font-weight="bold" fill="#000" stroke="#000" stroke-width="0.3">b</text>
<text transform="translate(474.66,202.90) scale(1.0137,1)" font-size="9.30" fill="#222">Down-regulation</text>
<text transform="translate(571.31,201.50) scale(1.1466,1)" font-size="8.28" fill="#222">Up-regulation</text>
<text transform="translate(524.11,15.70) scale(1.1117,1)" font-size="12.50" fill="#000">DHA vs. CMC</text>
<text transform="translate(460.11,29.70) scale(1.1643,1)" font-size="12.23" fill="#000">112 proteins</text>
<text transform="translate(566.34,29.70) scale(1.1465,1)" font-size="12.23" fill="#000">280 proteins</text>
<text transform="translate(464.22,114.00) scale(1.0532,1)" font-size="13.08" fill="#000">Pnlip</text>
<text transform="translate(602.50,129.00) scale(1.0981,1)" font-size="12.79" fill="#000">Mki67</text>
<text transform="translate(426.15,27.40)" font-size="16.79" fill="#000">10.0</text>
<text transform="translate(432.57,71.90) scale(1.0887,1)" font-size="16.36" fill="#000">7.5</text>
<text transform="translate(432.96,115.70) scale(1.0822,1)" font-size="15.93" fill="#000">5.0</text>
<text transform="translate(432.67,162.00) scale(1.1082,1)" font-size="15.93" fill="#000">2.5</text>
<text transform="translate(432.96,207.50) scale(1.0822,1)" font-size="15.93" fill="#000">0.0</text>
<text transform="translate(457.64,227.60) scale(1.1735,1)" font-size="15.22" fill="#000">-6</text>
<text transform="translate(501.46,227.60) scale(1.1253,1)" font-size="15.22" fill="#000">-3</text>
<text transform="translate(548.13,227.60) scale(1.1958,1)" font-size="15.22" fill="#000">0</text>
<text transform="translate(588.45,227.60) scale(1.1665,1)" font-size="15.22" fill="#000">3</text>
<text transform="translate(629.84,227.60) scale(1.2054,1)" font-size="15.22" fill="#000">6</text>
<text transform="translate(508.95,240.40) scale(1.2530,1)" font-size="14.83" fill="#000">Log</text>
<text transform="translate(539.54,246.00) scale(1.1309,1)" font-size="8.68" fill="#000">2</text>
<text transform="translate(548.14,240.40) scale(1.2159,1)" font-size="14.83" fill="#000">expression</text>
<text transform="translate(424.00,162.80) rotate(-90) scale(0.9273,1)" font-size="17.30" fill="#000">-Log</text>
<text transform="translate(430.00,129.51) rotate(-90) scale(0.8600,1)" font-size="9.53" fill="#000">10</text>
<text transform="translate(424.20,114.27) rotate(-90) scale(0.9060,1)" font-size="17.88" fill="#000">P-value</text>
<text transform="translate(36.46,265.40)" font-size="27.00" font-weight="bold" fill="#000" stroke="#000" stroke-width="0.3">c</text>
<text transform="translate(80.02,460.48)" font-size="8.30" fill="#222">7</text>
<text transform="translate(84.25,672.36) rotate(-90) scale(0.9530,1)" font-size="10.60" fill="#000">[H] Coenzyme transport and metabolism</text>
<text transform="translate(94.96,460.48)" font-size="8.30" fill="#222">7</text>
<text transform="translate(99.19,670.69) rotate(-90) scale(0.9530,1)" font-size="10.60" fill="#000">[F] Nucleotide transport and metabolism</text>
<text transform="translate(109.90,463.14)" font-size="8.30" fill="#222">6</text>
<text transform="translate(114.13,673.49) rotate(-90) scale(0.9530,1)" font-size="10.60" fill="#000">[E] Amino acid transport and metabolism</text>
<text transform="translate(124.90,468.46)" font-size="8.30" fill="#222">4</text>
<text transform="translate(129.07,640.93) rotate(-90) scale(0.9530,1)" font-size="10.60" fill="#000">[I] Lipid transport and metabolism</text>
<text transform="translate(139.84,468.46)" font-size="8.30" fill="#222">4</text>
<text transform="translate(144.01,685.85) rotate(-90) scale(0.9530,1)" font-size="10.60" fill="#000">[G] Carbohydrate transport and metabolism</text>
<text transform="translate(154.78,468.46)" font-size="8.30" fill="#222">4</text>
<text transform="translate(158.95,660.56) rotate(-90) scale(0.9530,1)" font-size="10.60" fill="#000">[C] Energy production and conversion</text>
<text transform="translate(169.72,471.12)" font-size="8.30" fill="#222">3</text>
<text transform="translate(173.89,681.37) rotate(-90) scale(0.9530,1)" font-size="10.60" fill="#000">[P] Inorganic ion transport and metabolism</text>
<text transform="translate(184.53,476.44)" font-size="8.30" fill="#222">1</text>
<text transform="translate(188.83,785.24) rotate(-90) scale(0.9530,1)" font-size="10.60" fill="#000">[Q] Secondary metabolites biosynthesis, transport and catabolism</text>
<text transform="translate(197.23,266.30)" font-size="8.30" fill="#222">80</text>
<text transform="translate(203.77,717.13) rotate(-90) scale(0.9530,1)" font-size="10.60" fill="#000">[J] Translation, ribosomal structure and biogenesis</text>
<text transform="translate(212.10,425.90)" font-size="8.30" fill="#222">20</text>
<text transform="translate(218.71,673.42) rotate(-90) scale(0.9530,1)" font-size="10.60" fill="#000">[L] Replication, recombination and repair</text>
<text transform="translate(227.04,428.56)" font-size="8.30" fill="#222">19</text>
<text transform="translate(233.65,660.78) rotate(-90) scale(0.9530,1)" font-size="10.60" fill="#000">[B] Chromatin structure and dynamics</text>
<text transform="translate(241.98,431.22)" font-size="8.30" fill="#222">18</text>
<text transform="translate(248.59,656.05) rotate(-90) scale(0.9530,1)" font-size="10.60" fill="#000">[A] RNA processing and modification</text>
<text transform="translate(256.86,452.50)" font-size="8.30" fill="#222">10</text>
<text transform="translate(263.53,564.70) rotate(-90) scale(0.9530,1)" font-size="10.60" fill="#000">[K] Transcription</text>
<text transform="translate(271.93,412.60)" font-size="8.30" fill="#222">25</text>
<text transform="translate(278.47,773.67) rotate(-90) scale(0.9530,1)" font-size="10.60" fill="#000">[O] Posttranslational modification, protein turnover, chaperones</text>
<text transform="translate(286.74,452.50)" font-size="8.30" fill="#222">10</text>
<text transform="translate(293.41,564.52) rotate(-90) scale(0.9530,1)" font-size="10.60" fill="#000">[Z] Cytoskeleton</text>
<text transform="translate(304.12,455.16)" font-size="8.30" fill="#222">9</text>
<text transform="translate(308.35,651.80) rotate(-90) scale(0.9530,1)" font-size="10.60" fill="#000">[T] Signal transduction mechanisms</text>
<text transform="translate(319.12,457.82)" font-size="8.30" fill="#222">8</text>
<text transform="translate(323.29,612.47) rotate(-90) scale(0.9530,1)" font-size="10.60" fill="#000">[W] Extracellular structures</text>
<text transform="translate(334.06,457.82)" font-size="8.30" fill="#222">8</text>
<text transform="translate(338.23,757.09) rotate(-90) scale(0.9530,1)" font-size="10.60" fill="#000">[D] Cell cycle control, cell division, chromosome partitioning</text>
<text transform="translate(349.00,471.12)" font-size="8.30" fill="#222">3</text>
<text transform="translate(353.17,760.33) rotate(-90) scale(0.9530,1)" font-size="10.60" fill="#000">[U] Intracellular trafficking, secretion, and vesicular transport</text>
<text transform="translate(363.88,473.78)" font-size="8.30" fill="#222">2</text>
<text transform="translate(368.11,583.76) rotate(-90) scale(0.9530,1)" font-size="10.60" fill="#000">[Y] Nuclear structure</text>
<text transform="translate(378.75,476.44)" font-size="8.30" fill="#222">1</text>
<text transform="translate(383.05,604.07) rotate(-90) scale(0.9530,1)" font-size="10.60" fill="#000">[V] Defense mechanisms</text>
<text transform="translate(393.69,476.44)" font-size="8.30" fill="#222">1</text>
<text transform="translate(397.99,692.24) rotate(-90) scale(0.9530,1)" font-size="10.60" fill="#000">[M] Cell wall/membrane/envelope biogenesis</text>
<text transform="translate(411.91,476.50)" font-size="8.80" fill="#222">1</text>
<text transform="translate(415.05,721.68) rotate(-90) scale(1.0970,1)" font-size="10.60" fill="#000">[M] Cell wall/membrane/envelope biogenesis</text>
<text transform="translate(425.85,462.50)" font-size="8.80" fill="#222">8</text>
<text transform="translate(428.86,800.05) rotate(-90) scale(1.0970,1)" font-size="10.60" fill="#000">[U] Intracellular trafficking, secretion, and vesicular transport</text>
<text transform="translate(439.66,462.50)" font-size="8.80" fill="#222">8</text>
<text transform="translate(442.67,629.86) rotate(-90) scale(1.0970,1)" font-size="10.60" fill="#000">[W] Extracellular structures</text>
<text transform="translate(450.82,460.40)" font-size="8.80" fill="#222">10</text>
<text transform="translate(456.48,815.41) rotate(-90) scale(1.0970,1)" font-size="10.60" fill="#000">[O] Posttranslational modification, protein turnover, chaperones</text>
<text transform="translate(465.03,454.60)" font-size="8.80" fill="#222">11</text>
<text transform="translate(470.29,574.66) rotate(-90) scale(1.0970,1)" font-size="10.60" fill="#000">[Z] Cytoskeleton</text>
<text transform="translate(478.51,431.50)" font-size="8.80" fill="#222">19</text>
<text transform="translate(484.10,675.13) rotate(-90) scale(1.0970,1)" font-size="10.60" fill="#000">[T] Signal transduction mechanisms</text>
<text transform="translate(494.77,477.94)" font-size="8.80" fill="#222">1</text>
<text transform="translate(497.91,685.46) rotate(-90) scale(1.0970,1)" font-size="10.60" fill="#000">[B] Chromatin structure and dynamics</text>
<text transform="translate(508.58,477.94)" font-size="8.80" fill="#222">1</text>
<text transform="translate(511.72,700.02) rotate(-90) scale(1.0970,1)" font-size="10.60" fill="#000">[L] Replication, recombination and repair</text>
<text transform="translate(522.45,475.28)" font-size="8.80" fill="#222">2</text>
<text transform="translate(525.53,680.02) rotate(-90) scale(1.0970,1)" font-size="10.60" fill="#000">[A] RNA processing and modification</text>
<text transform="translate(536.33,469.96)" font-size="8.80" fill="#222">4</text>
<text transform="translate(539.34,574.87) rotate(-90) scale(1.0970,1)" font-size="10.60" fill="#000">[K] Transcription</text>
<text transform="translate(550.07,475.28)" font-size="8.80" fill="#222">2</text>
<text transform="translate(553.15,685.21) rotate(-90) scale(1.0970,1)" font-size="10.60" fill="#000">[C] Energy production and conversion</text>
<text transform="translate(563.88,475.28)" font-size="8.80" fill="#222">2</text>
<text transform="translate(566.96,700.10) rotate(-90) scale(1.0970,1)" font-size="10.60" fill="#000">[E] Amino acid transport and metabolism</text>
<text transform="translate(577.69,475.28)" font-size="8.80" fill="#222">2</text>
<text transform="translate(580.77,709.16) rotate(-90) scale(1.0970,1)" font-size="10.60" fill="#000">[P] Inorganic ion transport and metabolism</text>
<text transform="translate(591.57,469.96)" font-size="8.80" fill="#222">4</text>
<text transform="translate(594.58,696.87) rotate(-90) scale(1.0970,1)" font-size="10.60" fill="#000">[F] Nucleotide transport and metabolism</text>
<text transform="translate(605.38,469.96)" font-size="8.80" fill="#222">4</text>
<text transform="translate(608.39,662.62) rotate(-90) scale(1.0970,1)" font-size="10.60" fill="#000">[I] Lipid transport and metabolism</text>
<text transform="translate(619.19,469.96)" font-size="8.80" fill="#222">4</text>
<text transform="translate(622.20,828.73) rotate(-90) scale(1.0970,1)" font-size="10.60" fill="#000">[Q] Secondary metabolites biosynthesis, transport and catabolism</text>
<text transform="translate(632.93,461.98)" font-size="8.80" fill="#222">7</text>
<text transform="translate(636.01,714.33) rotate(-90) scale(1.0970,1)" font-size="10.60" fill="#000">[G] Carbohydrate transport and metabolism</text>
<text transform="translate(61.70,480.05) rotate(-90) scale(0.9083,1)" font-size="17.59" fill="#000">Number of proteins</text>
<text transform="translate(425.68,310.10) scale(1.2131,1)" font-size="10.90" fill="#000">COG/KOG Category</text>
<text transform="translate(445.63,326.20) scale(0.9133,1)" font-size="8.58" fill="#111">CELLULAR PROCESSES AND SIGNALING</text>
<text transform="translate(445.39,341.10) scale(0.9123,1)" font-size="8.58" fill="#111">INFORMATION STORAGE AND PROCESSING</text>
<text transform="translate(444.99,356.00) scale(0.9558,1)" font-size="8.14" fill="#111">METABOLISM</text>
<text transform="translate(228.23,854.70) scale(1.0543,1)" font-size="16.28" fill="#000">Up-regulation</text>
<text transform="translate(500.66,854.70) scale(1.0554,1)" font-size="16.28" fill="#000">Down-regulation</text>
<text transform="translate(36.26,906.00)" font-size="27.00" font-weight="bold" fill="#000" stroke="#000" stroke-width="0.3">d</text>
<text transform="translate(102.55,922.60) scale(0.9250,1)" font-size="9.10" fill="#111">Ribosome</text>
<text transform="translate(46.52,938.69) scale(0.9250,1)" font-size="9.10" fill="#111">Fanconi anemia pathway</text>
<text transform="translate(82.09,954.77) scale(0.9250,1)" font-size="9.10" fill="#111">DNA replication</text>
<text transform="translate(80.27,970.86) scale(0.9250,1)" font-size="9.10" fill="#111">Mismatch repair</text>
<text transform="translate(99.50,986.94) scale(0.9250,1)" font-size="9.10" fill="#111">COVID−19</text>
<text transform="translate(43.76,1003.03) scale(0.9250,1)" font-size="9.10" fill="#111">Nucleotide excision repair</text>
<text transform="translate(64.35,1019.11) scale(0.9250,1)" font-size="9.10" fill="#111">Base excision repair</text>
<text transform="translate(26.21,1035.19) scale(0.9250,1)" font-size="9.10" fill="#111">Systemic lupus erythematosus</text>
<text transform="translate(0.18,1051.28) scale(0.9250,1)" font-size="9.10" fill="#111">Porphyrin and chlorophyll metabolism</text>
<text transform="translate(40.44,1067.37) scale(0.9250,1)" font-size="9.10" fill="#111">Pt bicarbonate reclamation</text>
<text transform="translate(19.84,1083.45) scale(0.9250,1)" font-size="9.10" fill="#111">Protein digestion and absorption</text>
<text transform="translate(44.90,1099.54) scale(0.9250,1)" font-size="9.10" fill="#111">ECM−receptor interaction</text>
<text transform="translate(104.42,1115.62) scale(0.9250,1)" font-size="9.10" fill="#111">Cell cycle</text>
<text transform="translate(47.26,1131.70) scale(0.9250,1)" font-size="9.10" fill="#111">Biosynthesis of cofactors</text>
<text transform="translate(148.50,1150.10) scale(1.0126,1)" font-size="12.66" fill="#1a1a1a">1.0</text>
<text transform="translate(187.89,1150.10) scale(1.0249,1)" font-size="12.66" fill="#1a1a1a">1.5</text>
<text transform="translate(227.51,1150.10)" font-size="12.66" fill="#1a1a1a">2.0</text>
<text transform="translate(266.90,1150.10) scale(1.0126,1)" font-size="12.66" fill="#1a1a1a">2.5</text>
<text transform="translate(306.51,1150.10) scale(0.9889,1)" font-size="12.66" fill="#1a1a1a">3.0</text>
<text transform="translate(184.40,1162.30) scale(1.1564,1)" font-size="11.05" fill="#000">Log2 Fold enrichment</text>
<text transform="translate(340.26,932.60) scale(1.1728,1)" font-size="11.34" fill="#000">Protein numbers</text>
<text transform="translate(348.70,951.60) scale(1.0463,1)" font-size="12.23" fill="#000">2</text>
<text transform="translate(349.43,965.40) scale(1.0749,1)" font-size="11.52" fill="#000">18</text>
<text transform="translate(349.01,979.30) scale(1.0415,1)" font-size="12.09" fill="#000">34</text>
<text transform="translate(349.01,994.30) scale(1.0294,1)" font-size="12.23" fill="#000">50</text>
<text transform="translate(342.26,1018.60) scale(1.2262,1)" font-size="8.72" fill="#000">P value</text>
<text transform="translate(358.17,1031.40) scale(1.1507,1)" font-size="9.10" fill="#000">0.04</text>
<text transform="translate(358.17,1046.80) scale(1.1787,1)" font-size="8.96" fill="#000">0.03</text>
<text transform="translate(358.17,1062.30) scale(1.0920,1)" font-size="9.67" fill="#000">0.02</text>
<text transform="translate(358.17,1077.70) scale(1.2586,1)" font-size="8.39" fill="#000">0.01</text>
<text transform="translate(415.86,906.00)" font-size="27.00" font-weight="bold" fill="#000" stroke="#000" stroke-width="0.3">e</text>
<text transform="translate(491.36,935.70) scale(1.0815,1)" font-size="8.72" fill="#000">CDK1/2</text>
<text transform="translate(506.67,959.30) scale(1.1587,1)" font-size="11.77" fill="#000">S</text>
<text transform="translate(484.60,1008.30) scale(1.1709,1)" font-size="10.90" fill="#000">Cell cycle</text>
<text transform="translate(460.55,1032.00) scale(1.0536,1)" font-size="11.19" fill="#000">G2</text>
<text transform="translate(484.15,1056.00) scale(1.1092,1)" font-size="12.06" fill="#000">M</text>
<text transform="translate(540.97,1043.30) scale(1.0449,1)" font-size="10.90" fill="#000">G1</text>
<text transform="translate(606.81,972.70) scale(1.0685,1)" font-size="8.72" fill="#000">S-CDK</text>
<text transform="translate(588.45,1011.00) scale(1.0550,1)" font-size="9.16" fill="#000">MCM2, MCM3(<tspan fill="#f52a2a">2.5 UP</tspan>)</text>
<text transform="translate(588.46,1022.20) scale(1.0913,1)" font-size="8.72" fill="#000">MCM6, MCM8</text>
<text transform="translate(569.15,1047.80) scale(1.0754,1)" font-size="8.87" fill="#000">CDK2(<tspan fill="#f52a2a">2.676 UP</tspan>)</text>
<text transform="translate(568.05,1084.80) scale(1.1317,1)" font-size="8.43" fill="#000">PCNA(<tspan fill="#f52a2a">3.123 UP</tspan>)</text>
<text transform="translate(528.85,1115.70) scale(1.0731,1)" font-size="8.87" fill="#000">G1-CDK</text>
<text transform="translate(426.85,1085.30) scale(1.0315,1)" font-size="9.30" fill="#000">MCM2(<tspan fill="#f52a2a">2.916 UP</tspan>)</text>
<text transform="translate(426.85,1096.20) scale(1.0822,1)" font-size="8.87" fill="#000">MCM7(<tspan fill="#f52a2a">2.646 UP</tspan>)</text>
<text transform="translate(390.46,1037.50) scale(1.0663,1)" font-size="8.87" fill="#000">CDK1(<tspan fill="#f52a2a">2 UP</tspan>)</text>
<text transform="translate(390.16,1056.00) scale(1.0538,1)" font-size="9.01" fill="#000">Mki67(<tspan fill="#f52a2a">532 UP</tspan>)</text>
</g>
</svg></div>
</body></html>
